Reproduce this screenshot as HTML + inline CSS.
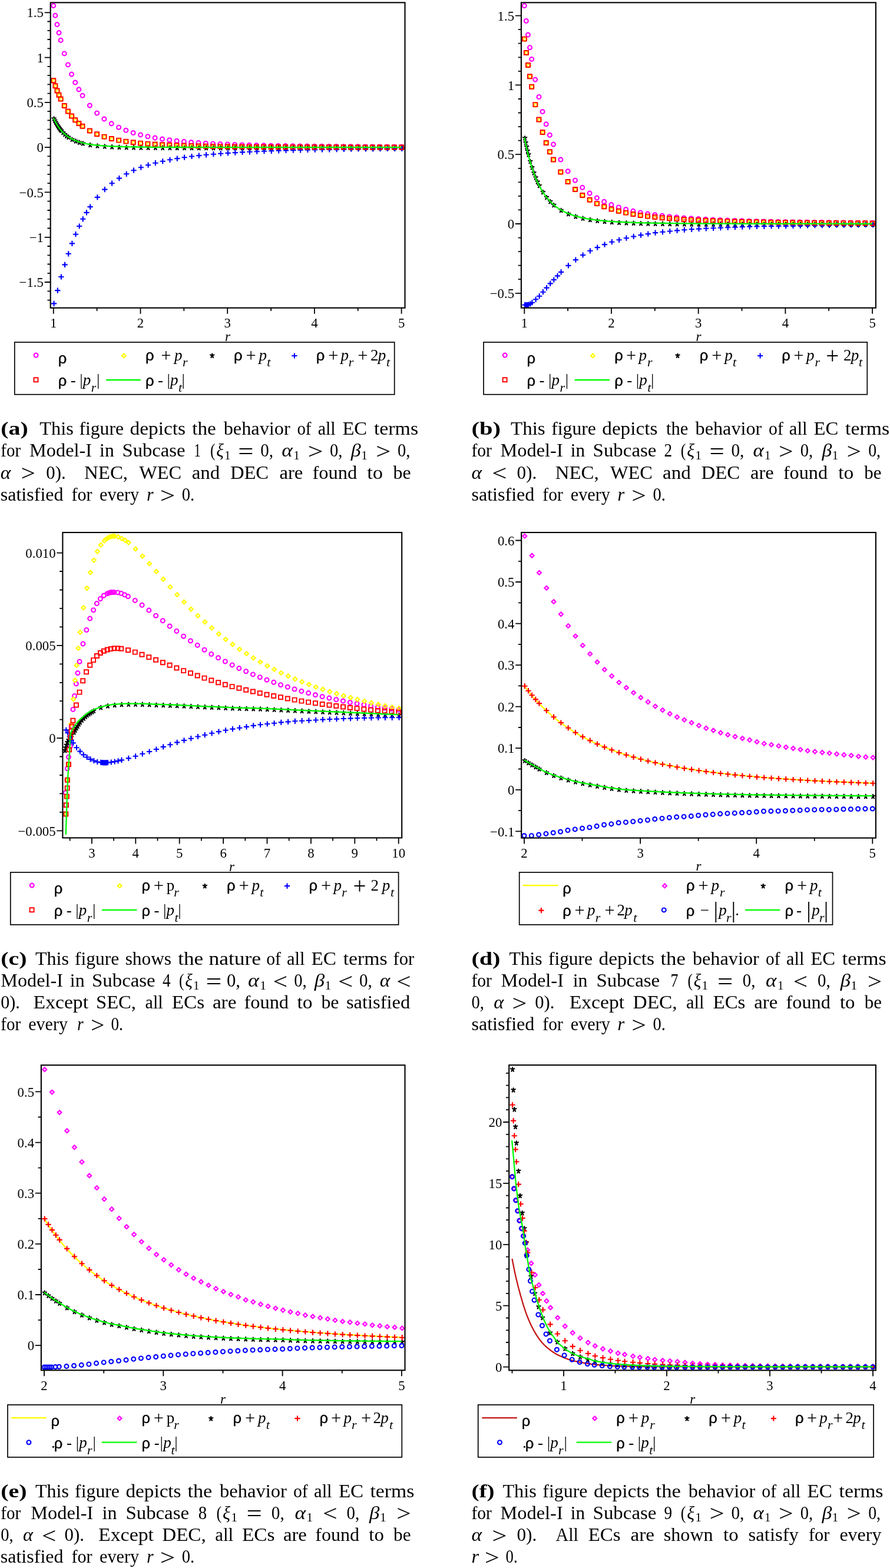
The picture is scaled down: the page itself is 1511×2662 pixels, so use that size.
<!DOCTYPE html>
<html lang="en"><head><meta charset="utf-8"><title>Energy conditions for Model-I</title>
<style>
html,body{margin:0;padding:0;background:#fff}
svg{display:block}
text{font-family:"Liberation Serif","DejaVu Serif",serif;fill:#000}
.tk text{font-size:22.8px}
.ax{font-size:23px;font-style:italic}
.lg{font-size:27px}
.lg .rho{font-family:"Liberation Sans","DejaVu Sans",sans-serif;font-size:25.6px;stroke:#000;stroke-width:.4px}
.it{font-style:italic}
.lg .sub{font-style:italic;font-size:22px}
.lg .pl{font-size:30.5px}
.lg .bp{font-size:39px}
.lg .bar{font-size:38px}
.cap text{font-size:31px}
.cap .b{font-weight:bold}
.cap .cs{font-size:22px}
.cap .rel{font-size:38px}
</style></head>
<body>
<svg xmlns="http://www.w3.org/2000/svg" width="1511" height="2662" viewBox="0 0 1511 2662">
<rect width="1511" height="2662" fill="#fff"/>
<g fill="none">
<path d="M87.3 9.6a3.45 3.45 0 1 0 6.9 0a3.45 3.45 0 1 0 -6.9 0M90.4 26.4a3.45 3.45 0 1 0 6.9 0a3.45 3.45 0 1 0 -6.9 0M93.5 41.6a3.45 3.45 0 1 0 6.9 0a3.45 3.45 0 1 0 -6.9 0M96.6 55.6a3.45 3.45 0 1 0 6.9 0a3.45 3.45 0 1 0 -6.9 0M99.7 68.4a3.45 3.45 0 1 0 6.9 0a3.45 3.45 0 1 0 -6.9 0M105.8 90.9a3.45 3.45 0 1 0 6.9 0a3.45 3.45 0 1 0 -6.9 0M112 109.9a3.45 3.45 0 1 0 6.9 0a3.45 3.45 0 1 0 -6.9 0M118.1 126.1a3.45 3.45 0 1 0 6.9 0a3.45 3.45 0 1 0 -6.9 0M124.3 140a3.45 3.45 0 1 0 6.9 0a3.45 3.45 0 1 0 -6.9 0M130.4 151.9a3.45 3.45 0 1 0 6.9 0a3.45 3.45 0 1 0 -6.9 0M136.6 162.3a3.45 3.45 0 1 0 6.9 0a3.45 3.45 0 1 0 -6.9 0M148.9 179.1a3.45 3.45 0 1 0 6.9 0a3.45 3.45 0 1 0 -6.9 0M161.2 192a3.45 3.45 0 1 0 6.9 0a3.45 3.45 0 1 0 -6.9 0M173.5 202a3.45 3.45 0 1 0 6.9 0a3.45 3.45 0 1 0 -6.9 0M185.8 209.9a3.45 3.45 0 1 0 6.9 0a3.45 3.45 0 1 0 -6.9 0M198.1 216.2a3.45 3.45 0 1 0 6.9 0a3.45 3.45 0 1 0 -6.9 0M210.4 221.3a3.45 3.45 0 1 0 6.9 0a3.45 3.45 0 1 0 -6.9 0M222.7 225.5a3.45 3.45 0 1 0 6.9 0a3.45 3.45 0 1 0 -6.9 0M235.1 228.9a3.45 3.45 0 1 0 6.9 0a3.45 3.45 0 1 0 -6.9 0M247.4 231.7a3.45 3.45 0 1 0 6.9 0a3.45 3.45 0 1 0 -6.9 0M259.7 234.1a3.45 3.45 0 1 0 6.9 0a3.45 3.45 0 1 0 -6.9 0M272 236.1a3.45 3.45 0 1 0 6.9 0a3.45 3.45 0 1 0 -6.9 0M284.3 237.8a3.45 3.45 0 1 0 6.9 0a3.45 3.45 0 1 0 -6.9 0M296.6 239.2a3.45 3.45 0 1 0 6.9 0a3.45 3.45 0 1 0 -6.9 0M308.9 240.4a3.45 3.45 0 1 0 6.9 0a3.45 3.45 0 1 0 -6.9 0M321.2 241.5a3.45 3.45 0 1 0 6.9 0a3.45 3.45 0 1 0 -6.9 0M333.5 242.4a3.45 3.45 0 1 0 6.9 0a3.45 3.45 0 1 0 -6.9 0M345.8 243.2a3.45 3.45 0 1 0 6.9 0a3.45 3.45 0 1 0 -6.9 0M358.1 243.9a3.45 3.45 0 1 0 6.9 0a3.45 3.45 0 1 0 -6.9 0M370.4 244.5a3.45 3.45 0 1 0 6.9 0a3.45 3.45 0 1 0 -6.9 0M382.8 245a3.45 3.45 0 1 0 6.9 0a3.45 3.45 0 1 0 -6.9 0M395.1 245.5a3.45 3.45 0 1 0 6.9 0a3.45 3.45 0 1 0 -6.9 0M407.4 245.9a3.45 3.45 0 1 0 6.9 0a3.45 3.45 0 1 0 -6.9 0M419.7 246.3a3.45 3.45 0 1 0 6.9 0a3.45 3.45 0 1 0 -6.9 0M432 246.6a3.45 3.45 0 1 0 6.9 0a3.45 3.45 0 1 0 -6.9 0M444.3 246.9a3.45 3.45 0 1 0 6.9 0a3.45 3.45 0 1 0 -6.9 0M456.6 247.2a3.45 3.45 0 1 0 6.9 0a3.45 3.45 0 1 0 -6.9 0M468.9 247.4a3.45 3.45 0 1 0 6.9 0a3.45 3.45 0 1 0 -6.9 0M481.2 247.6a3.45 3.45 0 1 0 6.9 0a3.45 3.45 0 1 0 -6.9 0M493.5 247.8a3.45 3.45 0 1 0 6.9 0a3.45 3.45 0 1 0 -6.9 0M505.8 248a3.45 3.45 0 1 0 6.9 0a3.45 3.45 0 1 0 -6.9 0M518.1 248.1a3.45 3.45 0 1 0 6.9 0a3.45 3.45 0 1 0 -6.9 0M530.4 248.3a3.45 3.45 0 1 0 6.9 0a3.45 3.45 0 1 0 -6.9 0M542.8 248.4a3.45 3.45 0 1 0 6.9 0a3.45 3.45 0 1 0 -6.9 0M555.1 248.5a3.45 3.45 0 1 0 6.9 0a3.45 3.45 0 1 0 -6.9 0M567.4 248.6a3.45 3.45 0 1 0 6.9 0a3.45 3.45 0 1 0 -6.9 0M579.7 248.7a3.45 3.45 0 1 0 6.9 0a3.45 3.45 0 1 0 -6.9 0M592 248.8a3.45 3.45 0 1 0 6.9 0a3.45 3.45 0 1 0 -6.9 0M604.3 248.9a3.45 3.45 0 1 0 6.9 0a3.45 3.45 0 1 0 -6.9 0M616.6 249a3.45 3.45 0 1 0 6.9 0a3.45 3.45 0 1 0 -6.9 0M628.9 249.1a3.45 3.45 0 1 0 6.9 0a3.45 3.45 0 1 0 -6.9 0M641.2 249.1a3.45 3.45 0 1 0 6.9 0a3.45 3.45 0 1 0 -6.9 0M653.5 249.2a3.45 3.45 0 1 0 6.9 0a3.45 3.45 0 1 0 -6.9 0M665.8 249.2a3.45 3.45 0 1 0 6.9 0a3.45 3.45 0 1 0 -6.9 0M678.1 249.3a3.45 3.45 0 1 0 6.9 0a3.45 3.45 0 1 0 -6.9 0" stroke="#ff00ff" stroke-width="2.15"/>
<path d="M91.6 134l3.4 3.4l-3.4 3.4l-3.4 -3.4zM94.7 143l3.4 3.4l-3.4 3.4l-3.4 -3.4zM97.8 151.1l3.4 3.4l-3.4 3.4l-3.4 -3.4zM100.8 158.4l3.4 3.4l-3.4 3.4l-3.4 -3.4zM103.9 165.1l3.4 3.4l-3.4 3.4l-3.4 -3.4zM110.1 176.6l3.4 3.4l-3.4 3.4l-3.4 -3.4zM116.2 186.2l3.4 3.4l-3.4 3.4l-3.4 -3.4zM122.4 194.2l3.4 3.4l-3.4 3.4l-3.4 -3.4zM128.5 200.9l3.4 3.4l-3.4 3.4l-3.4 -3.4zM134.7 206.6l3.4 3.4l-3.4 3.4l-3.4 -3.4zM140.8 211.5l3.4 3.4l-3.4 3.4l-3.4 -3.4zM153.1 219.2l3.4 3.4l-3.4 3.4l-3.4 -3.4zM165.4 225l3.4 3.4l-3.4 3.4l-3.4 -3.4zM177.8 229.3l3.4 3.4l-3.4 3.4l-3.4 -3.4zM190.1 232.7l3.4 3.4l-3.4 3.4l-3.4 -3.4zM202.4 235.3l3.4 3.4l-3.4 3.4l-3.4 -3.4zM214.7 237.3l3.4 3.4l-3.4 3.4l-3.4 -3.4zM227 239l3.4 3.4l-3.4 3.4l-3.4 -3.4zM239.3 240.3l3.4 3.4l-3.4 3.4l-3.4 -3.4zM251.6 241.3l3.4 3.4l-3.4 3.4l-3.4 -3.4zM263.9 242.2l3.4 3.4l-3.4 3.4l-3.4 -3.4zM276.2 242.9l3.4 3.4l-3.4 3.4l-3.4 -3.4zM288.5 243.5l3.4 3.4l-3.4 3.4l-3.4 -3.4zM300.8 244l3.4 3.4l-3.4 3.4l-3.4 -3.4zM313.1 244.4l3.4 3.4l-3.4 3.4l-3.4 -3.4zM325.5 244.8l3.4 3.4l-3.4 3.4l-3.4 -3.4zM337.8 245.1l3.4 3.4l-3.4 3.4l-3.4 -3.4zM350.1 245.4l3.4 3.4l-3.4 3.4l-3.4 -3.4zM362.4 245.6l3.4 3.4l-3.4 3.4l-3.4 -3.4zM374.7 245.8l3.4 3.4l-3.4 3.4l-3.4 -3.4zM387 246l3.4 3.4l-3.4 3.4l-3.4 -3.4zM399.3 246.1l3.4 3.4l-3.4 3.4l-3.4 -3.4zM411.6 246.2l3.4 3.4l-3.4 3.4l-3.4 -3.4zM423.9 246.3l3.4 3.4l-3.4 3.4l-3.4 -3.4zM436.2 246.4l3.4 3.4l-3.4 3.4l-3.4 -3.4zM448.5 246.5l3.4 3.4l-3.4 3.4l-3.4 -3.4zM460.8 246.6l3.4 3.4l-3.4 3.4l-3.4 -3.4zM473.2 246.7l3.4 3.4l-3.4 3.4l-3.4 -3.4zM485.5 246.7l3.4 3.4l-3.4 3.4l-3.4 -3.4zM497.8 246.8l3.4 3.4l-3.4 3.4l-3.4 -3.4zM510.1 246.8l3.4 3.4l-3.4 3.4l-3.4 -3.4zM522.4 246.9l3.4 3.4l-3.4 3.4l-3.4 -3.4zM534.7 246.9l3.4 3.4l-3.4 3.4l-3.4 -3.4zM547 246.9l3.4 3.4l-3.4 3.4l-3.4 -3.4zM559.3 247l3.4 3.4l-3.4 3.4l-3.4 -3.4zM571.6 247l3.4 3.4l-3.4 3.4l-3.4 -3.4zM583.9 247l3.4 3.4l-3.4 3.4l-3.4 -3.4zM596.2 247.1l3.4 3.4l-3.4 3.4l-3.4 -3.4zM608.5 247.1l3.4 3.4l-3.4 3.4l-3.4 -3.4zM620.9 247.1l3.4 3.4l-3.4 3.4l-3.4 -3.4zM633.2 247.1l3.4 3.4l-3.4 3.4l-3.4 -3.4zM645.5 247.1l3.4 3.4l-3.4 3.4l-3.4 -3.4zM657.8 247.1l3.4 3.4l-3.4 3.4l-3.4 -3.4zM670.1 247.2l3.4 3.4l-3.4 3.4l-3.4 -3.4zM682.4 247.2l3.4 3.4l-3.4 3.4l-3.4 -3.4z" stroke="#ffff00" stroke-width="2.2"/>
<path d="M91.6 201.6l0 -3.2M91.6 201.6l-3.1 -1.3M91.6 201.6l3.1 -1.3M91.6 201.6l-1.8 3.1M91.6 201.6l1.8 3.1M93.1 204.8l0 -3.2M93.1 204.8l-3.1 -1.3M93.1 204.8l3.1 -1.3M93.1 204.8l-1.8 3.1M93.1 204.8l1.8 3.1M94.7 207.8l0 -3.2M94.7 207.8l-3.1 -1.3M94.7 207.8l3.1 -1.3M94.7 207.8l-1.8 3.1M94.7 207.8l1.8 3.1M96.2 210.5l0 -3.2M96.2 210.5l-3.1 -1.3M96.2 210.5l3.1 -1.3M96.2 210.5l-1.8 3.1M96.2 210.5l1.8 3.1M97.8 213.1l0 -3.2M97.8 213.1l-3.1 -1.3M97.8 213.1l3.1 -1.3M97.8 213.1l-1.8 3.1M97.8 213.1l1.8 3.1M99.3 215.5l0 -3.2M99.3 215.5l-3.1 -1.3M99.3 215.5l3.1 -1.3M99.3 215.5l-1.8 3.1M99.3 215.5l1.8 3.1M100.8 217.7l0 -3.2M100.8 217.7l-3.1 -1.3M100.8 217.7l3.1 -1.3M100.8 217.7l-1.8 3.1M100.8 217.7l1.8 3.1M102.4 219.8l0 -3.2M102.4 219.8l-3.1 -1.3M102.4 219.8l3.1 -1.3M102.4 219.8l-1.8 3.1M102.4 219.8l1.8 3.1M103.9 221.7l0 -3.2M103.9 221.7l-3.1 -1.3M103.9 221.7l3.1 -1.3M103.9 221.7l-1.8 3.1M103.9 221.7l1.8 3.1M107 225.1l0 -3.2M107 225.1l-3.1 -1.3M107 225.1l3.1 -1.3M107 225.1l-1.8 3.1M107 225.1l1.8 3.1M110.1 228.1l0 -3.2M110.1 228.1l-3.1 -1.3M110.1 228.1l3.1 -1.3M110.1 228.1l-1.8 3.1M110.1 228.1l1.8 3.1M113.1 230.7l0 -3.2M113.1 230.7l-3.1 -1.3M113.1 230.7l3.1 -1.3M113.1 230.7l-1.8 3.1M113.1 230.7l1.8 3.1M116.2 232.9l0 -3.2M116.2 232.9l-3.1 -1.3M116.2 232.9l3.1 -1.3M116.2 232.9l-1.8 3.1M116.2 232.9l1.8 3.1M122.4 236.7l0 -3.2M122.4 236.7l-3.1 -1.3M122.4 236.7l3.1 -1.3M122.4 236.7l-1.8 3.1M122.4 236.7l1.8 3.1M128.5 239.5l0 -3.2M128.5 239.5l-3.1 -1.3M128.5 239.5l3.1 -1.3M128.5 239.5l-1.8 3.1M128.5 239.5l1.8 3.1M134.7 241.8l0 -3.2M134.7 241.8l-3.1 -1.3M134.7 241.8l3.1 -1.3M134.7 241.8l-1.8 3.1M134.7 241.8l1.8 3.1M140.8 243.5l0 -3.2M140.8 243.5l-3.1 -1.3M140.8 243.5l3.1 -1.3M140.8 243.5l-1.8 3.1M140.8 243.5l1.8 3.1M153.1 246l0 -3.2M153.1 246l-3.1 -1.3M153.1 246l3.1 -1.3M153.1 246l-1.8 3.1M153.1 246l1.8 3.1M165.4 247.6l0 -3.2M165.4 247.6l-3.1 -1.3M165.4 247.6l3.1 -1.3M165.4 247.6l-1.8 3.1M165.4 247.6l1.8 3.1M177.8 248.6l0 -3.2M177.8 248.6l-3.1 -1.3M177.8 248.6l3.1 -1.3M177.8 248.6l-1.8 3.1M177.8 248.6l1.8 3.1M190.1 249.4l0 -3.2M190.1 249.4l-3.1 -1.3M190.1 249.4l3.1 -1.3M190.1 249.4l-1.8 3.1M190.1 249.4l1.8 3.1M202.4 249.8l0 -3.2M202.4 249.8l-3.1 -1.3M202.4 249.8l3.1 -1.3M202.4 249.8l-1.8 3.1M202.4 249.8l1.8 3.1M214.7 250.2l0 -3.2M214.7 250.2l-3.1 -1.3M214.7 250.2l3.1 -1.3M214.7 250.2l-1.8 3.1M214.7 250.2l1.8 3.1M227 250.4l0 -3.2M227 250.4l-3.1 -1.3M227 250.4l3.1 -1.3M227 250.4l-1.8 3.1M227 250.4l1.8 3.1M239.3 250.6l0 -3.2M239.3 250.6l-3.1 -1.3M239.3 250.6l3.1 -1.3M239.3 250.6l-1.8 3.1M239.3 250.6l1.8 3.1M251.6 250.7l0 -3.2M251.6 250.7l-3.1 -1.3M251.6 250.7l3.1 -1.3M251.6 250.7l-1.8 3.1M251.6 250.7l1.8 3.1M263.9 250.8l0 -3.2M263.9 250.8l-3.1 -1.3M263.9 250.8l3.1 -1.3M263.9 250.8l-1.8 3.1M263.9 250.8l1.8 3.1M276.2 250.9l0 -3.2M276.2 250.9l-3.1 -1.3M276.2 250.9l3.1 -1.3M276.2 250.9l-1.8 3.1M276.2 250.9l1.8 3.1M288.5 250.9l0 -3.2M288.5 250.9l-3.1 -1.3M288.5 250.9l3.1 -1.3M288.5 250.9l-1.8 3.1M288.5 250.9l1.8 3.1M300.8 251l0 -3.2M300.8 251l-3.1 -1.3M300.8 251l3.1 -1.3M300.8 251l-1.8 3.1M300.8 251l1.8 3.1M313.1 251l0 -3.2M313.1 251l-3.1 -1.3M313.1 251l3.1 -1.3M313.1 251l-1.8 3.1M313.1 251l1.8 3.1M325.5 251l0 -3.2M325.5 251l-3.1 -1.3M325.5 251l3.1 -1.3M325.5 251l-1.8 3.1M325.5 251l1.8 3.1M337.8 251.1l0 -3.2M337.8 251.1l-3.1 -1.3M337.8 251.1l3.1 -1.3M337.8 251.1l-1.8 3.1M337.8 251.1l1.8 3.1M350.1 251.1l0 -3.2M350.1 251.1l-3.1 -1.3M350.1 251.1l3.1 -1.3M350.1 251.1l-1.8 3.1M350.1 251.1l1.8 3.1M362.4 251.1l0 -3.2M362.4 251.1l-3.1 -1.3M362.4 251.1l3.1 -1.3M362.4 251.1l-1.8 3.1M362.4 251.1l1.8 3.1M374.7 251.1l0 -3.2M374.7 251.1l-3.1 -1.3M374.7 251.1l3.1 -1.3M374.7 251.1l-1.8 3.1M374.7 251.1l1.8 3.1M387 251.1l0 -3.2M387 251.1l-3.1 -1.3M387 251.1l3.1 -1.3M387 251.1l-1.8 3.1M387 251.1l1.8 3.1M399.3 251.1l0 -3.2M399.3 251.1l-3.1 -1.3M399.3 251.1l3.1 -1.3M399.3 251.1l-1.8 3.1M399.3 251.1l1.8 3.1M411.6 251.1l0 -3.2M411.6 251.1l-3.1 -1.3M411.6 251.1l3.1 -1.3M411.6 251.1l-1.8 3.1M411.6 251.1l1.8 3.1M423.9 251.1l0 -3.2M423.9 251.1l-3.1 -1.3M423.9 251.1l3.1 -1.3M423.9 251.1l-1.8 3.1M423.9 251.1l1.8 3.1M436.2 251.1l0 -3.2M436.2 251.1l-3.1 -1.3M436.2 251.1l3.1 -1.3M436.2 251.1l-1.8 3.1M436.2 251.1l1.8 3.1M448.5 251.1l0 -3.2M448.5 251.1l-3.1 -1.3M448.5 251.1l3.1 -1.3M448.5 251.1l-1.8 3.1M448.5 251.1l1.8 3.1M460.8 251.1l0 -3.2M460.8 251.1l-3.1 -1.3M460.8 251.1l3.1 -1.3M460.8 251.1l-1.8 3.1M460.8 251.1l1.8 3.1M473.2 251.1l0 -3.2M473.2 251.1l-3.1 -1.3M473.2 251.1l3.1 -1.3M473.2 251.1l-1.8 3.1M473.2 251.1l1.8 3.1M485.5 251.1l0 -3.2M485.5 251.1l-3.1 -1.3M485.5 251.1l3.1 -1.3M485.5 251.1l-1.8 3.1M485.5 251.1l1.8 3.1M497.8 251.1l0 -3.2M497.8 251.1l-3.1 -1.3M497.8 251.1l3.1 -1.3M497.8 251.1l-1.8 3.1M497.8 251.1l1.8 3.1M510.1 251.1l0 -3.2M510.1 251.1l-3.1 -1.3M510.1 251.1l3.1 -1.3M510.1 251.1l-1.8 3.1M510.1 251.1l1.8 3.1M522.4 251.1l0 -3.2M522.4 251.1l-3.1 -1.3M522.4 251.1l3.1 -1.3M522.4 251.1l-1.8 3.1M522.4 251.1l1.8 3.1M534.7 251.1l0 -3.2M534.7 251.1l-3.1 -1.3M534.7 251.1l3.1 -1.3M534.7 251.1l-1.8 3.1M534.7 251.1l1.8 3.1M547 251.1l0 -3.2M547 251.1l-3.1 -1.3M547 251.1l3.1 -1.3M547 251.1l-1.8 3.1M547 251.1l1.8 3.1M559.3 251.1l0 -3.2M559.3 251.1l-3.1 -1.3M559.3 251.1l3.1 -1.3M559.3 251.1l-1.8 3.1M559.3 251.1l1.8 3.1M571.6 251.1l0 -3.2M571.6 251.1l-3.1 -1.3M571.6 251.1l3.1 -1.3M571.6 251.1l-1.8 3.1M571.6 251.1l1.8 3.1M583.9 251.1l0 -3.2M583.9 251.1l-3.1 -1.3M583.9 251.1l3.1 -1.3M583.9 251.1l-1.8 3.1M583.9 251.1l1.8 3.1M596.2 251.1l0 -3.2M596.2 251.1l-3.1 -1.3M596.2 251.1l3.1 -1.3M596.2 251.1l-1.8 3.1M596.2 251.1l1.8 3.1M608.5 251.1l0 -3.2M608.5 251.1l-3.1 -1.3M608.5 251.1l3.1 -1.3M608.5 251.1l-1.8 3.1M608.5 251.1l1.8 3.1M620.9 251.1l0 -3.2M620.9 251.1l-3.1 -1.3M620.9 251.1l3.1 -1.3M620.9 251.1l-1.8 3.1M620.9 251.1l1.8 3.1M633.2 251.1l0 -3.2M633.2 251.1l-3.1 -1.3M633.2 251.1l3.1 -1.3M633.2 251.1l-1.8 3.1M633.2 251.1l1.8 3.1M645.5 251.1l0 -3.2M645.5 251.1l-3.1 -1.3M645.5 251.1l3.1 -1.3M645.5 251.1l-1.8 3.1M645.5 251.1l1.8 3.1M657.8 251.1l0 -3.2M657.8 251.1l-3.1 -1.3M657.8 251.1l3.1 -1.3M657.8 251.1l-1.8 3.1M657.8 251.1l1.8 3.1M670.1 251.1l0 -3.2M670.1 251.1l-3.1 -1.3M670.1 251.1l3.1 -1.3M670.1 251.1l-1.8 3.1M670.1 251.1l1.8 3.1M682.4 251.1l0 -3.2M682.4 251.1l-3.1 -1.3M682.4 251.1l3.1 -1.3M682.4 251.1l-1.8 3.1M682.4 251.1l1.8 3.1" stroke="#000000" stroke-width="2.2" stroke-linecap="round"/>
<path d="M87 515.4h9.2M91.6 510.8v9.2M93.2 493.1h9.2M97.8 488.5v9.2M99.3 470h9.2M103.9 465.4v9.2M105.5 449.4h9.2M110.1 444.8v9.2M111.6 430.8h9.2M116.2 426.2v9.2M117.8 413.4h9.2M122.4 408.8v9.2M123.9 397.7h9.2M128.5 393.1v9.2M130.1 384h9.2M134.7 379.4v9.2M136.2 371.8h9.2M140.8 367.2v9.2M142.4 360.9h9.2M147 356.3v9.2M148.5 351.1h9.2M153.1 346.5v9.2M160.8 334.9h9.2M165.4 330.3v9.2M173.2 321.6h9.2M177.8 317v9.2M185.5 311.2h9.2M190.1 306.6v9.2M197.8 302.6h9.2M202.4 298v9.2M210.1 295.3h9.2M214.7 290.7v9.2M222.4 289.2h9.2M227 284.6v9.2M234.7 284.2h9.2M239.3 279.6v9.2M247 280.2h9.2M251.6 275.6v9.2M259.3 276.7h9.2M263.9 272.1v9.2M271.6 273.8h9.2M276.2 269.2v9.2M283.9 271.3h9.2M288.5 266.7v9.2M296.2 269.1h9.2M300.8 264.5v9.2M308.5 267.2h9.2M313.1 262.6v9.2M320.9 265.5h9.2M325.5 260.9v9.2M333.2 264.1h9.2M337.8 259.5v9.2M345.5 262.8h9.2M350.1 258.2v9.2M357.8 261.7h9.2M362.4 257.1v9.2M370.1 260.7h9.2M374.7 256.1v9.2M382.4 259.9h9.2M387 255.3v9.2M394.7 259.1h9.2M399.3 254.5v9.2M407 258.4h9.2M411.6 253.8v9.2M419.3 257.8h9.2M423.9 253.2v9.2M431.6 257.2h9.2M436.2 252.6v9.2M443.9 256.7h9.2M448.5 252.1v9.2M456.2 256.3h9.2M460.8 251.7v9.2M468.6 255.8h9.2M473.2 251.2v9.2M480.9 255.5h9.2M485.5 250.9v9.2M493.2 255.1h9.2M497.8 250.5v9.2M505.5 254.8h9.2M510.1 250.2v9.2M517.8 254.5h9.2M522.4 249.9v9.2M530.1 254.2h9.2M534.7 249.6v9.2M542.4 254h9.2M547 249.4v9.2M554.7 253.8h9.2M559.3 249.2v9.2M567 253.6h9.2M571.6 249v9.2M579.3 253.4h9.2M583.9 248.8v9.2M591.6 253.2h9.2M596.2 248.6v9.2M603.9 253h9.2M608.5 248.4v9.2M616.3 252.9h9.2M620.9 248.3v9.2M628.6 252.8h9.2M633.2 248.2v9.2M640.9 252.6h9.2M645.5 248v9.2M653.2 252.5h9.2M657.8 247.9v9.2M665.5 252.4h9.2M670.1 247.8v9.2M677.8 252.3h9.2M682.4 247.7v9.2" stroke="#0000ff" stroke-width="2.1"/>
<path d="M87.3 133.3h7v7h-7zM90.4 142.3h7v7h-7zM93.5 150.4h7v7h-7zM96.5 157.7h7v7h-7zM99.6 164.4h7v7h-7zM105.8 175.9h7v7h-7zM111.9 185.5h7v7h-7zM118.1 193.5h7v7h-7zM124.2 200.2h7v7h-7zM130.4 205.9h7v7h-7zM136.5 210.8h7v7h-7zM148.8 218.5h7v7h-7zM161.1 224.3h7v7h-7zM173.5 228.6h7v7h-7zM185.8 232h7v7h-7zM198.1 234.6h7v7h-7zM210.4 236.6h7v7h-7zM222.7 238.3h7v7h-7zM235 239.6h7v7h-7zM247.3 240.6h7v7h-7zM259.6 241.5h7v7h-7zM271.9 242.2h7v7h-7zM284.2 242.8h7v7h-7zM296.5 243.3h7v7h-7zM308.8 243.7h7v7h-7zM321.2 244.1h7v7h-7zM333.5 244.4h7v7h-7zM345.8 244.7h7v7h-7zM358.1 244.9h7v7h-7zM370.4 245.1h7v7h-7zM382.7 245.3h7v7h-7zM395 245.4h7v7h-7zM407.3 245.5h7v7h-7zM419.6 245.6h7v7h-7zM431.9 245.7h7v7h-7zM444.2 245.8h7v7h-7zM456.5 245.9h7v7h-7zM468.9 246h7v7h-7zM481.2 246h7v7h-7zM493.5 246.1h7v7h-7zM505.8 246.1h7v7h-7zM518.1 246.2h7v7h-7zM530.4 246.2h7v7h-7zM542.7 246.2h7v7h-7zM555 246.3h7v7h-7zM567.3 246.3h7v7h-7zM579.6 246.3h7v7h-7zM591.9 246.4h7v7h-7zM604.2 246.4h7v7h-7zM616.6 246.4h7v7h-7zM628.9 246.4h7v7h-7zM641.2 246.4h7v7h-7zM653.5 246.4h7v7h-7zM665.8 246.5h7v7h-7zM678.1 246.5h7v7h-7z" stroke="#ff0000" stroke-width="1.95"/>
<path d="M90.8 200.6L92.8 204.7L94.8 208.4L96.7 211.7L98.7 214.8L100.7 217.6L102.7 220.1L104.6 222.4L106.6 224.5L108.6 226.5L110.6 228.2L112.5 229.8L114.5 231.3L116.5 232.7L118.5 233.9L120.4 235L122.4 236.1L124.4 237.1L126.4 237.9L128.3 238.8L130.3 239.5L132.3 240.2L134.3 240.9L136.2 241.5L138.2 242L140.2 242.5L142.2 243L144.1 243.5L146.1 243.9L148.1 244.3L150.1 244.6L152.1 244.9L154 245.3L156 245.5L158 245.8L160 246.1L161.9 246.3L163.9 246.5L165.9 246.7L167.9 246.9L169.8 247.1L171.8 247.3L173.8 247.4L175.8 247.6L177.7 247.7L179.7 247.8L181.7 248L183.7 248.1L185.6 248.2L187.6 248.3L189.6 248.4L191.6 248.5L193.5 248.5L195.5 248.6L197.5 248.7L199.5 248.8L201.5 248.8L203.4 248.9L205.4 249L207.4 249L209.4 249.1L211.3 249.1L213.3 249.2L215.3 249.2L217.3 249.3L219.2 249.3L221.2 249.3L223.2 249.4L225.2 249.4L227.1 249.4L229.1 249.5L231.1 249.5L233.1 249.5L235 249.6L237 249.6L239 249.6L241 249.6L242.9 249.7L244.9 249.7L246.9 249.7L248.9 249.7L250.8 249.7L252.8 249.7L254.8 249.8L256.8 249.8L258.8 249.8L260.7 249.8L262.7 249.8L264.7 249.8L266.7 249.8L268.6 249.9L270.6 249.9L272.6 249.9L274.6 249.9L276.5 249.9L278.5 249.9L280.5 249.9L282.5 249.9L284.4 249.9L286.4 249.9L288.4 250L290.4 250L292.3 250L294.3 250L296.3 250L298.3 250L300.2 250L302.2 250L304.2 250L306.2 250L308.2 250L310.1 250L312.1 250L314.1 250L316.1 250L318 250L320 250L322 250L324 250L325.9 250L327.9 250.1L329.9 250.1L331.9 250.1L333.8 250.1L335.8 250.1L337.8 250.1L339.8 250.1L341.7 250.1L343.7 250.1L345.7 250.1L347.7 250.1L349.6 250.1L351.6 250.1L353.6 250.1L355.6 250.1L357.5 250.1L359.5 250.1L361.5 250.1L363.5 250.1L365.5 250.1L367.4 250.1L369.4 250.1L371.4 250.1L373.4 250.1L375.3 250.1L377.3 250.1L379.3 250.1L381.3 250.1L383.2 250.1L385.2 250.1L387.2 250.1L389.2 250.1L391.1 250.1L393.1 250.1L395.1 250.1L397.1 250.1L399 250.1L401 250.1L403 250.1L405 250.1L406.9 250.1L408.9 250.1L410.9 250.1L412.9 250.1L414.9 250.1L416.8 250.1L418.8 250.1L420.8 250.1L422.8 250.1L424.7 250.1L426.7 250.1L428.7 250.1L430.7 250.1L432.6 250.1L434.6 250.1L436.6 250.1L438.6 250.1L440.5 250.1L442.5 250.1L444.5 250.1L446.5 250.1L448.4 250.1L450.4 250.1L452.4 250.1L454.4 250.1L456.3 250.1L458.3 250.1L460.3 250.1L462.3 250.1L464.2 250.1L466.2 250.1L468.2 250.1L470.2 250.1L472.2 250.1L474.1 250.1L476.1 250.1L478.1 250.1L480.1 250.1L482 250.1L484 250.1L486 250.1L488 250.1L489.9 250.1L491.9 250.1L493.9 250.1L495.9 250.1L497.8 250.1L499.8 250.1L501.8 250.1L503.8 250.1L505.7 250.1L507.7 250.1L509.7 250.1L511.7 250.1L513.6 250.1L515.6 250.1L517.6 250.1L519.6 250.1L521.6 250.1L523.5 250.1L525.5 250.1L527.5 250.1L529.5 250.1L531.4 250.1L533.4 250.1L535.4 250.1L537.4 250.1L539.3 250.1L541.3 250.1L543.3 250.1L545.3 250.1L547.2 250.1L549.2 250.1L551.2 250.1L553.2 250.1L555.1 250.1L557.1 250.1L559.1 250.1L561.1 250.1L563 250.1L565 250.1L567 250.1L569 250.1L570.9 250.1L572.9 250.1L574.9 250.1L576.9 250.1L578.9 250.1L580.8 250.1L582.8 250.1L584.8 250.1L586.8 250.1L588.7 250.1L590.7 250.1L592.7 250.1L594.7 250.1L596.6 250.1L598.6 250.1L600.6 250.1L602.6 250.1L604.5 250.1L606.5 250.1L608.5 250.1L610.5 250.1L612.4 250.1L614.4 250.1L616.4 250.1L618.4 250.1L620.3 250.1L622.3 250.1L624.3 250.1L626.3 250.1L628.3 250.1L630.2 250.1L632.2 250.1L634.2 250.1L636.2 250.1L638.1 250.1L640.1 250.1L642.1 250.1L644.1 250.1L646 250.1L648 250.1L650 250.1L652 250.1L653.9 250.1L655.9 250.1L657.9 250.1L659.9 250.1L661.8 250.1L663.8 250.1L665.8 250.1L667.8 250.1L669.7 250.1L671.7 250.1L673.7 250.1L675.7 250.1L677.6 250.1L679.6 250.1L681.6 250.1" stroke="#00ff00" stroke-width="2.3" stroke-linejoin="round"/>
<rect x="85.7" y="4.4" width="601.8" height="518.3" stroke="#000" stroke-width="2.1"/>
<path d="M90.8 522.7v10M238.5 522.7v10M386.2 522.7v10M533.9 522.7v10M681.6 522.7v10M164.6 522.7v5.2M312.3 522.7v5.2M460.1 522.7v5.2M607.7 522.7v5.2M85.7 21.3h-10M85.7 97.6h-10M85.7 173.9h-10M85.7 250.2h-10M85.7 326.4h-10M85.7 402.8h-10M85.7 479h-10M85.7 509.6h-5.2M85.7 494.3h-5.2M85.7 463.8h-5.2M85.7 448.5h-5.2M85.7 433.3h-5.2M85.7 418h-5.2M85.7 387.5h-5.2M85.7 372.2h-5.2M85.7 357h-5.2M85.7 341.7h-5.2M85.7 311.2h-5.2M85.7 295.9h-5.2M85.7 280.7h-5.2M85.7 265.4h-5.2M85.7 234.9h-5.2M85.7 219.6h-5.2M85.7 204.4h-5.2M85.7 189.1h-5.2M85.7 158.6h-5.2M85.7 143.3h-5.2M85.7 128.1h-5.2M85.7 112.8h-5.2M85.7 82.3h-5.2M85.7 67h-5.2M85.7 51.8h-5.2M85.7 36.5h-5.2" stroke="#000" stroke-width="1.8"/>
</g>
<g class="tk" transform="scale(1,1.04)">
<text x="90.8" y="534.9" text-anchor="middle">1</text>
<text x="238.5" y="534.9" text-anchor="middle">2</text>
<text x="386.2" y="534.9" text-anchor="middle">3</text>
<text x="533.9" y="534.9" text-anchor="middle">4</text>
<text x="681.6" y="534.9" text-anchor="middle">5</text>
<text x="73.9" y="28.32" text-anchor="end">1.5</text>
<text x="73.9" y="101.68" text-anchor="end">1</text>
<text x="73.9" y="175.05" text-anchor="end">0.5</text>
<text x="73.9" y="248.41" text-anchor="end">0</text>
<text x="73.9" y="321.78" text-anchor="end">−0.5</text>
<text x="73.9" y="395.14" text-anchor="end">−1</text>
<text x="73.9" y="468.51" text-anchor="end">−1.5</text>
</g>
<text class="ax" x="386.5" y="579.4" text-anchor="middle">r</text>
<rect x="24.8" y="581" width="644.9" height="88.7" fill="#fff" stroke="#000" stroke-width="1.7"/>
<g fill="none">
<path d="M57.6 603.1a3.45 3.45 0 1 0 6.9 0a3.45 3.45 0 1 0 -6.9 0" stroke="#ff00ff" stroke-width="2.15"/>
<path d="M210.3 600.5l3.4 3.4l-3.4 3.4l-3.4 -3.4z" stroke="#ffff00" stroke-width="2.2"/>
<path d="M360.2 603.8l0 -3.2M360.2 603.8l-3.1 -1.3M360.2 603.8l3.1 -1.3M360.2 603.8l-1.8 3.1M360.2 603.8l1.8 3.1" stroke="#000000" stroke-width="2.2" stroke-linecap="round"/>
<path d="M495.3 604h9.2M499.9 599.4v9.2" stroke="#0000ff" stroke-width="2.1"/>
<path d="M57.5 641.3h7v7h-7z" stroke="#ff0000" stroke-width="1.95"/>
<path d="M180.2 645H238.9" stroke="#00ff00" stroke-width="2.3"/>
</g>
<text class="lg"><tspan class="rho" x="98.8" y="616.5">ρ</tspan><tspan class="rho" x="246.9" y="612.4">ρ</tspan><tspan class="pl" x="273.3" y="613.8">+</tspan><tspan class="it" x="296.1" y="611.8">p</tspan><tspan class="sub" x="310.1" y="622.4">r</tspan><tspan class="rho" x="397.1" y="612.4">ρ</tspan><tspan class="pl" x="417.5" y="613.8">+</tspan><tspan class="it" x="439.5" y="611.8">p</tspan><tspan class="sub" x="453.3" y="622.4">t</tspan><tspan class="rho" x="536.8" y="612.4">ρ</tspan><tspan class="pl" x="557.2" y="613.8">+</tspan><tspan class="it" x="578.6" y="611.8">p</tspan><tspan class="sub" x="591.7" y="622.4">r</tspan><tspan class="pl" x="607.3" y="613.8">+</tspan><tspan x="629" y="611.8">2</tspan><tspan class="it" x="641.7" y="611.8">p</tspan><tspan class="sub" x="656.1" y="622.4">t</tspan><tspan class="rho" x="98.8" y="654.7">ρ</tspan><tspan x="119.8" y="654.1">-</tspan><tspan x="135.3" y="654.1">|</tspan><tspan class="it" x="140.8" y="654.1">p</tspan><tspan class="sub" x="154.8" y="664.7">r</tspan><tspan x="164.1" y="654.1">|</tspan><tspan class="rho" x="246.9" y="654.7">ρ</tspan><tspan x="267.9" y="654.1">-</tspan><tspan x="283.4" y="654.1">|</tspan><tspan class="it" x="289" y="654.1">p</tspan><tspan class="sub" x="303" y="664.7">t</tspan><tspan x="308.6" y="654.1">|</tspan></text>
<g fill="none">
<path d="M886.8 9.7a3.45 3.45 0 1 0 6.9 0a3.45 3.45 0 1 0 -6.9 0M889.9 35.5a3.45 3.45 0 1 0 6.9 0a3.45 3.45 0 1 0 -6.9 0M893 59.1a3.45 3.45 0 1 0 6.9 0a3.45 3.45 0 1 0 -6.9 0M896.1 80.7a3.45 3.45 0 1 0 6.9 0a3.45 3.45 0 1 0 -6.9 0M899.2 100.4a3.45 3.45 0 1 0 6.9 0a3.45 3.45 0 1 0 -6.9 0M905.3 135.1a3.45 3.45 0 1 0 6.9 0a3.45 3.45 0 1 0 -6.9 0M911.5 164.5a3.45 3.45 0 1 0 6.9 0a3.45 3.45 0 1 0 -6.9 0M917.6 189.5a3.45 3.45 0 1 0 6.9 0a3.45 3.45 0 1 0 -6.9 0M923.8 210.9a3.45 3.45 0 1 0 6.9 0a3.45 3.45 0 1 0 -6.9 0M929.9 229.3a3.45 3.45 0 1 0 6.9 0a3.45 3.45 0 1 0 -6.9 0M936.1 245.1a3.45 3.45 0 1 0 6.9 0a3.45 3.45 0 1 0 -6.9 0M948.4 271a3.45 3.45 0 1 0 6.9 0a3.45 3.45 0 1 0 -6.9 0M960.7 290.8a3.45 3.45 0 1 0 6.9 0a3.45 3.45 0 1 0 -6.9 0M973 306.2a3.45 3.45 0 1 0 6.9 0a3.45 3.45 0 1 0 -6.9 0M985.3 318.4a3.45 3.45 0 1 0 6.9 0a3.45 3.45 0 1 0 -6.9 0M997.6 328.1a3.45 3.45 0 1 0 6.9 0a3.45 3.45 0 1 0 -6.9 0M1009.9 336a3.45 3.45 0 1 0 6.9 0a3.45 3.45 0 1 0 -6.9 0M1022.2 342.4a3.45 3.45 0 1 0 6.9 0a3.45 3.45 0 1 0 -6.9 0M1034.5 347.6a3.45 3.45 0 1 0 6.9 0a3.45 3.45 0 1 0 -6.9 0M1046.9 351.9a3.45 3.45 0 1 0 6.9 0a3.45 3.45 0 1 0 -6.9 0M1059.2 355.5a3.45 3.45 0 1 0 6.9 0a3.45 3.45 0 1 0 -6.9 0M1071.5 358.4a3.45 3.45 0 1 0 6.9 0a3.45 3.45 0 1 0 -6.9 0M1083.8 360.9a3.45 3.45 0 1 0 6.9 0a3.45 3.45 0 1 0 -6.9 0M1096.1 363a3.45 3.45 0 1 0 6.9 0a3.45 3.45 0 1 0 -6.9 0M1108.4 364.8a3.45 3.45 0 1 0 6.9 0a3.45 3.45 0 1 0 -6.9 0M1120.7 366.3a3.45 3.45 0 1 0 6.9 0a3.45 3.45 0 1 0 -6.9 0M1133 367.7a3.45 3.45 0 1 0 6.9 0a3.45 3.45 0 1 0 -6.9 0M1145.3 368.8a3.45 3.45 0 1 0 6.9 0a3.45 3.45 0 1 0 -6.9 0M1157.6 369.9a3.45 3.45 0 1 0 6.9 0a3.45 3.45 0 1 0 -6.9 0M1169.9 370.8a3.45 3.45 0 1 0 6.9 0a3.45 3.45 0 1 0 -6.9 0M1182.2 371.6a3.45 3.45 0 1 0 6.9 0a3.45 3.45 0 1 0 -6.9 0M1194.6 372.3a3.45 3.45 0 1 0 6.9 0a3.45 3.45 0 1 0 -6.9 0M1206.9 373a3.45 3.45 0 1 0 6.9 0a3.45 3.45 0 1 0 -6.9 0M1219.2 373.5a3.45 3.45 0 1 0 6.9 0a3.45 3.45 0 1 0 -6.9 0M1231.5 374.1a3.45 3.45 0 1 0 6.9 0a3.45 3.45 0 1 0 -6.9 0M1243.8 374.5a3.45 3.45 0 1 0 6.9 0a3.45 3.45 0 1 0 -6.9 0M1256.1 374.9a3.45 3.45 0 1 0 6.9 0a3.45 3.45 0 1 0 -6.9 0M1268.4 375.3a3.45 3.45 0 1 0 6.9 0a3.45 3.45 0 1 0 -6.9 0M1280.7 375.7a3.45 3.45 0 1 0 6.9 0a3.45 3.45 0 1 0 -6.9 0M1293 376a3.45 3.45 0 1 0 6.9 0a3.45 3.45 0 1 0 -6.9 0M1305.3 376.2a3.45 3.45 0 1 0 6.9 0a3.45 3.45 0 1 0 -6.9 0M1317.6 376.5a3.45 3.45 0 1 0 6.9 0a3.45 3.45 0 1 0 -6.9 0M1329.9 376.7a3.45 3.45 0 1 0 6.9 0a3.45 3.45 0 1 0 -6.9 0M1342.3 377a3.45 3.45 0 1 0 6.9 0a3.45 3.45 0 1 0 -6.9 0M1354.6 377.1a3.45 3.45 0 1 0 6.9 0a3.45 3.45 0 1 0 -6.9 0M1366.9 377.3a3.45 3.45 0 1 0 6.9 0a3.45 3.45 0 1 0 -6.9 0M1379.2 377.5a3.45 3.45 0 1 0 6.9 0a3.45 3.45 0 1 0 -6.9 0M1391.5 377.6a3.45 3.45 0 1 0 6.9 0a3.45 3.45 0 1 0 -6.9 0M1403.8 377.8a3.45 3.45 0 1 0 6.9 0a3.45 3.45 0 1 0 -6.9 0M1416.1 377.9a3.45 3.45 0 1 0 6.9 0a3.45 3.45 0 1 0 -6.9 0M1428.4 378a3.45 3.45 0 1 0 6.9 0a3.45 3.45 0 1 0 -6.9 0M1440.7 378.1a3.45 3.45 0 1 0 6.9 0a3.45 3.45 0 1 0 -6.9 0M1453 378.3a3.45 3.45 0 1 0 6.9 0a3.45 3.45 0 1 0 -6.9 0M1465.3 378.4a3.45 3.45 0 1 0 6.9 0a3.45 3.45 0 1 0 -6.9 0M1477.6 378.4a3.45 3.45 0 1 0 6.9 0a3.45 3.45 0 1 0 -6.9 0" stroke="#ff00ff" stroke-width="2.15"/>
<path d="M891.1 63.3l3.4 3.4l-3.4 3.4l-3.4 -3.4zM894.2 86.6l3.4 3.4l-3.4 3.4l-3.4 -3.4zM897.3 107.7l3.4 3.4l-3.4 3.4l-3.4 -3.4zM900.3 126.9l3.4 3.4l-3.4 3.4l-3.4 -3.4zM903.4 144.4l3.4 3.4l-3.4 3.4l-3.4 -3.4zM909.6 174.8l3.4 3.4l-3.4 3.4l-3.4 -3.4zM915.7 200.2l3.4 3.4l-3.4 3.4l-3.4 -3.4zM921.9 221.6l3.4 3.4l-3.4 3.4l-3.4 -3.4zM928 239.7l3.4 3.4l-3.4 3.4l-3.4 -3.4zM934.2 255l3.4 3.4l-3.4 3.4l-3.4 -3.4zM940.3 268.1l3.4 3.4l-3.4 3.4l-3.4 -3.4zM952.6 289.1l3.4 3.4l-3.4 3.4l-3.4 -3.4zM964.9 305.7l3.4 3.4l-3.4 3.4l-3.4 -3.4zM977.3 318.6l3.4 3.4l-3.4 3.4l-3.4 -3.4zM989.6 328.6l3.4 3.4l-3.4 3.4l-3.4 -3.4zM1001.9 336.5l3.4 3.4l-3.4 3.4l-3.4 -3.4zM1014.2 342.8l3.4 3.4l-3.4 3.4l-3.4 -3.4zM1026.5 347.9l3.4 3.4l-3.4 3.4l-3.4 -3.4zM1038.8 352.1l3.4 3.4l-3.4 3.4l-3.4 -3.4zM1051.1 355.5l3.4 3.4l-3.4 3.4l-3.4 -3.4zM1063.4 358.3l3.4 3.4l-3.4 3.4l-3.4 -3.4zM1075.7 360.7l3.4 3.4l-3.4 3.4l-3.4 -3.4zM1088 362.6l3.4 3.4l-3.4 3.4l-3.4 -3.4zM1100.3 364.3l3.4 3.4l-3.4 3.4l-3.4 -3.4zM1112.6 365.7l3.4 3.4l-3.4 3.4l-3.4 -3.4zM1125 366.9l3.4 3.4l-3.4 3.4l-3.4 -3.4zM1137.3 367.9l3.4 3.4l-3.4 3.4l-3.4 -3.4zM1149.6 368.8l3.4 3.4l-3.4 3.4l-3.4 -3.4zM1161.9 369.6l3.4 3.4l-3.4 3.4l-3.4 -3.4zM1174.2 370.3l3.4 3.4l-3.4 3.4l-3.4 -3.4zM1186.5 370.9l3.4 3.4l-3.4 3.4l-3.4 -3.4zM1198.8 371.5l3.4 3.4l-3.4 3.4l-3.4 -3.4zM1211.1 372l3.4 3.4l-3.4 3.4l-3.4 -3.4zM1223.4 372.4l3.4 3.4l-3.4 3.4l-3.4 -3.4zM1235.7 372.8l3.4 3.4l-3.4 3.4l-3.4 -3.4zM1248 373.2l3.4 3.4l-3.4 3.4l-3.4 -3.4zM1260.3 373.5l3.4 3.4l-3.4 3.4l-3.4 -3.4zM1272.7 373.7l3.4 3.4l-3.4 3.4l-3.4 -3.4zM1285 374l3.4 3.4l-3.4 3.4l-3.4 -3.4zM1297.3 374.2l3.4 3.4l-3.4 3.4l-3.4 -3.4zM1309.6 374.4l3.4 3.4l-3.4 3.4l-3.4 -3.4zM1321.9 374.6l3.4 3.4l-3.4 3.4l-3.4 -3.4zM1334.2 374.8l3.4 3.4l-3.4 3.4l-3.4 -3.4zM1346.5 375l3.4 3.4l-3.4 3.4l-3.4 -3.4zM1358.8 375.1l3.4 3.4l-3.4 3.4l-3.4 -3.4zM1371.1 375.2l3.4 3.4l-3.4 3.4l-3.4 -3.4zM1383.4 375.4l3.4 3.4l-3.4 3.4l-3.4 -3.4zM1395.7 375.5l3.4 3.4l-3.4 3.4l-3.4 -3.4zM1408 375.6l3.4 3.4l-3.4 3.4l-3.4 -3.4zM1420.4 375.7l3.4 3.4l-3.4 3.4l-3.4 -3.4zM1432.7 375.8l3.4 3.4l-3.4 3.4l-3.4 -3.4zM1445 375.9l3.4 3.4l-3.4 3.4l-3.4 -3.4zM1457.3 375.9l3.4 3.4l-3.4 3.4l-3.4 -3.4zM1469.6 376l3.4 3.4l-3.4 3.4l-3.4 -3.4zM1481.9 376.1l3.4 3.4l-3.4 3.4l-3.4 -3.4z" stroke="#ffff00" stroke-width="2.2"/>
<path d="M891.1 234.5l0 -3.2M891.1 234.5l-3.1 -1.3M891.1 234.5l3.1 -1.3M891.1 234.5l-1.8 3.1M891.1 234.5l1.8 3.1M892.6 242.2l0 -3.2M892.6 242.2l-3.1 -1.3M892.6 242.2l3.1 -1.3M892.6 242.2l-1.8 3.1M892.6 242.2l1.8 3.1M894.2 249.4l0 -3.2M894.2 249.4l-3.1 -1.3M894.2 249.4l3.1 -1.3M894.2 249.4l-1.8 3.1M894.2 249.4l1.8 3.1M895.7 256.2l0 -3.2M895.7 256.2l-3.1 -1.3M895.7 256.2l3.1 -1.3M895.7 256.2l-1.8 3.1M895.7 256.2l1.8 3.1M897.3 262.5l0 -3.2M897.3 262.5l-3.1 -1.3M897.3 262.5l3.1 -1.3M897.3 262.5l-1.8 3.1M897.3 262.5l1.8 3.1M900.3 274.1l0 -3.2M900.3 274.1l-3.1 -1.3M900.3 274.1l3.1 -1.3M900.3 274.1l-1.8 3.1M900.3 274.1l1.8 3.1M903.4 284.4l0 -3.2M903.4 284.4l-3.1 -1.3M903.4 284.4l3.1 -1.3M903.4 284.4l-1.8 3.1M903.4 284.4l1.8 3.1M906.5 293.5l0 -3.2M906.5 293.5l-3.1 -1.3M906.5 293.5l3.1 -1.3M906.5 293.5l-1.8 3.1M906.5 293.5l1.8 3.1M909.6 301.6l0 -3.2M909.6 301.6l-3.1 -1.3M909.6 301.6l3.1 -1.3M909.6 301.6l-1.8 3.1M909.6 301.6l1.8 3.1M912.6 308.8l0 -3.2M912.6 308.8l-3.1 -1.3M912.6 308.8l3.1 -1.3M912.6 308.8l-1.8 3.1M912.6 308.8l1.8 3.1M915.7 315.3l0 -3.2M915.7 315.3l-3.1 -1.3M915.7 315.3l3.1 -1.3M915.7 315.3l-1.8 3.1M915.7 315.3l1.8 3.1M921.9 326.2l0 -3.2M921.9 326.2l-3.1 -1.3M921.9 326.2l3.1 -1.3M921.9 326.2l-1.8 3.1M921.9 326.2l1.8 3.1M928 335.1l0 -3.2M928 335.1l-3.1 -1.3M928 335.1l3.1 -1.3M928 335.1l-1.8 3.1M928 335.1l1.8 3.1M934.2 342.3l0 -3.2M934.2 342.3l-3.1 -1.3M934.2 342.3l3.1 -1.3M934.2 342.3l-1.8 3.1M934.2 342.3l1.8 3.1M940.3 348.2l0 -3.2M940.3 348.2l-3.1 -1.3M940.3 348.2l3.1 -1.3M940.3 348.2l-1.8 3.1M940.3 348.2l1.8 3.1M952.6 357.1l0 -3.2M952.6 357.1l-3.1 -1.3M952.6 357.1l3.1 -1.3M952.6 357.1l-1.8 3.1M952.6 357.1l1.8 3.1M964.9 363.2l0 -3.2M964.9 363.2l-3.1 -1.3M964.9 363.2l3.1 -1.3M964.9 363.2l-1.8 3.1M964.9 363.2l1.8 3.1M977.3 367.6l0 -3.2M977.3 367.6l-3.1 -1.3M977.3 367.6l3.1 -1.3M977.3 367.6l-1.8 3.1M977.3 367.6l1.8 3.1M989.6 370.7l0 -3.2M989.6 370.7l-3.1 -1.3M989.6 370.7l3.1 -1.3M989.6 370.7l-1.8 3.1M989.6 370.7l1.8 3.1M1001.9 373l0 -3.2M1001.9 373l-3.1 -1.3M1001.9 373l3.1 -1.3M1001.9 373l-1.8 3.1M1001.9 373l1.8 3.1M1014.2 374.7l0 -3.2M1014.2 374.7l-3.1 -1.3M1014.2 374.7l3.1 -1.3M1014.2 374.7l-1.8 3.1M1014.2 374.7l1.8 3.1M1026.5 376l0 -3.2M1026.5 376l-3.1 -1.3M1026.5 376l3.1 -1.3M1026.5 376l-1.8 3.1M1026.5 376l1.8 3.1M1038.8 377l0 -3.2M1038.8 377l-3.1 -1.3M1038.8 377l3.1 -1.3M1038.8 377l-1.8 3.1M1038.8 377l1.8 3.1M1051.1 377.8l0 -3.2M1051.1 377.8l-3.1 -1.3M1051.1 377.8l3.1 -1.3M1051.1 377.8l-1.8 3.1M1051.1 377.8l1.8 3.1M1063.4 378.4l0 -3.2M1063.4 378.4l-3.1 -1.3M1063.4 378.4l3.1 -1.3M1063.4 378.4l-1.8 3.1M1063.4 378.4l1.8 3.1M1075.7 378.8l0 -3.2M1075.7 378.8l-3.1 -1.3M1075.7 378.8l3.1 -1.3M1075.7 378.8l-1.8 3.1M1075.7 378.8l1.8 3.1M1088 379.2l0 -3.2M1088 379.2l-3.1 -1.3M1088 379.2l3.1 -1.3M1088 379.2l-1.8 3.1M1088 379.2l1.8 3.1M1100.3 379.5l0 -3.2M1100.3 379.5l-3.1 -1.3M1100.3 379.5l3.1 -1.3M1100.3 379.5l-1.8 3.1M1100.3 379.5l1.8 3.1M1112.6 379.8l0 -3.2M1112.6 379.8l-3.1 -1.3M1112.6 379.8l3.1 -1.3M1112.6 379.8l-1.8 3.1M1112.6 379.8l1.8 3.1M1125 379.9l0 -3.2M1125 379.9l-3.1 -1.3M1125 379.9l3.1 -1.3M1125 379.9l-1.8 3.1M1125 379.9l1.8 3.1M1137.3 380.1l0 -3.2M1137.3 380.1l-3.1 -1.3M1137.3 380.1l3.1 -1.3M1137.3 380.1l-1.8 3.1M1137.3 380.1l1.8 3.1M1149.6 380.2l0 -3.2M1149.6 380.2l-3.1 -1.3M1149.6 380.2l3.1 -1.3M1149.6 380.2l-1.8 3.1M1149.6 380.2l1.8 3.1M1161.9 380.3l0 -3.2M1161.9 380.3l-3.1 -1.3M1161.9 380.3l3.1 -1.3M1161.9 380.3l-1.8 3.1M1161.9 380.3l1.8 3.1M1174.2 380.4l0 -3.2M1174.2 380.4l-3.1 -1.3M1174.2 380.4l3.1 -1.3M1174.2 380.4l-1.8 3.1M1174.2 380.4l1.8 3.1M1186.5 380.5l0 -3.2M1186.5 380.5l-3.1 -1.3M1186.5 380.5l3.1 -1.3M1186.5 380.5l-1.8 3.1M1186.5 380.5l1.8 3.1M1198.8 380.6l0 -3.2M1198.8 380.6l-3.1 -1.3M1198.8 380.6l3.1 -1.3M1198.8 380.6l-1.8 3.1M1198.8 380.6l1.8 3.1M1211.1 380.6l0 -3.2M1211.1 380.6l-3.1 -1.3M1211.1 380.6l3.1 -1.3M1211.1 380.6l-1.8 3.1M1211.1 380.6l1.8 3.1M1223.4 380.7l0 -3.2M1223.4 380.7l-3.1 -1.3M1223.4 380.7l3.1 -1.3M1223.4 380.7l-1.8 3.1M1223.4 380.7l1.8 3.1M1235.7 380.7l0 -3.2M1235.7 380.7l-3.1 -1.3M1235.7 380.7l3.1 -1.3M1235.7 380.7l-1.8 3.1M1235.7 380.7l1.8 3.1M1248 380.8l0 -3.2M1248 380.8l-3.1 -1.3M1248 380.8l3.1 -1.3M1248 380.8l-1.8 3.1M1248 380.8l1.8 3.1M1260.3 380.8l0 -3.2M1260.3 380.8l-3.1 -1.3M1260.3 380.8l3.1 -1.3M1260.3 380.8l-1.8 3.1M1260.3 380.8l1.8 3.1M1272.7 380.8l0 -3.2M1272.7 380.8l-3.1 -1.3M1272.7 380.8l3.1 -1.3M1272.7 380.8l-1.8 3.1M1272.7 380.8l1.8 3.1M1285 380.8l0 -3.2M1285 380.8l-3.1 -1.3M1285 380.8l3.1 -1.3M1285 380.8l-1.8 3.1M1285 380.8l1.8 3.1M1297.3 380.8l0 -3.2M1297.3 380.8l-3.1 -1.3M1297.3 380.8l3.1 -1.3M1297.3 380.8l-1.8 3.1M1297.3 380.8l1.8 3.1M1309.6 380.9l0 -3.2M1309.6 380.9l-3.1 -1.3M1309.6 380.9l3.1 -1.3M1309.6 380.9l-1.8 3.1M1309.6 380.9l1.8 3.1M1321.9 380.9l0 -3.2M1321.9 380.9l-3.1 -1.3M1321.9 380.9l3.1 -1.3M1321.9 380.9l-1.8 3.1M1321.9 380.9l1.8 3.1M1334.2 380.9l0 -3.2M1334.2 380.9l-3.1 -1.3M1334.2 380.9l3.1 -1.3M1334.2 380.9l-1.8 3.1M1334.2 380.9l1.8 3.1M1346.5 380.9l0 -3.2M1346.5 380.9l-3.1 -1.3M1346.5 380.9l3.1 -1.3M1346.5 380.9l-1.8 3.1M1346.5 380.9l1.8 3.1M1358.8 380.9l0 -3.2M1358.8 380.9l-3.1 -1.3M1358.8 380.9l3.1 -1.3M1358.8 380.9l-1.8 3.1M1358.8 380.9l1.8 3.1M1371.1 380.9l0 -3.2M1371.1 380.9l-3.1 -1.3M1371.1 380.9l3.1 -1.3M1371.1 380.9l-1.8 3.1M1371.1 380.9l1.8 3.1M1383.4 380.9l0 -3.2M1383.4 380.9l-3.1 -1.3M1383.4 380.9l3.1 -1.3M1383.4 380.9l-1.8 3.1M1383.4 380.9l1.8 3.1M1395.7 380.9l0 -3.2M1395.7 380.9l-3.1 -1.3M1395.7 380.9l3.1 -1.3M1395.7 380.9l-1.8 3.1M1395.7 380.9l1.8 3.1M1408 380.9l0 -3.2M1408 380.9l-3.1 -1.3M1408 380.9l3.1 -1.3M1408 380.9l-1.8 3.1M1408 380.9l1.8 3.1M1420.4 380.9l0 -3.2M1420.4 380.9l-3.1 -1.3M1420.4 380.9l3.1 -1.3M1420.4 380.9l-1.8 3.1M1420.4 380.9l1.8 3.1M1432.7 381l0 -3.2M1432.7 381l-3.1 -1.3M1432.7 381l3.1 -1.3M1432.7 381l-1.8 3.1M1432.7 381l1.8 3.1M1445 381l0 -3.2M1445 381l-3.1 -1.3M1445 381l3.1 -1.3M1445 381l-1.8 3.1M1445 381l1.8 3.1M1457.3 381l0 -3.2M1457.3 381l-3.1 -1.3M1457.3 381l3.1 -1.3M1457.3 381l-1.8 3.1M1457.3 381l1.8 3.1M1469.6 381l0 -3.2M1469.6 381l-3.1 -1.3M1469.6 381l3.1 -1.3M1469.6 381l-1.8 3.1M1469.6 381l1.8 3.1M1481.9 381l0 -3.2M1481.9 381l-3.1 -1.3M1481.9 381l3.1 -1.3M1481.9 381l-1.8 3.1M1481.9 381l1.8 3.1" stroke="#000000" stroke-width="2.2" stroke-linecap="round"/>
<path d="M886.5 517.6h9.2M891.1 513v9.2M888 517.8h9.2M892.6 513.2v9.2M889.6 517.8h9.2M894.2 513.2v9.2M891.1 517.5h9.2M895.7 512.9v9.2M892.7 517.2h9.2M897.3 512.6v9.2M895.7 515.8h9.2M900.3 511.2v9.2M898.8 513.7h9.2M903.4 509.1v9.2M905 508.3h9.2M909.6 503.7v9.2M911.1 502.7h9.2M915.7 498.1v9.2M917.3 495.7h9.2M921.9 491.1v9.2M923.4 488.6h9.2M928 484v9.2M929.6 481.4h9.2M934.2 476.8v9.2M935.7 475h9.2M940.3 470.4v9.2M941.9 468.4h9.2M946.5 463.8v9.2M948 461.9h9.2M952.6 457.3v9.2M960.3 450.9h9.2M964.9 446.3v9.2M972.7 441.1h9.2M977.3 436.5v9.2M985 433h9.2M989.6 428.4v9.2M997.3 425.8h9.2M1001.9 421.2v9.2M1009.6 420.1h9.2M1014.2 415.5v9.2M1021.9 415.1h9.2M1026.5 410.5v9.2M1034.2 410.7h9.2M1038.8 406.1v9.2M1046.5 407.3h9.2M1051.1 402.7v9.2M1058.8 404.2h9.2M1063.4 399.6v9.2M1071.1 401.5h9.2M1075.7 396.9v9.2M1083.4 399.1h9.2M1088 394.5v9.2M1095.7 397.1h9.2M1100.3 392.5v9.2M1108 395.1h9.2M1112.6 390.5v9.2M1120.4 393.8h9.2M1125 389.2v9.2M1132.7 392.5h9.2M1137.3 387.9v9.2M1145 391.4h9.2M1149.6 386.8v9.2M1157.3 390.2h9.2M1161.9 385.6v9.2M1169.6 389.3h9.2M1174.2 384.7v9.2M1181.9 388.6h9.2M1186.5 384v9.2M1194.2 387.8h9.2M1198.8 383.2v9.2M1206.5 387.3h9.2M1211.1 382.7v9.2M1218.8 386.7h9.2M1223.4 382.1v9.2M1231.1 386.2h9.2M1235.7 381.6v9.2M1243.4 385.7h9.2M1248 381.1v9.2M1255.8 385.2h9.2M1260.3 380.6v9.2M1268.1 384.8h9.2M1272.7 380.2v9.2M1280.4 384.5h9.2M1285 379.9v9.2M1292.7 384.3h9.2M1297.3 379.7v9.2M1305 384h9.2M1309.6 379.4v9.2M1317.3 383.8h9.2M1321.9 379.2v9.2M1329.6 383.6h9.2M1334.2 379v9.2M1341.9 383.4h9.2M1346.5 378.8v9.2M1354.2 383.1h9.2M1358.8 378.5v9.2M1366.5 382.9h9.2M1371.1 378.3v9.2M1378.8 382.7h9.2M1383.4 378.1v9.2M1391.1 382.6h9.2M1395.7 378v9.2M1403.5 382.4h9.2M1408 377.8v9.2M1415.8 382.2h9.2M1420.4 377.6v9.2M1428.1 382.1h9.2M1432.7 377.5v9.2M1440.4 381.9h9.2M1445 377.3v9.2M1452.7 381.8h9.2M1457.3 377.2v9.2M1465 381.7h9.2M1469.6 377.1v9.2M1477.3 381.6h9.2M1481.9 377v9.2" stroke="#0000ff" stroke-width="2.1"/>
<path d="M886.8 62.6h7v7h-7zM889.9 85.9h7v7h-7zM893 107h7v7h-7zM896 126.2h7v7h-7zM899.1 143.7h7v7h-7zM905.3 174.1h7v7h-7zM911.4 199.5h7v7h-7zM917.6 220.9h7v7h-7zM923.7 239h7v7h-7zM929.9 254.3h7v7h-7zM936 267.4h7v7h-7zM948.3 288.4h7v7h-7zM960.6 305h7v7h-7zM973 317.9h7v7h-7zM985.3 327.9h7v7h-7zM997.6 335.8h7v7h-7zM1009.9 342.1h7v7h-7zM1022.2 347.2h7v7h-7zM1034.5 351.4h7v7h-7zM1046.8 354.8h7v7h-7zM1059.1 357.6h7v7h-7zM1071.4 360h7v7h-7zM1083.7 361.9h7v7h-7zM1096 363.6h7v7h-7zM1108.3 365h7v7h-7zM1120.7 366.2h7v7h-7zM1133 367.2h7v7h-7zM1145.3 368.1h7v7h-7zM1157.6 368.9h7v7h-7zM1169.9 369.6h7v7h-7zM1182.2 370.2h7v7h-7zM1194.5 370.8h7v7h-7zM1206.8 371.3h7v7h-7zM1219.1 371.7h7v7h-7zM1231.4 372.1h7v7h-7zM1243.7 372.5h7v7h-7zM1256 372.8h7v7h-7zM1268.4 373h7v7h-7zM1280.7 373.3h7v7h-7zM1293 373.5h7v7h-7zM1305.3 373.7h7v7h-7zM1317.6 373.9h7v7h-7zM1329.9 374.1h7v7h-7zM1342.2 374.3h7v7h-7zM1354.5 374.4h7v7h-7zM1366.8 374.5h7v7h-7zM1379.1 374.7h7v7h-7zM1391.4 374.8h7v7h-7zM1403.8 374.9h7v7h-7zM1416.1 375h7v7h-7zM1428.4 375.1h7v7h-7zM1440.7 375.2h7v7h-7zM1453 375.2h7v7h-7zM1465.3 375.3h7v7h-7zM1477.6 375.4h7v7h-7z" stroke="#ff0000" stroke-width="1.95"/>
<path d="M890.3 233.5L892.3 243.3L894.3 252.3L896.2 260.6L898.2 268.3L900.2 275.4L902.2 282L904.1 288L906.1 293.7L908.1 298.9L910.1 303.8L912 308.3L914 312.5L916 316.4L918 320L919.9 323.4L921.9 326.6L923.9 329.5L925.9 332.3L927.8 334.9L929.8 337.3L931.8 339.6L933.8 341.7L935.7 343.7L937.7 345.6L939.7 347.3L941.7 349L943.6 350.5L945.6 352L947.6 353.4L949.6 354.7L951.6 355.9L953.5 357L955.5 358.1L957.5 359.2L959.5 360.1L961.4 361L963.4 361.9L965.4 362.7L967.4 363.5L969.3 364.2L971.3 364.9L973.3 365.6L975.3 366.2L977.2 366.8L979.2 367.4L981.2 367.9L983.2 368.4L985.1 368.9L987.1 369.4L989.1 369.8L991.1 370.2L993 370.6L995 371L997 371.3L999 371.7L1001 372L1002.9 372.3L1004.9 372.6L1006.9 372.9L1008.9 373.2L1010.8 373.4L1012.8 373.7L1014.8 373.9L1016.8 374.1L1018.7 374.3L1020.7 374.5L1022.7 374.7L1024.7 374.9L1026.6 375.1L1028.6 375.3L1030.6 375.5L1032.6 375.6L1034.5 375.8L1036.5 375.9L1038.5 376L1040.5 376.2L1042.4 376.3L1044.4 376.4L1046.4 376.6L1048.4 376.7L1050.3 376.8L1052.3 376.9L1054.3 377L1056.3 377.1L1058.3 377.2L1060.2 377.3L1062.2 377.4L1064.2 377.4L1066.2 377.5L1068.1 377.6L1070.1 377.7L1072.1 377.7L1074.1 377.8L1076 377.9L1078 377.9L1080 378L1082 378.1L1083.9 378.1L1085.9 378.2L1087.9 378.2L1089.9 378.3L1091.8 378.3L1093.8 378.4L1095.8 378.4L1097.8 378.5L1099.7 378.5L1101.7 378.6L1103.7 378.6L1105.7 378.6L1107.7 378.7L1109.6 378.7L1111.6 378.7L1113.6 378.8L1115.6 378.8L1117.5 378.8L1119.5 378.9L1121.5 378.9L1123.5 378.9L1125.4 379L1127.4 379L1129.4 379L1131.4 379L1133.3 379.1L1135.3 379.1L1137.3 379.1L1139.3 379.1L1141.2 379.2L1143.2 379.2L1145.2 379.2L1147.2 379.2L1149.1 379.2L1151.1 379.3L1153.1 379.3L1155.1 379.3L1157 379.3L1159 379.3L1161 379.3L1163 379.4L1165 379.4L1166.9 379.4L1168.9 379.4L1170.9 379.4L1172.9 379.4L1174.8 379.4L1176.8 379.5L1178.8 379.5L1180.8 379.5L1182.7 379.5L1184.7 379.5L1186.7 379.5L1188.7 379.5L1190.6 379.5L1192.6 379.6L1194.6 379.6L1196.6 379.6L1198.5 379.6L1200.5 379.6L1202.5 379.6L1204.5 379.6L1206.4 379.6L1208.4 379.6L1210.4 379.6L1212.4 379.6L1214.4 379.7L1216.3 379.7L1218.3 379.7L1220.3 379.7L1222.3 379.7L1224.2 379.7L1226.2 379.7L1228.2 379.7L1230.2 379.7L1232.1 379.7L1234.1 379.7L1236.1 379.7L1238.1 379.7L1240 379.7L1242 379.7L1244 379.7L1246 379.8L1247.9 379.8L1249.9 379.8L1251.9 379.8L1253.9 379.8L1255.8 379.8L1257.8 379.8L1259.8 379.8L1261.8 379.8L1263.7 379.8L1265.7 379.8L1267.7 379.8L1269.7 379.8L1271.7 379.8L1273.6 379.8L1275.6 379.8L1277.6 379.8L1279.6 379.8L1281.5 379.8L1283.5 379.8L1285.5 379.8L1287.5 379.8L1289.4 379.8L1291.4 379.8L1293.4 379.8L1295.4 379.8L1297.3 379.8L1299.3 379.9L1301.3 379.9L1303.3 379.9L1305.2 379.9L1307.2 379.9L1309.2 379.9L1311.2 379.9L1313.1 379.9L1315.1 379.9L1317.1 379.9L1319.1 379.9L1321.1 379.9L1323 379.9L1325 379.9L1327 379.9L1329 379.9L1330.9 379.9L1332.9 379.9L1334.9 379.9L1336.9 379.9L1338.8 379.9L1340.8 379.9L1342.8 379.9L1344.8 379.9L1346.7 379.9L1348.7 379.9L1350.7 379.9L1352.7 379.9L1354.6 379.9L1356.6 379.9L1358.6 379.9L1360.6 379.9L1362.5 379.9L1364.5 379.9L1366.5 379.9L1368.5 379.9L1370.4 379.9L1372.4 379.9L1374.4 379.9L1376.4 379.9L1378.4 379.9L1380.3 379.9L1382.3 379.9L1384.3 379.9L1386.3 379.9L1388.2 379.9L1390.2 379.9L1392.2 379.9L1394.2 379.9L1396.1 379.9L1398.1 379.9L1400.1 379.9L1402.1 379.9L1404 379.9L1406 379.9L1408 379.9L1410 379.9L1411.9 379.9L1413.9 379.9L1415.9 379.9L1417.9 379.9L1419.8 379.9L1421.8 379.9L1423.8 379.9L1425.8 379.9L1427.8 379.9L1429.7 380L1431.7 380L1433.7 380L1435.7 380L1437.6 380L1439.6 380L1441.6 380L1443.6 380L1445.5 380L1447.5 380L1449.5 380L1451.5 380L1453.4 380L1455.4 380L1457.4 380L1459.4 380L1461.3 380L1463.3 380L1465.3 380L1467.3 380L1469.2 380L1471.2 380L1473.2 380L1475.2 380L1477.1 380L1479.1 380L1481.1 380" stroke="#00ff00" stroke-width="2.3" stroke-linejoin="round"/>
<rect x="884.9" y="4.4" width="602" height="518.3" stroke="#000" stroke-width="2.1"/>
<path d="M890.3 522.7v10M1038 522.7v10M1185.7 522.7v10M1333.4 522.7v10M1481.1 522.7v10M964.1 522.7v5.2M1111.8 522.7v5.2M1259.5 522.7v5.2M1407.2 522.7v5.2M884.9 26.6h-10M884.9 144.4h-10M884.9 262.2h-10M884.9 380h-10M884.9 497.8h-10M884.9 474.2h-5.2M884.9 450.7h-5.2M884.9 427.1h-5.2M884.9 403.6h-5.2M884.9 356.4h-5.2M884.9 332.9h-5.2M884.9 309.3h-5.2M884.9 285.8h-5.2M884.9 238.6h-5.2M884.9 215.1h-5.2M884.9 191.5h-5.2M884.9 168h-5.2M884.9 120.8h-5.2M884.9 97.3h-5.2M884.9 73.7h-5.2M884.9 50.2h-5.2" stroke="#000" stroke-width="1.8"/>
</g>
<g class="tk" transform="scale(1,1.04)">
<text x="890.3" y="534.9" text-anchor="middle">1</text>
<text x="1038" y="534.9" text-anchor="middle">2</text>
<text x="1185.7" y="534.9" text-anchor="middle">3</text>
<text x="1333.4" y="534.9" text-anchor="middle">4</text>
<text x="1481.1" y="534.9" text-anchor="middle">5</text>
<text x="873.1" y="33.46" text-anchor="end">1.5</text>
<text x="873.1" y="146.73" text-anchor="end">1</text>
<text x="873.1" y="260" text-anchor="end">0.5</text>
<text x="873.1" y="373.27" text-anchor="end">0</text>
<text x="873.1" y="486.54" text-anchor="end">−0.5</text>
</g>
<text class="ax" x="1186" y="579.4" text-anchor="middle">r</text>
<rect x="821" y="581" width="651.3" height="88.7" fill="#fff" stroke="#000" stroke-width="1.7"/>
<g fill="none">
<path d="M853.8 603.1a3.45 3.45 0 1 0 6.9 0a3.45 3.45 0 1 0 -6.9 0" stroke="#ff00ff" stroke-width="2.15"/>
<path d="M1006.4 600.5l3.4 3.4l-3.4 3.4l-3.4 -3.4z" stroke="#ffff00" stroke-width="2.2"/>
<path d="M1150.5 603.8l0 -3.2M1150.5 603.8l-3.1 -1.3M1150.5 603.8l3.1 -1.3M1150.5 603.8l-1.8 3.1M1150.5 603.8l1.8 3.1" stroke="#000000" stroke-width="2.2" stroke-linecap="round"/>
<path d="M1286 604h9.2M1290.6 599.4v9.2" stroke="#0000ff" stroke-width="2.1"/>
<path d="M853.6 641.3h7v7h-7z" stroke="#ff0000" stroke-width="1.95"/>
<path d="M975.7 645H1035" stroke="#00ff00" stroke-width="2.3"/>
</g>
<text class="lg"><tspan class="rho" x="894.5" y="616.5">ρ</tspan><tspan class="rho" x="1043.2" y="612.4">ρ</tspan><tspan class="pl" x="1063.1" y="613.8">+</tspan><tspan class="it" x="1084.6" y="611.8">p</tspan><tspan class="sub" x="1099" y="622.4">r</tspan><tspan class="rho" x="1187.8" y="612.4">ρ</tspan><tspan class="pl" x="1208.3" y="613.8">+</tspan><tspan class="it" x="1230.3" y="611.8">p</tspan><tspan class="sub" x="1244.1" y="622.4">t</tspan><tspan class="rho" x="1327.2" y="612.4">ρ</tspan><tspan class="pl" x="1347.3" y="613.8">+</tspan><tspan class="it" x="1368.9" y="611.8">p</tspan><tspan class="sub" x="1383.4" y="622.4">r</tspan><tspan class="bp" x="1402.2" y="616.6">+</tspan><tspan x="1432" y="611.8">2</tspan><tspan class="it" x="1444.7" y="611.8">p</tspan><tspan class="sub" x="1458" y="622.4">t</tspan><tspan class="rho" x="894.5" y="654.7">ρ</tspan><tspan x="915.4" y="654.1">-</tspan><tspan x="930.9" y="654.1">|</tspan><tspan class="it" x="936.4" y="654.1">p</tspan><tspan class="sub" x="950.4" y="664.7">r</tspan><tspan x="959.7" y="654.1">|</tspan><tspan class="rho" x="1043.2" y="654.7">ρ</tspan><tspan x="1064.2" y="654.1">-</tspan><tspan x="1079.7" y="654.1">|</tspan><tspan class="it" x="1085.3" y="654.1">p</tspan><tspan class="sub" x="1099.3" y="664.7">t</tspan><tspan x="1104.9" y="654.1">|</tspan></text>
<g fill="none">
<path d="M107.9 1345.9a3.45 3.45 0 1 0 6.9 0a3.45 3.45 0 1 0 -6.9 0M110.5 1324.3a3.45 3.45 0 1 0 6.9 0a3.45 3.45 0 1 0 -6.9 0M111 1304.7a3.45 3.45 0 1 0 6.9 0a3.45 3.45 0 1 0 -6.9 0M113 1285.2a3.45 3.45 0 1 0 6.9 0a3.45 3.45 0 1 0 -6.9 0M116.1 1267a3.45 3.45 0 1 0 6.9 0a3.45 3.45 0 1 0 -6.9 0M117.7 1233.5a3.45 3.45 0 1 0 6.9 0a3.45 3.45 0 1 0 -6.9 0M120.5 1204.4a3.45 3.45 0 1 0 6.9 0a3.45 3.45 0 1 0 -6.9 0M123.1 1181.5a3.45 3.45 0 1 0 6.9 0a3.45 3.45 0 1 0 -6.9 0M125.9 1160.9a3.45 3.45 0 1 0 6.9 0a3.45 3.45 0 1 0 -6.9 0M128.5 1142.6a3.45 3.45 0 1 0 6.9 0a3.45 3.45 0 1 0 -6.9 0M131.6 1123.2a3.45 3.45 0 1 0 6.9 0a3.45 3.45 0 1 0 -6.9 0M137.5 1093a3.45 3.45 0 1 0 6.9 0a3.45 3.45 0 1 0 -6.9 0M143.4 1069.5a3.45 3.45 0 1 0 6.9 0a3.45 3.45 0 1 0 -6.9 0M149.3 1050.1a3.45 3.45 0 1 0 6.9 0a3.45 3.45 0 1 0 -6.9 0M155.2 1035.7a3.45 3.45 0 1 0 6.9 0a3.45 3.45 0 1 0 -6.9 0M161 1024.5a3.45 3.45 0 1 0 6.9 0a3.45 3.45 0 1 0 -6.9 0M166.9 1016.6a3.45 3.45 0 1 0 6.9 0a3.45 3.45 0 1 0 -6.9 0M172.8 1011.1a3.45 3.45 0 1 0 6.9 0a3.45 3.45 0 1 0 -6.9 0M178.7 1007.7a3.45 3.45 0 1 0 6.9 0a3.45 3.45 0 1 0 -6.9 0M181.1 1006.7a3.45 3.45 0 1 0 6.9 0a3.45 3.45 0 1 0 -6.9 0M183.4 1006a3.45 3.45 0 1 0 6.9 0a3.45 3.45 0 1 0 -6.9 0M185.8 1005.6a3.45 3.45 0 1 0 6.9 0a3.45 3.45 0 1 0 -6.9 0M188.1 1005.5a3.45 3.45 0 1 0 6.9 0a3.45 3.45 0 1 0 -6.9 0M190.5 1005.5a3.45 3.45 0 1 0 6.9 0a3.45 3.45 0 1 0 -6.9 0M196.4 1005.9a3.45 3.45 0 1 0 6.9 0a3.45 3.45 0 1 0 -6.9 0M202.2 1007.3a3.45 3.45 0 1 0 6.9 0a3.45 3.45 0 1 0 -6.9 0M208.1 1009.8a3.45 3.45 0 1 0 6.9 0a3.45 3.45 0 1 0 -6.9 0M214 1012.6a3.45 3.45 0 1 0 6.9 0a3.45 3.45 0 1 0 -6.9 0M225.8 1019.4a3.45 3.45 0 1 0 6.9 0a3.45 3.45 0 1 0 -6.9 0M237.6 1027.3a3.45 3.45 0 1 0 6.9 0a3.45 3.45 0 1 0 -6.9 0M249.4 1036.1a3.45 3.45 0 1 0 6.9 0a3.45 3.45 0 1 0 -6.9 0M261.1 1045.2a3.45 3.45 0 1 0 6.9 0a3.45 3.45 0 1 0 -6.9 0M272.9 1053.7a3.45 3.45 0 1 0 6.9 0a3.45 3.45 0 1 0 -6.9 0M284.7 1063.1a3.45 3.45 0 1 0 6.9 0a3.45 3.45 0 1 0 -6.9 0M296.4 1071.4a3.45 3.45 0 1 0 6.9 0a3.45 3.45 0 1 0 -6.9 0M308.2 1080.2a3.45 3.45 0 1 0 6.9 0a3.45 3.45 0 1 0 -6.9 0M320 1088a3.45 3.45 0 1 0 6.9 0a3.45 3.45 0 1 0 -6.9 0M331.8 1095.4a3.45 3.45 0 1 0 6.9 0a3.45 3.45 0 1 0 -6.9 0M343.6 1103.2a3.45 3.45 0 1 0 6.9 0a3.45 3.45 0 1 0 -6.9 0M355.3 1110.5a3.45 3.45 0 1 0 6.9 0a3.45 3.45 0 1 0 -6.9 0M367.1 1116.8a3.45 3.45 0 1 0 6.9 0a3.45 3.45 0 1 0 -6.9 0M378.9 1123a3.45 3.45 0 1 0 6.9 0a3.45 3.45 0 1 0 -6.9 0M390.7 1128.9a3.45 3.45 0 1 0 6.9 0a3.45 3.45 0 1 0 -6.9 0M402.4 1134.6a3.45 3.45 0 1 0 6.9 0a3.45 3.45 0 1 0 -6.9 0M414.2 1139.7a3.45 3.45 0 1 0 6.9 0a3.45 3.45 0 1 0 -6.9 0M426 1144.9a3.45 3.45 0 1 0 6.9 0a3.45 3.45 0 1 0 -6.9 0M437.8 1149.7a3.45 3.45 0 1 0 6.9 0a3.45 3.45 0 1 0 -6.9 0M449.5 1154.2a3.45 3.45 0 1 0 6.9 0a3.45 3.45 0 1 0 -6.9 0M461.3 1158.4a3.45 3.45 0 1 0 6.9 0a3.45 3.45 0 1 0 -6.9 0M473.1 1162.7a3.45 3.45 0 1 0 6.9 0a3.45 3.45 0 1 0 -6.9 0M484.9 1166.3a3.45 3.45 0 1 0 6.9 0a3.45 3.45 0 1 0 -6.9 0M496.6 1170a3.45 3.45 0 1 0 6.9 0a3.45 3.45 0 1 0 -6.9 0M508.4 1173.4a3.45 3.45 0 1 0 6.9 0a3.45 3.45 0 1 0 -6.9 0M520.2 1176.6a3.45 3.45 0 1 0 6.9 0a3.45 3.45 0 1 0 -6.9 0M532 1179.8a3.45 3.45 0 1 0 6.9 0a3.45 3.45 0 1 0 -6.9 0M543.7 1182.6a3.45 3.45 0 1 0 6.9 0a3.45 3.45 0 1 0 -6.9 0M555.5 1185.1a3.45 3.45 0 1 0 6.9 0a3.45 3.45 0 1 0 -6.9 0M567.3 1187.7a3.45 3.45 0 1 0 6.9 0a3.45 3.45 0 1 0 -6.9 0M579 1190a3.45 3.45 0 1 0 6.9 0a3.45 3.45 0 1 0 -6.9 0M590.8 1192.5a3.45 3.45 0 1 0 6.9 0a3.45 3.45 0 1 0 -6.9 0M602.6 1194.5a3.45 3.45 0 1 0 6.9 0a3.45 3.45 0 1 0 -6.9 0M614.4 1196.5a3.45 3.45 0 1 0 6.9 0a3.45 3.45 0 1 0 -6.9 0M626.1 1198.4a3.45 3.45 0 1 0 6.9 0a3.45 3.45 0 1 0 -6.9 0M637.9 1200.4a3.45 3.45 0 1 0 6.9 0a3.45 3.45 0 1 0 -6.9 0M649.7 1202a3.45 3.45 0 1 0 6.9 0a3.45 3.45 0 1 0 -6.9 0M661.5 1203.5a3.45 3.45 0 1 0 6.9 0a3.45 3.45 0 1 0 -6.9 0M673.2 1205a3.45 3.45 0 1 0 6.9 0a3.45 3.45 0 1 0 -6.9 0" stroke="#ff00ff" stroke-width="2.15"/>
<path d="M111.8 1378.6l3.4 3.4l-3.4 3.4l-3.4 -3.4zM113.4 1348.7l3.4 3.4l-3.4 3.4l-3.4 -3.4zM114.4 1320.9l3.4 3.4l-3.4 3.4l-3.4 -3.4zM116.5 1294.3l3.4 3.4l-3.4 3.4l-3.4 -3.4zM120.6 1225.5l3.4 3.4l-3.4 3.4l-3.4 -3.4zM124.7 1183.5l3.4 3.4l-3.4 3.4l-3.4 -3.4zM127.3 1151.6l3.4 3.4l-3.4 3.4l-3.4 -3.4zM130 1126l3.4 3.4l-3.4 3.4l-3.4 -3.4zM132.9 1097l3.4 3.4l-3.4 3.4l-3.4 -3.4zM135.9 1070l3.4 3.4l-3.4 3.4l-3.4 -3.4zM141.7 1028.4l3.4 3.4l-3.4 3.4l-3.4 -3.4zM147.6 995.2l3.4 3.4l-3.4 3.4l-3.4 -3.4zM153.5 968.5l3.4 3.4l-3.4 3.4l-3.4 -3.4zM159.4 947.7l3.4 3.4l-3.4 3.4l-3.4 -3.4zM165.3 932.8l3.4 3.4l-3.4 3.4l-3.4 -3.4zM171.2 921.9l3.4 3.4l-3.4 3.4l-3.4 -3.4zM177.1 914.7l3.4 3.4l-3.4 3.4l-3.4 -3.4zM180 912l3.4 3.4l-3.4 3.4l-3.4 -3.4zM183 910l3.4 3.4l-3.4 3.4l-3.4 -3.4zM185.9 908.4l3.4 3.4l-3.4 3.4l-3.4 -3.4zM188.8 907.5l3.4 3.4l-3.4 3.4l-3.4 -3.4zM191.8 906.9l3.4 3.4l-3.4 3.4l-3.4 -3.4zM194.7 906.9l3.4 3.4l-3.4 3.4l-3.4 -3.4zM200.6 908.1l3.4 3.4l-3.4 3.4l-3.4 -3.4zM206.5 910.7l3.4 3.4l-3.4 3.4l-3.4 -3.4zM212.4 913.9l3.4 3.4l-3.4 3.4l-3.4 -3.4zM218.3 917.9l3.4 3.4l-3.4 3.4l-3.4 -3.4zM230.1 928.6l3.4 3.4l-3.4 3.4l-3.4 -3.4zM241.8 940.8l3.4 3.4l-3.4 3.4l-3.4 -3.4zM253.6 953.5l3.4 3.4l-3.4 3.4l-3.4 -3.4zM265.4 966.9l3.4 3.4l-3.4 3.4l-3.4 -3.4zM277.2 979.9l3.4 3.4l-3.4 3.4l-3.4 -3.4zM288.9 993l3.4 3.4l-3.4 3.4l-3.4 -3.4zM300.7 1006.2l3.4 3.4l-3.4 3.4l-3.4 -3.4zM312.5 1018.6l3.4 3.4l-3.4 3.4l-3.4 -3.4zM324.3 1030.6l3.4 3.4l-3.4 3.4l-3.4 -3.4zM336 1042l3.4 3.4l-3.4 3.4l-3.4 -3.4zM347.8 1052.6l3.4 3.4l-3.4 3.4l-3.4 -3.4zM359.6 1062.6l3.4 3.4l-3.4 3.4l-3.4 -3.4zM371.4 1072.8l3.4 3.4l-3.4 3.4l-3.4 -3.4zM383.1 1082l3.4 3.4l-3.4 3.4l-3.4 -3.4zM394.9 1090.6l3.4 3.4l-3.4 3.4l-3.4 -3.4zM406.7 1098.8l3.4 3.4l-3.4 3.4l-3.4 -3.4zM418.5 1106.3l3.4 3.4l-3.4 3.4l-3.4 -3.4zM430.2 1113.6l3.4 3.4l-3.4 3.4l-3.4 -3.4zM442 1120.5l3.4 3.4l-3.4 3.4l-3.4 -3.4zM453.8 1127.1l3.4 3.4l-3.4 3.4l-3.4 -3.4zM465.6 1133l3.4 3.4l-3.4 3.4l-3.4 -3.4zM477.3 1139l3.4 3.4l-3.4 3.4l-3.4 -3.4zM489.1 1144.3l3.4 3.4l-3.4 3.4l-3.4 -3.4zM500.9 1149.4l3.4 3.4l-3.4 3.4l-3.4 -3.4zM512.6 1154.1l3.4 3.4l-3.4 3.4l-3.4 -3.4zM524.4 1158.6l3.4 3.4l-3.4 3.4l-3.4 -3.4zM536.2 1163l3.4 3.4l-3.4 3.4l-3.4 -3.4zM548 1166.9l3.4 3.4l-3.4 3.4l-3.4 -3.4zM559.8 1170.9l3.4 3.4l-3.4 3.4l-3.4 -3.4zM571.5 1174.3l3.4 3.4l-3.4 3.4l-3.4 -3.4zM583.3 1177.9l3.4 3.4l-3.4 3.4l-3.4 -3.4zM595.1 1180.8l3.4 3.4l-3.4 3.4l-3.4 -3.4zM606.8 1184l3.4 3.4l-3.4 3.4l-3.4 -3.4zM618.6 1187l3.4 3.4l-3.4 3.4l-3.4 -3.4zM630.4 1189.8l3.4 3.4l-3.4 3.4l-3.4 -3.4zM642.2 1192.5l3.4 3.4l-3.4 3.4l-3.4 -3.4zM653.9 1194.9l3.4 3.4l-3.4 3.4l-3.4 -3.4zM665.7 1197.2l3.4 3.4l-3.4 3.4l-3.4 -3.4zM677.5 1199.1l3.4 3.4l-3.4 3.4l-3.4 -3.4z" stroke="#ffff00" stroke-width="2.2"/>
<path d="M110.3 1274.2l0 -3.2M110.3 1274.2l-3.1 -1.3M110.3 1274.2l3.1 -1.3M110.3 1274.2l-1.8 3.1M110.3 1274.2l1.8 3.1M111.5 1269.6l0 -3.2M111.5 1269.6l-3.1 -1.3M111.5 1269.6l3.1 -1.3M111.5 1269.6l-1.8 3.1M111.5 1269.6l1.8 3.1M112.9 1265l0 -3.2M112.9 1265l-3.1 -1.3M112.9 1265l3.1 -1.3M112.9 1265l-1.8 3.1M112.9 1265l1.8 3.1M114.4 1260.3l0 -3.2M114.4 1260.3l-3.1 -1.3M114.4 1260.3l3.1 -1.3M114.4 1260.3l-1.8 3.1M114.4 1260.3l1.8 3.1M116.5 1256.2l0 -3.2M116.5 1256.2l-3.1 -1.3M116.5 1256.2l3.1 -1.3M116.5 1256.2l-1.8 3.1M116.5 1256.2l1.8 3.1M119.1 1252.1l0 -3.2M119.1 1252.1l-3.1 -1.3M119.1 1252.1l3.1 -1.3M119.1 1252.1l-1.8 3.1M119.1 1252.1l1.8 3.1M122.1 1247.4l0 -3.2M122.1 1247.4l-3.1 -1.3M122.1 1247.4l3.1 -1.3M122.1 1247.4l-1.8 3.1M122.1 1247.4l1.8 3.1M125.8 1243.3l0 -3.2M125.8 1243.3l-3.1 -1.3M125.8 1243.3l3.1 -1.3M125.8 1243.3l-1.8 3.1M125.8 1243.3l1.8 3.1M127.8 1239.7l0 -3.2M127.8 1239.7l-3.1 -1.3M127.8 1239.7l3.1 -1.3M127.8 1239.7l-1.8 3.1M127.8 1239.7l1.8 3.1M129.9 1236.1l0 -3.2M129.9 1236.1l-3.1 -1.3M129.9 1236.1l3.1 -1.3M129.9 1236.1l-1.8 3.1M129.9 1236.1l1.8 3.1M131.9 1233l0 -3.2M131.9 1233l-3.1 -1.3M131.9 1233l3.1 -1.3M131.9 1233l-1.8 3.1M131.9 1233l1.8 3.1M134 1229.4l0 -3.2M134 1229.4l-3.1 -1.3M134 1229.4l3.1 -1.3M134 1229.4l-1.8 3.1M134 1229.4l1.8 3.1M136.1 1226.3l0 -3.2M136.1 1226.3l-3.1 -1.3M136.1 1226.3l3.1 -1.3M136.1 1226.3l-1.8 3.1M136.1 1226.3l1.8 3.1M139.1 1222.7l0 -3.2M139.1 1222.7l-3.1 -1.3M139.1 1222.7l3.1 -1.3M139.1 1222.7l-1.8 3.1M139.1 1222.7l1.8 3.1M142.2 1219.6l0 -3.2M142.2 1219.6l-3.1 -1.3M142.2 1219.6l3.1 -1.3M142.2 1219.6l-1.8 3.1M142.2 1219.6l1.8 3.1M145.1 1216.7l0 -3.2M145.1 1216.7l-3.1 -1.3M145.1 1216.7l3.1 -1.3M145.1 1216.7l-1.8 3.1M145.1 1216.7l1.8 3.1M147.9 1214.3l0 -3.2M147.9 1214.3l-3.1 -1.3M147.9 1214.3l3.1 -1.3M147.9 1214.3l-1.8 3.1M147.9 1214.3l1.8 3.1M150.8 1212.2l0 -3.2M150.8 1212.2l-3.1 -1.3M150.8 1212.2l3.1 -1.3M150.8 1212.2l-1.8 3.1M150.8 1212.2l1.8 3.1M153.6 1210.4l0 -3.2M153.6 1210.4l-3.1 -1.3M153.6 1210.4l3.1 -1.3M153.6 1210.4l-1.8 3.1M153.6 1210.4l1.8 3.1M156.5 1208.5l0 -3.2M156.5 1208.5l-3.1 -1.3M156.5 1208.5l3.1 -1.3M156.5 1208.5l-1.8 3.1M156.5 1208.5l1.8 3.1M159.2 1206.8l0 -3.2M159.2 1206.8l-3.1 -1.3M159.2 1206.8l3.1 -1.3M159.2 1206.8l-1.8 3.1M159.2 1206.8l1.8 3.1M171.2 1201.2l0 -3.2M171.2 1201.2l-3.1 -1.3M171.2 1201.2l3.1 -1.3M171.2 1201.2l-1.8 3.1M171.2 1201.2l1.8 3.1M183 1198.5l0 -3.2M183 1198.5l-3.1 -1.3M183 1198.5l3.1 -1.3M183 1198.5l-1.8 3.1M183 1198.5l1.8 3.1M194.7 1197l0 -3.2M194.7 1197l-3.1 -1.3M194.7 1197l3.1 -1.3M194.7 1197l-1.8 3.1M194.7 1197l1.8 3.1M206.5 1196.1l0 -3.2M206.5 1196.1l-3.1 -1.3M206.5 1196.1l3.1 -1.3M206.5 1196.1l-1.8 3.1M206.5 1196.1l1.8 3.1M218.3 1195.7l0 -3.2M218.3 1195.7l-3.1 -1.3M218.3 1195.7l3.1 -1.3M218.3 1195.7l-1.8 3.1M218.3 1195.7l1.8 3.1M230.1 1195.7l0 -3.2M230.1 1195.7l-3.1 -1.3M230.1 1195.7l3.1 -1.3M230.1 1195.7l-1.8 3.1M230.1 1195.7l1.8 3.1M241.8 1195.9l0 -3.2M241.8 1195.9l-3.1 -1.3M241.8 1195.9l3.1 -1.3M241.8 1195.9l-1.8 3.1M241.8 1195.9l1.8 3.1M253.6 1196.2l0 -3.2M253.6 1196.2l-3.1 -1.3M253.6 1196.2l3.1 -1.3M253.6 1196.2l-1.8 3.1M253.6 1196.2l1.8 3.1M265.4 1196.8l0 -3.2M265.4 1196.8l-3.1 -1.3M265.4 1196.8l3.1 -1.3M265.4 1196.8l-1.8 3.1M265.4 1196.8l1.8 3.1M277.2 1197.1l0 -3.2M277.2 1197.1l-3.1 -1.3M277.2 1197.1l3.1 -1.3M277.2 1197.1l-1.8 3.1M277.2 1197.1l1.8 3.1M288.9 1197.5l0 -3.2M288.9 1197.5l-3.1 -1.3M288.9 1197.5l3.1 -1.3M288.9 1197.5l-1.8 3.1M288.9 1197.5l1.8 3.1M300.7 1198l0 -3.2M300.7 1198l-3.1 -1.3M300.7 1198l3.1 -1.3M300.7 1198l-1.8 3.1M300.7 1198l1.8 3.1M312.5 1198.5l0 -3.2M312.5 1198.5l-3.1 -1.3M312.5 1198.5l3.1 -1.3M312.5 1198.5l-1.8 3.1M312.5 1198.5l1.8 3.1M324.3 1199.1l0 -3.2M324.3 1199.1l-3.1 -1.3M324.3 1199.1l3.1 -1.3M324.3 1199.1l-1.8 3.1M324.3 1199.1l1.8 3.1M336 1199.7l0 -3.2M336 1199.7l-3.1 -1.3M336 1199.7l3.1 -1.3M336 1199.7l-1.8 3.1M336 1199.7l1.8 3.1M347.8 1200.3l0 -3.2M347.8 1200.3l-3.1 -1.3M347.8 1200.3l3.1 -1.3M347.8 1200.3l-1.8 3.1M347.8 1200.3l1.8 3.1M359.6 1200.8l0 -3.2M359.6 1200.8l-3.1 -1.3M359.6 1200.8l3.1 -1.3M359.6 1200.8l-1.8 3.1M359.6 1200.8l1.8 3.1M371.4 1201.2l0 -3.2M371.4 1201.2l-3.1 -1.3M371.4 1201.2l3.1 -1.3M371.4 1201.2l-1.8 3.1M371.4 1201.2l1.8 3.1M383.1 1201.8l0 -3.2M383.1 1201.8l-3.1 -1.3M383.1 1201.8l3.1 -1.3M383.1 1201.8l-1.8 3.1M383.1 1201.8l1.8 3.1M394.9 1202.3l0 -3.2M394.9 1202.3l-3.1 -1.3M394.9 1202.3l3.1 -1.3M394.9 1202.3l-1.8 3.1M394.9 1202.3l1.8 3.1M406.7 1202.7l0 -3.2M406.7 1202.7l-3.1 -1.3M406.7 1202.7l3.1 -1.3M406.7 1202.7l-1.8 3.1M406.7 1202.7l1.8 3.1M418.5 1203l0 -3.2M418.5 1203l-3.1 -1.3M418.5 1203l3.1 -1.3M418.5 1203l-1.8 3.1M418.5 1203l1.8 3.1M430.2 1203.3l0 -3.2M430.2 1203.3l-3.1 -1.3M430.2 1203.3l3.1 -1.3M430.2 1203.3l-1.8 3.1M430.2 1203.3l1.8 3.1M442 1203.6l0 -3.2M442 1203.6l-3.1 -1.3M442 1203.6l3.1 -1.3M442 1203.6l-1.8 3.1M442 1203.6l1.8 3.1M453.8 1204.1l0 -3.2M453.8 1204.1l-3.1 -1.3M453.8 1204.1l3.1 -1.3M453.8 1204.1l-1.8 3.1M453.8 1204.1l1.8 3.1M465.6 1204.7l0 -3.2M465.6 1204.7l-3.1 -1.3M465.6 1204.7l3.1 -1.3M465.6 1204.7l-1.8 3.1M465.6 1204.7l1.8 3.1M477.3 1205.2l0 -3.2M477.3 1205.2l-3.1 -1.3M477.3 1205.2l3.1 -1.3M477.3 1205.2l-1.8 3.1M477.3 1205.2l1.8 3.1M489.1 1205.8l0 -3.2M489.1 1205.8l-3.1 -1.3M489.1 1205.8l3.1 -1.3M489.1 1205.8l-1.8 3.1M489.1 1205.8l1.8 3.1M500.9 1206.4l0 -3.2M500.9 1206.4l-3.1 -1.3M500.9 1206.4l3.1 -1.3M500.9 1206.4l-1.8 3.1M500.9 1206.4l1.8 3.1M512.6 1206.9l0 -3.2M512.6 1206.9l-3.1 -1.3M512.6 1206.9l3.1 -1.3M512.6 1206.9l-1.8 3.1M512.6 1206.9l1.8 3.1M524.4 1207.5l0 -3.2M524.4 1207.5l-3.1 -1.3M524.4 1207.5l3.1 -1.3M524.4 1207.5l-1.8 3.1M524.4 1207.5l1.8 3.1M536.2 1208l0 -3.2M536.2 1208l-3.1 -1.3M536.2 1208l3.1 -1.3M536.2 1208l-1.8 3.1M536.2 1208l1.8 3.1M548 1208.5l0 -3.2M548 1208.5l-3.1 -1.3M548 1208.5l3.1 -1.3M548 1208.5l-1.8 3.1M548 1208.5l1.8 3.1M559.8 1209.1l0 -3.2M559.8 1209.1l-3.1 -1.3M559.8 1209.1l3.1 -1.3M559.8 1209.1l-1.8 3.1M559.8 1209.1l1.8 3.1M571.5 1209.6l0 -3.2M571.5 1209.6l-3.1 -1.3M571.5 1209.6l3.1 -1.3M571.5 1209.6l-1.8 3.1M571.5 1209.6l1.8 3.1M583.3 1210.1l0 -3.2M583.3 1210.1l-3.1 -1.3M583.3 1210.1l3.1 -1.3M583.3 1210.1l-1.8 3.1M583.3 1210.1l1.8 3.1M595.1 1210.7l0 -3.2M595.1 1210.7l-3.1 -1.3M595.1 1210.7l3.1 -1.3M595.1 1210.7l-1.8 3.1M595.1 1210.7l1.8 3.1M606.8 1211.2l0 -3.2M606.8 1211.2l-3.1 -1.3M606.8 1211.2l3.1 -1.3M606.8 1211.2l-1.8 3.1M606.8 1211.2l1.8 3.1M618.6 1211.7l0 -3.2M618.6 1211.7l-3.1 -1.3M618.6 1211.7l3.1 -1.3M618.6 1211.7l-1.8 3.1M618.6 1211.7l1.8 3.1M630.4 1212.2l0 -3.2M630.4 1212.2l-3.1 -1.3M630.4 1212.2l3.1 -1.3M630.4 1212.2l-1.8 3.1M630.4 1212.2l1.8 3.1M642.2 1212.8l0 -3.2M642.2 1212.8l-3.1 -1.3M642.2 1212.8l3.1 -1.3M642.2 1212.8l-1.8 3.1M642.2 1212.8l1.8 3.1M653.9 1213.3l0 -3.2M653.9 1213.3l-3.1 -1.3M653.9 1213.3l3.1 -1.3M653.9 1213.3l-1.8 3.1M653.9 1213.3l1.8 3.1M665.7 1213.8l0 -3.2M665.7 1213.8l-3.1 -1.3M665.7 1213.8l3.1 -1.3M665.7 1213.8l-1.8 3.1M665.7 1213.8l1.8 3.1M677.5 1214.4l0 -3.2M677.5 1214.4l-3.1 -1.3M677.5 1214.4l3.1 -1.3M677.5 1214.4l-1.8 3.1M677.5 1214.4l1.8 3.1" stroke="#000000" stroke-width="2.2" stroke-linecap="round"/>
<path d="M107.7 1239.4h9.2M112.3 1234.8v9.2M110.6 1244.3h9.2M115.2 1239.7v9.2M113.6 1250.8h9.2M118.2 1246.2v9.2M116.5 1256.5h9.2M121.1 1251.9v9.2M119.5 1261.4h9.2M124.1 1256.8v9.2M125.4 1269.2h9.2M130 1264.6v9.2M131.3 1275.6h9.2M135.9 1271v9.2M137.1 1281.4h9.2M141.7 1276.8v9.2M143 1285.5h9.2M147.6 1280.9v9.2M148.9 1288.9h9.2M153.5 1284.3v9.2M154.8 1291.5h9.2M159.4 1286.9v9.2M160.7 1293.5h9.2M165.3 1288.9v9.2M166.6 1294.3h9.2M171.2 1289.7v9.2M168 1294.5h9.2M172.6 1289.9v9.2M169.5 1294.6h9.2M174.1 1290v9.2M171 1294.8h9.2M175.6 1290.2v9.2M172.5 1294.8h9.2M177.1 1290.2v9.2M173.9 1294.8h9.2M178.5 1290.2v9.2M175.4 1294.8h9.2M180 1290.2v9.2M176.9 1294.7h9.2M181.5 1290.1v9.2M178.4 1294.6h9.2M183 1290v9.2M184.2 1294h9.2M188.8 1289.4v9.2M190.1 1293h9.2M194.7 1288.4v9.2M196 1291.8h9.2M200.6 1287.2v9.2M201.9 1290.4h9.2M206.5 1285.8v9.2M213.7 1287.4h9.2M218.3 1282.8v9.2M225.5 1283.8h9.2M230.1 1279.2v9.2M237.2 1279.8h9.2M241.8 1275.2v9.2M249 1276h9.2M253.6 1271.4v9.2M260.8 1272h9.2M265.4 1267.4v9.2M272.6 1267.9h9.2M277.2 1263.3v9.2M284.3 1264.3h9.2M288.9 1259.7v9.2M296.1 1260.4h9.2M300.7 1255.8v9.2M307.9 1256.9h9.2M312.5 1252.3v9.2M319.7 1253.7h9.2M324.3 1249.1v9.2M331.4 1250.5h9.2M336 1245.9v9.2M343.2 1247.7h9.2M347.8 1243.1v9.2M355 1244.8h9.2M359.6 1240.2v9.2M366.8 1242.1h9.2M371.4 1237.5v9.2M378.5 1239.8h9.2M383.1 1235.2v9.2M390.3 1237.6h9.2M394.9 1233v9.2M402.1 1235.7h9.2M406.7 1231.1v9.2M413.9 1233.9h9.2M418.5 1229.3v9.2M425.6 1231.9h9.2M430.2 1227.3v9.2M437.4 1230.3h9.2M442 1225.7v9.2M449.2 1229h9.2M453.8 1224.4v9.2M460.9 1227.8h9.2M465.6 1223.2v9.2M472.7 1226.4h9.2M477.3 1221.8v9.2M484.5 1225.4h9.2M489.1 1220.8v9.2M496.3 1224.3h9.2M500.9 1219.7v9.2M508 1223.7h9.2M512.6 1219.1v9.2M519.8 1223.1h9.2M524.4 1218.5v9.2M531.6 1222.5h9.2M536.2 1217.9v9.2M543.4 1221.6h9.2M548 1217v9.2M555.1 1221h9.2M559.8 1216.4v9.2M566.9 1220.6h9.2M571.5 1216v9.2M578.7 1220h9.2M583.3 1215.4v9.2M590.5 1219.6h9.2M595.1 1215v9.2M602.2 1219.2h9.2M606.8 1214.6v9.2M614 1218.9h9.2M618.6 1214.3v9.2M625.8 1218.7h9.2M630.4 1214.1v9.2M637.6 1218.5h9.2M642.2 1213.9v9.2M649.3 1218.3h9.2M653.9 1213.7v9.2M661.1 1218.3h9.2M665.7 1213.7v9.2M672.9 1218.1h9.2M677.5 1213.5v9.2" stroke="#0000ff" stroke-width="2.1"/>
<path d="M108.3 1378.5h7v7h-7zM108.9 1363.3h7v7h-7zM109.9 1348.6h7v7h-7zM110.7 1334.5h7v7h-7zM110.9 1320.8h7v7h-7zM113 1294.2h7v7h-7zM114 1269.2h7v7h-7zM116.1 1248.1h7v7h-7zM117.6 1237.8h7v7h-7zM118.6 1229.5h7v7h-7zM120.4 1219.7h7v7h-7zM125.9 1193.5h7v7h-7zM131.5 1171.6h7v7h-7zM137.2 1152.3h7v7h-7zM143.1 1137.3h7v7h-7zM149.2 1125.8h7v7h-7zM155.1 1117.1h7v7h-7zM161 1110h7v7h-7zM166.9 1104.9h7v7h-7zM172.8 1101.7h7v7h-7zM178.7 1099.5h7v7h-7zM184.5 1098.1h7v7h-7zM190.4 1097.2h7v7h-7zM196.3 1097.2h7v7h-7zM202.2 1097.7h7v7h-7zM214 1100.2h7v7h-7zM225.8 1103.6h7v7h-7zM237.5 1107.7h7v7h-7zM249.3 1112.2h7v7h-7zM261.1 1116.7h7v7h-7zM272.9 1121.2h7v7h-7zM284.6 1125.8h7v7h-7zM296.4 1130.5h7v7h-7zM308.2 1135.1h7v7h-7zM320 1139.3h7v7h-7zM331.7 1143.5h7v7h-7zM343.5 1147.6h7v7h-7zM355.3 1151.5h7v7h-7zM367.1 1155.3h7v7h-7zM378.8 1158.8h7v7h-7zM390.6 1162.1h7v7h-7zM402.4 1164.8h7v7h-7zM414.2 1167.7h7v7h-7zM425.9 1170.4h7v7h-7zM437.7 1173.2h7v7h-7zM449.5 1175.7h7v7h-7zM461.2 1178h7v7h-7zM473 1180.3h7v7h-7zM484.8 1182.4h7v7h-7zM496.6 1184.6h7v7h-7zM508.4 1186.6h7v7h-7zM520.1 1188.6h7v7h-7zM531.9 1190.3h7v7h-7zM543.7 1191.9h7v7h-7zM555.5 1193.4h7v7h-7zM567.2 1195h7v7h-7zM579 1196.4h7v7h-7zM590.8 1197.9h7v7h-7zM602.5 1199.1h7v7h-7zM614.3 1200.4h7v7h-7zM626.1 1201.6h7v7h-7zM637.9 1202.9h7v7h-7zM649.6 1203.7h7v7h-7zM661.4 1204.7h7v7h-7zM673.2 1205.6h7v7h-7z" stroke="#ff0000" stroke-width="1.95"/>
<path d="M111.8 1417L112.9 1383L113.9 1352.1L114.9 1326.4L116.5 1297.7L118 1280L119.1 1251.6L120.2 1244.8L121.3 1241.5L122.4 1239.2L123.5 1237.4L124.6 1235.6L125.8 1233.8L126.9 1232.1L128 1230.6L129.1 1229.1L130.2 1227.7L131.4 1226.3L132.5 1225L133.6 1223.8L134.7 1222.6L135.8 1221.5L136.9 1220.4L138.1 1219.3L139.2 1218.3L140.3 1217.3L141.4 1216.4L142.5 1215.4L143.6 1214.5L144.8 1213.6L145.9 1212.7L147 1211.9L148.1 1211L149.2 1210.3L150.3 1209.5L151.5 1208.8L152.6 1208.2L153.7 1207.5L154.8 1206.9L155.9 1206.4L157.1 1205.8L158.2 1205.3L159.3 1204.7L160.4 1204.3L161.5 1203.8L162.6 1203.3L163.8 1202.9L164.9 1202.5L166 1202L167.1 1201.7L168.2 1201.3L169.3 1200.9L170.5 1200.6L171.6 1200.2L172.7 1199.9L173.8 1199.6L174.9 1199.3L176.1 1198.9L177.2 1198.7L178.3 1198.4L179.4 1198.1L180.5 1197.9L181.6 1197.6L182.8 1197.4L183.9 1197.2L185 1197L186.1 1196.8L187.2 1196.7L188.3 1196.5L189.5 1196.3L190.6 1196.2L191.7 1196L192.8 1195.9L193.9 1195.8L195.1 1195.7L196.2 1195.6L197.3 1195.5L198.4 1195.4L199.5 1195.3L200.6 1195.3L201.8 1195.2L202.9 1195.1L204 1195.1L205.1 1195L206.2 1194.9L207.3 1194.9L208.5 1194.8L209.6 1194.8L210.7 1194.8L211.8 1194.7L212.9 1194.7L214 1194.7L215.2 1194.7L216.3 1194.7L217.4 1194.7L218.5 1194.6L219.6 1194.6L220.8 1194.6L221.9 1194.6L223 1194.6L224.1 1194.6L225.2 1194.6L226.3 1194.6L227.5 1194.6L228.6 1194.6L229.7 1194.6L230.8 1194.6L231.9 1194.6L233 1194.6L234.2 1194.6L235.3 1194.6L236.4 1194.6L237.5 1194.7L238.6 1194.7L239.8 1194.7L240.9 1194.7L242 1194.7L243.1 1194.8L244.2 1194.8L245.3 1194.8L246.5 1194.8L247.6 1194.8L248.7 1194.9L249.8 1194.9L250.9 1194.9L252 1195L253.2 1195L254.3 1195.1L255.4 1195.2L256.5 1195.2L257.6 1195.3L258.7 1195.4L259.9 1195.5L261 1195.5L262.1 1195.6L263.2 1195.7L264.3 1195.7L265.5 1195.8L266.6 1195.8L267.7 1195.8L268.8 1195.9L269.9 1195.9L271 1195.9L272.2 1196L273.3 1196L274.4 1196L275.5 1196.1L276.6 1196.1L277.7 1196.1L278.9 1196.1L280 1196.2L281.1 1196.2L282.2 1196.2L283.3 1196.3L284.5 1196.3L285.6 1196.4L286.7 1196.4L287.8 1196.4L288.9 1196.5L290 1196.5L291.2 1196.6L292.3 1196.6L293.4 1196.6L294.5 1196.7L295.6 1196.7L296.7 1196.8L297.9 1196.8L299 1196.9L300.1 1196.9L301.2 1197L302.3 1197L303.4 1197.1L304.6 1197.1L305.7 1197.2L306.8 1197.2L307.9 1197.3L309 1197.3L310.2 1197.4L311.3 1197.4L312.4 1197.5L313.5 1197.5L314.6 1197.6L315.7 1197.6L316.9 1197.7L318 1197.8L319.1 1197.8L320.2 1197.9L321.3 1197.9L322.4 1198L323.6 1198L324.7 1198.1L325.8 1198.2L326.9 1198.2L328 1198.3L329.2 1198.3L330.3 1198.4L331.4 1198.4L332.5 1198.5L333.6 1198.6L334.7 1198.6L335.9 1198.7L337 1198.7L338.1 1198.8L339.2 1198.8L340.3 1198.9L341.4 1199L342.6 1199L343.7 1199.1L344.8 1199.1L345.9 1199.2L347 1199.2L348.2 1199.3L349.3 1199.3L350.4 1199.4L351.5 1199.4L352.6 1199.5L353.7 1199.5L354.9 1199.5L356 1199.6L357.1 1199.6L358.2 1199.7L359.3 1199.7L360.4 1199.8L361.6 1199.8L362.7 1199.8L363.8 1199.9L364.9 1199.9L366 1200L367.1 1200L368.3 1200.1L369.4 1200.1L370.5 1200.2L371.6 1200.2L372.7 1200.3L373.9 1200.3L375 1200.4L376.1 1200.4L377.2 1200.5L378.3 1200.5L379.4 1200.6L380.6 1200.7L381.7 1200.7L382.8 1200.8L383.9 1200.8L385 1200.9L386.1 1200.9L387.3 1201L388.4 1201L389.5 1201.1L390.6 1201.1L391.7 1201.2L392.9 1201.2L394 1201.3L395.1 1201.3L396.2 1201.4L397.3 1201.4L398.4 1201.4L399.6 1201.5L400.7 1201.5L401.8 1201.6L402.9 1201.6L404 1201.6L405.1 1201.6L406.3 1201.7L407.4 1201.7L408.5 1201.7L409.6 1201.8L410.7 1201.8L411.8 1201.8L413 1201.8L414.1 1201.8L415.2 1201.9L416.3 1201.9L417.4 1201.9L418.6 1201.9L419.7 1202L420.8 1202L421.9 1202L423 1202L424.1 1202.1L425.3 1202.1L426.4 1202.1L427.5 1202.1L428.6 1202.2L429.7 1202.2L430.8 1202.2L432 1202.3L433.1 1202.3L434.2 1202.3L435.3 1202.4L436.4 1202.4L437.6 1202.5L438.7 1202.5L439.8 1202.5L440.9 1202.6L442 1202.6L443.1 1202.7L444.3 1202.7L445.4 1202.7L446.5 1202.8L447.6 1202.8L448.7 1202.9L449.8 1202.9L451 1203L452.1 1203L453.2 1203.1L454.3 1203.1L455.4 1203.2L456.5 1203.2L457.7 1203.3L458.8 1203.3L459.9 1203.4L461 1203.4L462.1 1203.5L463.3 1203.5L464.4 1203.6L465.5 1203.6L466.6 1203.7L467.7 1203.7L468.8 1203.8L470 1203.8L471.1 1203.9L472.2 1203.9L473.3 1204L474.4 1204.1L475.5 1204.1L476.7 1204.2L477.8 1204.2L478.9 1204.3L480 1204.3L481.1 1204.4L482.3 1204.4L483.4 1204.5L484.5 1204.6L485.6 1204.6L486.7 1204.7L487.8 1204.7L489 1204.8L490.1 1204.8L491.2 1204.9L492.3 1204.9L493.4 1205L494.5 1205.1L495.7 1205.1L496.8 1205.2L497.9 1205.2L499 1205.3L500.1 1205.3L501.2 1205.4L502.4 1205.4L503.5 1205.5L504.6 1205.5L505.7 1205.6L506.8 1205.6L508 1205.7L509.1 1205.8L510.2 1205.8L511.3 1205.9L512.4 1205.9L513.5 1206L514.7 1206L515.8 1206.1L516.9 1206.1L518 1206.2L519.1 1206.2L520.2 1206.3L521.4 1206.3L522.5 1206.4L523.6 1206.4L524.7 1206.5L525.8 1206.5L527 1206.6L528.1 1206.6L529.2 1206.7L530.3 1206.7L531.4 1206.8L532.5 1206.8L533.7 1206.9L534.8 1206.9L535.9 1207L537 1207L538.1 1207.1L539.2 1207.1L540.4 1207.2L541.5 1207.2L542.6 1207.3L543.7 1207.3L544.8 1207.4L546 1207.4L547.1 1207.5L548.2 1207.5L549.3 1207.6L550.4 1207.6L551.5 1207.7L552.7 1207.7L553.8 1207.8L554.9 1207.8L556 1207.9L557.1 1207.9L558.2 1208L559.4 1208L560.5 1208.1L561.6 1208.1L562.7 1208.2L563.8 1208.2L564.9 1208.3L566.1 1208.3L567.2 1208.4L568.3 1208.4L569.4 1208.5L570.5 1208.5L571.7 1208.6L572.8 1208.6L573.9 1208.7L575 1208.7L576.1 1208.8L577.2 1208.8L578.4 1208.9L579.5 1208.9L580.6 1209L581.7 1209L582.8 1209.1L583.9 1209.1L585.1 1209.2L586.2 1209.2L587.3 1209.3L588.4 1209.3L589.5 1209.4L590.7 1209.4L591.8 1209.5L592.9 1209.5L594 1209.6L595.1 1209.6L596.2 1209.7L597.4 1209.7L598.5 1209.8L599.6 1209.8L600.7 1209.9L601.8 1209.9L602.9 1210L604.1 1210L605.2 1210.1L606.3 1210.1L607.4 1210.2L608.5 1210.2L609.6 1210.3L610.8 1210.3L611.9 1210.4L613 1210.4L614.1 1210.5L615.2 1210.5L616.4 1210.6L617.5 1210.6L618.6 1210.7L619.7 1210.7L620.8 1210.8L621.9 1210.8L623.1 1210.9L624.2 1210.9L625.3 1211L626.4 1211L627.5 1211.1L628.6 1211.1L629.8 1211.2L630.9 1211.2L632 1211.3L633.1 1211.3L634.2 1211.4L635.4 1211.4L636.5 1211.5L637.6 1211.5L638.7 1211.6L639.8 1211.6L640.9 1211.7L642.1 1211.7L643.2 1211.8L644.3 1211.8L645.4 1211.9L646.5 1211.9L647.6 1212L648.8 1212L649.9 1212.1L651 1212.1L652.1 1212.2L653.2 1212.2L654.3 1212.3L655.5 1212.3L656.6 1212.4L657.7 1212.4L658.8 1212.5L659.9 1212.5L661.1 1212.6L662.2 1212.6L663.3 1212.7L664.4 1212.7L665.5 1212.8L666.6 1212.8L667.8 1212.9L668.9 1212.9L670 1213L671.1 1213L672.2 1213.1L673.3 1213.1L674.5 1213.2L675.6 1213.2L676.7 1213.3" stroke="#00ff00" stroke-width="2.3" stroke-linejoin="round"/>
<rect x="106.4" y="904" width="575.8" height="518.4" stroke="#000" stroke-width="2.1"/>
<path d="M155.9 1422.4v10M230.3 1422.4v10M304.7 1422.4v10M379.1 1422.4v10M453.5 1422.4v10M527.9 1422.4v10M602.3 1422.4v10M676.7 1422.4v10M118.7 1422.4v5.2M193.1 1422.4v5.2M267.5 1422.4v5.2M341.9 1422.4v5.2M416.3 1422.4v5.2M490.7 1422.4v5.2M565.1 1422.4v5.2M639.5 1422.4v5.2M106.4 938.6h-10M106.4 1095.8h-10M106.4 1253.1h-10M106.4 1410.3h-10M106.4 1378.9h-5.2M106.4 1347.4h-5.2M106.4 1316h-5.2M106.4 1284.5h-5.2M106.4 1221.6h-5.2M106.4 1190.2h-5.2M106.4 1158.8h-5.2M106.4 1127.3h-5.2M106.4 1064.4h-5.2M106.4 1032.9h-5.2M106.4 1001.5h-5.2M106.4 970h-5.2" stroke="#000" stroke-width="1.8"/>
</g>
<g class="tk" transform="scale(1,1.04)">
<text x="155.9" y="1400" text-anchor="middle">3</text>
<text x="230.3" y="1400" text-anchor="middle">4</text>
<text x="304.7" y="1400" text-anchor="middle">5</text>
<text x="379.1" y="1400" text-anchor="middle">6</text>
<text x="453.5" y="1400" text-anchor="middle">7</text>
<text x="527.9" y="1400" text-anchor="middle">8</text>
<text x="602.3" y="1400" text-anchor="middle">9</text>
<text x="676.7" y="1400" text-anchor="middle">10</text>
<text x="94.6" y="910.38" text-anchor="end">0.010</text>
<text x="94.6" y="1061.59" text-anchor="end">0.005</text>
<text x="94.6" y="1212.79" text-anchor="end">0</text>
<text x="94.6" y="1363.99" text-anchor="end">−0.005</text>
</g>
<text class="ax" x="393.5" y="1478.5" text-anchor="middle">r</text>
<rect x="17.8" y="1481" width="658.8" height="88.9" fill="#fff" stroke="#000" stroke-width="1.7"/>
<g fill="none">
<path d="M50.8 1503.1a3.45 3.45 0 1 0 6.9 0a3.45 3.45 0 1 0 -6.9 0" stroke="#ff00ff" stroke-width="2.15"/>
<path d="M203.1 1500.5l3.4 3.4l-3.4 3.4l-3.4 -3.4z" stroke="#ffff00" stroke-width="2.2"/>
<path d="M347.8 1504.2l0 -3.2M347.8 1504.2l-3.1 -1.3M347.8 1504.2l3.1 -1.3M347.8 1504.2l-1.8 3.1M347.8 1504.2l1.8 3.1" stroke="#000000" stroke-width="2.2" stroke-linecap="round"/>
<path d="M482.9 1504.1h9.2M487.5 1499.5v9.2" stroke="#0000ff" stroke-width="2.1"/>
<path d="M50.6 1541.3h7v7h-7z" stroke="#ff0000" stroke-width="1.95"/>
<path d="M173 1544.8H232.3" stroke="#00ff00" stroke-width="2.3"/>
</g>
<text class="lg"><tspan class="rho" x="91.8" y="1516.5">ρ</tspan><tspan class="rho" x="240.5" y="1512.4">ρ</tspan><tspan class="pl" x="260.8" y="1513.8">+</tspan><tspan x="282.8" y="1511.8">p</tspan><tspan class="sub" x="295.3" y="1522.4">r</tspan><tspan class="rho" x="385" y="1512.4">ρ</tspan><tspan class="pl" x="405.4" y="1513.8">+</tspan><tspan class="it" x="427.4" y="1511.8">p</tspan><tspan class="sub" x="441.2" y="1522.4">t</tspan><tspan class="rho" x="524.6" y="1512.4">ρ</tspan><tspan class="pl" x="545.1" y="1513.8">+</tspan><tspan class="it" x="566.5" y="1511.8">p</tspan><tspan class="sub" x="580.2" y="1522.4">r</tspan><tspan class="bp" x="599.5" y="1516.6">+</tspan><tspan x="629.5" y="1511.8">2</tspan><tspan class="it" x="648.7" y="1511.8">p</tspan><tspan class="sub" x="663.1" y="1522.4">t</tspan><tspan class="rho" x="91.8" y="1554.7">ρ</tspan><tspan x="112.7" y="1554.1">-</tspan><tspan x="128.2" y="1554.1">|</tspan><tspan class="it" x="133.7" y="1554.1">p</tspan><tspan class="sub" x="147.7" y="1564.7">r</tspan><tspan x="157" y="1554.1">|</tspan><tspan class="rho" x="240.5" y="1554.7">ρ</tspan><tspan x="261.5" y="1554.1">-</tspan><tspan x="277" y="1554.1">|</tspan><tspan class="it" x="282.6" y="1554.1">p</tspan><tspan class="sub" x="296.6" y="1564.7">t</tspan><tspan x="302.2" y="1554.1">|</tspan></text>
<g fill="none">
<path d="M890 1164.4L892 1167.1L894 1169.6L895.9 1172.2L897.9 1174.6L899.9 1177.1L901.9 1179.4L903.8 1181.8L905.8 1184.1L907.8 1186.3L909.8 1188.5L911.8 1190.7L913.7 1192.8L915.7 1194.9L917.7 1196.9L919.7 1198.9L921.6 1200.9L923.6 1202.8L925.6 1204.7L927.6 1206.6L929.6 1208.4L931.5 1210.2L933.5 1212L935.5 1213.7L937.5 1215.4L939.4 1217.1L941.4 1218.7L943.4 1220.3L945.4 1221.9L947.4 1223.5L949.3 1225L951.3 1226.5L953.3 1228L955.3 1229.4L957.2 1230.8L959.2 1232.2L961.2 1233.6L963.2 1235L965.1 1236.3L967.1 1237.6L969.1 1238.9L971.1 1240.2L973.1 1241.4L975 1242.6L977 1243.8L979 1245L981 1246.2L982.9 1247.3L984.9 1248.5L986.9 1249.6L988.9 1250.7L990.9 1251.8L992.8 1252.8L994.8 1253.9L996.8 1254.9L998.8 1255.9L1000.7 1256.9L1002.7 1257.9L1004.7 1258.8L1006.7 1259.8L1008.7 1260.7L1010.6 1261.6L1012.6 1262.5L1014.6 1263.4L1016.6 1264.3L1018.5 1265.2L1020.5 1266L1022.5 1266.9L1024.5 1267.7L1026.5 1268.5L1028.4 1269.3L1030.4 1270.1L1032.4 1270.9L1034.4 1271.6L1036.3 1272.4L1038.3 1273.1L1040.3 1273.9L1042.3 1274.6L1044.3 1275.3L1046.2 1276L1048.2 1276.7L1050.2 1277.4L1052.2 1278.1L1054.1 1278.7L1056.1 1279.4L1058.1 1280L1060.1 1280.7L1062.1 1281.3L1064 1281.9L1066 1282.5L1068 1283.1L1070 1283.7L1071.9 1284.3L1073.9 1284.9L1075.9 1285.5L1077.9 1286L1079.8 1286.6L1081.8 1287.1L1083.8 1287.7L1085.8 1288.2L1087.8 1288.7L1089.7 1289.2L1091.7 1289.7L1093.7 1290.3L1095.7 1290.7L1097.6 1291.2L1099.6 1291.7L1101.6 1292.2L1103.6 1292.7L1105.6 1293.1L1107.5 1293.6L1109.5 1294.1L1111.5 1294.5L1113.5 1295L1115.4 1295.4L1117.4 1295.8L1119.4 1296.2L1121.4 1296.7L1123.4 1297.1L1125.3 1297.5L1127.3 1297.9L1129.3 1298.3L1131.3 1298.7L1133.2 1299.1L1135.2 1299.5L1137.2 1299.9L1139.2 1300.2L1141.2 1300.6L1143.1 1301L1145.1 1301.3L1147.1 1301.7L1149.1 1302L1151 1302.4L1153 1302.7L1155 1303.1L1157 1303.4L1159 1303.8L1160.9 1304.1L1162.9 1304.4L1164.9 1304.7L1166.9 1305L1168.8 1305.4L1170.8 1305.7L1172.8 1306L1174.8 1306.3L1176.8 1306.6L1178.7 1306.9L1180.7 1307.2L1182.7 1307.5L1184.7 1307.7L1186.6 1308L1188.6 1308.3L1190.6 1308.6L1192.6 1308.9L1194.5 1309.1L1196.5 1309.4L1198.5 1309.7L1200.5 1309.9L1202.5 1310.2L1204.4 1310.4L1206.4 1310.7L1208.4 1310.9L1210.4 1311.2L1212.3 1311.4L1214.3 1311.7L1216.3 1311.9L1218.3 1312.2L1220.3 1312.4L1222.2 1312.6L1224.2 1312.8L1226.2 1313.1L1228.2 1313.3L1230.1 1313.5L1232.1 1313.7L1234.1 1314L1236.1 1314.2L1238.1 1314.4L1240 1314.6L1242 1314.8L1244 1315L1246 1315.2L1247.9 1315.4L1249.9 1315.6L1251.9 1315.8L1253.9 1316L1255.9 1316.2L1257.8 1316.4L1259.8 1316.6L1261.8 1316.8L1263.8 1316.9L1265.7 1317.1L1267.7 1317.3L1269.7 1317.5L1271.7 1317.7L1273.7 1317.8L1275.6 1318L1277.6 1318.2L1279.6 1318.4L1281.6 1318.5L1283.5 1318.7L1285.5 1318.9L1287.5 1319L1289.5 1319.2L1291.5 1319.4L1293.4 1319.5L1295.4 1319.7L1297.4 1319.8L1299.4 1320L1301.3 1320.1L1303.3 1320.3L1305.3 1320.4L1307.3 1320.6L1309.2 1320.7L1311.2 1320.9L1313.2 1321L1315.2 1321.2L1317.2 1321.3L1319.1 1321.4L1321.1 1321.6L1323.1 1321.7L1325.1 1321.9L1327 1322L1329 1322.1L1331 1322.3L1333 1322.4L1335 1322.5L1336.9 1322.6L1338.9 1322.8L1340.9 1322.9L1342.9 1323L1344.8 1323.1L1346.8 1323.3L1348.8 1323.4L1350.8 1323.5L1352.8 1323.6L1354.7 1323.8L1356.7 1323.9L1358.7 1324L1360.7 1324.1L1362.6 1324.2L1364.6 1324.3L1366.6 1324.4L1368.6 1324.5L1370.6 1324.7L1372.5 1324.8L1374.5 1324.9L1376.5 1325L1378.5 1325.1L1380.4 1325.2L1382.4 1325.3L1384.4 1325.4L1386.4 1325.5L1388.4 1325.6L1390.3 1325.7L1392.3 1325.8L1394.3 1325.9L1396.3 1326L1398.2 1326.1L1400.2 1326.2L1402.2 1326.3L1404.2 1326.4L1406.2 1326.5L1408.1 1326.6L1410.1 1326.7L1412.1 1326.8L1414.1 1326.8L1416 1326.9L1418 1327L1420 1327.1L1422 1327.2L1423.9 1327.3L1425.9 1327.4L1427.9 1327.5L1429.9 1327.5L1431.9 1327.6L1433.8 1327.7L1435.8 1327.8L1437.8 1327.9L1439.8 1328L1441.7 1328L1443.7 1328.1L1445.7 1328.2L1447.7 1328.3L1449.7 1328.4L1451.6 1328.4L1453.6 1328.5L1455.6 1328.6L1457.6 1328.7L1459.5 1328.7L1461.5 1328.8L1463.5 1328.9L1465.5 1329L1467.5 1329L1469.4 1329.1L1471.4 1329.2L1473.4 1329.2L1475.4 1329.3L1477.3 1329.4L1479.3 1329.4L1481.3 1329.5" stroke="#ffff00" stroke-width="2.3" stroke-linejoin="round"/>
<path d="M890.8 906.7l3.4 3.4l-3.4 3.4l-3.4 -3.4zM903.1 939.8l3.4 3.4l-3.4 3.4l-3.4 -3.4zM915.4 968.8l3.4 3.4l-3.4 3.4l-3.4 -3.4zM927.8 994.8l3.4 3.4l-3.4 3.4l-3.4 -3.4zM940.1 1018.1l3.4 3.4l-3.4 3.4l-3.4 -3.4zM952.4 1039.4l3.4 3.4l-3.4 3.4l-3.4 -3.4zM964.7 1059.2l3.4 3.4l-3.4 3.4l-3.4 -3.4zM977 1076.5l3.4 3.4l-3.4 3.4l-3.4 -3.4zM989.3 1092.3l3.4 3.4l-3.4 3.4l-3.4 -3.4zM1001.7 1106.7l3.4 3.4l-3.4 3.4l-3.4 -3.4zM1014 1120.5l3.4 3.4l-3.4 3.4l-3.4 -3.4zM1026.3 1133.4l3.4 3.4l-3.4 3.4l-3.4 -3.4zM1038.6 1144.3l3.4 3.4l-3.4 3.4l-3.4 -3.4zM1050.9 1155.2l3.4 3.4l-3.4 3.4l-3.4 -3.4zM1063.3 1164.1l3.4 3.4l-3.4 3.4l-3.4 -3.4zM1075.6 1172.7l3.4 3.4l-3.4 3.4l-3.4 -3.4zM1087.9 1180.8l3.4 3.4l-3.4 3.4l-3.4 -3.4zM1100.2 1188.3l3.4 3.4l-3.4 3.4l-3.4 -3.4zM1112.5 1195.7l3.4 3.4l-3.4 3.4l-3.4 -3.4zM1124.9 1202.1l3.4 3.4l-3.4 3.4l-3.4 -3.4zM1137.2 1208.3l3.4 3.4l-3.4 3.4l-3.4 -3.4zM1149.5 1213.9l3.4 3.4l-3.4 3.4l-3.4 -3.4zM1161.8 1218.7l3.4 3.4l-3.4 3.4l-3.4 -3.4zM1174.1 1223.5l3.4 3.4l-3.4 3.4l-3.4 -3.4zM1186.5 1228.4l3.4 3.4l-3.4 3.4l-3.4 -3.4zM1198.8 1232.9l3.4 3.4l-3.4 3.4l-3.4 -3.4zM1211.1 1236.6l3.4 3.4l-3.4 3.4l-3.4 -3.4zM1223.4 1240.6l3.4 3.4l-3.4 3.4l-3.4 -3.4zM1235.7 1244l3.4 3.4l-3.4 3.4l-3.4 -3.4zM1248 1247.1l3.4 3.4l-3.4 3.4l-3.4 -3.4zM1260.4 1250.1l3.4 3.4l-3.4 3.4l-3.4 -3.4zM1272.7 1252.9l3.4 3.4l-3.4 3.4l-3.4 -3.4zM1285 1256l3.4 3.4l-3.4 3.4l-3.4 -3.4zM1297.3 1259l3.4 3.4l-3.4 3.4l-3.4 -3.4zM1309.6 1261l3.4 3.4l-3.4 3.4l-3.4 -3.4zM1322 1263l3.4 3.4l-3.4 3.4l-3.4 -3.4zM1334.3 1265.1l3.4 3.4l-3.4 3.4l-3.4 -3.4zM1346.6 1267.1l3.4 3.4l-3.4 3.4l-3.4 -3.4zM1358.9 1269.2l3.4 3.4l-3.4 3.4l-3.4 -3.4zM1371.2 1271.2l3.4 3.4l-3.4 3.4l-3.4 -3.4zM1383.5 1272.6l3.4 3.4l-3.4 3.4l-3.4 -3.4zM1395.9 1274.1l3.4 3.4l-3.4 3.4l-3.4 -3.4zM1408.2 1275.2l3.4 3.4l-3.4 3.4l-3.4 -3.4zM1420.5 1276.7l3.4 3.4l-3.4 3.4l-3.4 -3.4zM1432.8 1278.1l3.4 3.4l-3.4 3.4l-3.4 -3.4zM1445.1 1279.2l3.4 3.4l-3.4 3.4l-3.4 -3.4zM1457.5 1280.7l3.4 3.4l-3.4 3.4l-3.4 -3.4zM1469.8 1281.8l3.4 3.4l-3.4 3.4l-3.4 -3.4zM1482.1 1282.7l3.4 3.4l-3.4 3.4l-3.4 -3.4z" stroke="#ff00ff" stroke-width="2.2"/>
<path d="M890.8 1291.4l0 -3.2M890.8 1291.4l-3.1 -1.3M890.8 1291.4l3.1 -1.3M890.8 1291.4l-1.8 3.1M890.8 1291.4l1.8 3.1M897 1295.1l0 -3.2M897 1295.1l-3.1 -1.3M897 1295.1l3.1 -1.3M897 1295.1l-1.8 3.1M897 1295.1l1.8 3.1M903.1 1298.6l0 -3.2M903.1 1298.6l-3.1 -1.3M903.1 1298.6l3.1 -1.3M903.1 1298.6l-1.8 3.1M903.1 1298.6l1.8 3.1M909.3 1302.1l0 -3.2M909.3 1302.1l-3.1 -1.3M909.3 1302.1l3.1 -1.3M909.3 1302.1l-1.8 3.1M909.3 1302.1l1.8 3.1M915.4 1305.5l0 -3.2M915.4 1305.5l-3.1 -1.3M915.4 1305.5l3.1 -1.3M915.4 1305.5l-1.8 3.1M915.4 1305.5l1.8 3.1M927.8 1311.7l0 -3.2M927.8 1311.7l-3.1 -1.3M927.8 1311.7l3.1 -1.3M927.8 1311.7l-1.8 3.1M927.8 1311.7l1.8 3.1M940.1 1316.7l0 -3.2M940.1 1316.7l-3.1 -1.3M940.1 1316.7l3.1 -1.3M940.1 1316.7l-1.8 3.1M940.1 1316.7l1.8 3.1M952.4 1320.7l0 -3.2M952.4 1320.7l-3.1 -1.3M952.4 1320.7l3.1 -1.3M952.4 1320.7l-1.8 3.1M952.4 1320.7l1.8 3.1M964.7 1324.2l0 -3.2M964.7 1324.2l-3.1 -1.3M964.7 1324.2l3.1 -1.3M964.7 1324.2l-1.8 3.1M964.7 1324.2l1.8 3.1M977 1327.4l0 -3.2M977 1327.4l-3.1 -1.3M977 1327.4l3.1 -1.3M977 1327.4l-1.8 3.1M977 1327.4l1.8 3.1M989.3 1330.1l0 -3.2M989.3 1330.1l-3.1 -1.3M989.3 1330.1l3.1 -1.3M989.3 1330.1l-1.8 3.1M989.3 1330.1l1.8 3.1M1001.7 1332.4l0 -3.2M1001.7 1332.4l-3.1 -1.3M1001.7 1332.4l3.1 -1.3M1001.7 1332.4l-1.8 3.1M1001.7 1332.4l1.8 3.1M1014 1334.6l0 -3.2M1014 1334.6l-3.1 -1.3M1014 1334.6l3.1 -1.3M1014 1334.6l-1.8 3.1M1014 1334.6l1.8 3.1M1026.3 1336.7l0 -3.2M1026.3 1336.7l-3.1 -1.3M1026.3 1336.7l3.1 -1.3M1026.3 1336.7l-1.8 3.1M1026.3 1336.7l1.8 3.1M1038.6 1338.7l0 -3.2M1038.6 1338.7l-3.1 -1.3M1038.6 1338.7l3.1 -1.3M1038.6 1338.7l-1.8 3.1M1038.6 1338.7l1.8 3.1M1050.9 1340.4l0 -3.2M1050.9 1340.4l-3.1 -1.3M1050.9 1340.4l3.1 -1.3M1050.9 1340.4l-1.8 3.1M1050.9 1340.4l1.8 3.1M1063.3 1341.7l0 -3.2M1063.3 1341.7l-3.1 -1.3M1063.3 1341.7l3.1 -1.3M1063.3 1341.7l-1.8 3.1M1063.3 1341.7l1.8 3.1M1075.6 1342.6l0 -3.2M1075.6 1342.6l-3.1 -1.3M1075.6 1342.6l3.1 -1.3M1075.6 1342.6l-1.8 3.1M1075.6 1342.6l1.8 3.1M1087.9 1343.4l0 -3.2M1087.9 1343.4l-3.1 -1.3M1087.9 1343.4l3.1 -1.3M1087.9 1343.4l-1.8 3.1M1087.9 1343.4l1.8 3.1M1100.2 1344.1l0 -3.2M1100.2 1344.1l-3.1 -1.3M1100.2 1344.1l3.1 -1.3M1100.2 1344.1l-1.8 3.1M1100.2 1344.1l1.8 3.1M1112.5 1344.8l0 -3.2M1112.5 1344.8l-3.1 -1.3M1112.5 1344.8l3.1 -1.3M1112.5 1344.8l-1.8 3.1M1112.5 1344.8l1.8 3.1M1124.9 1345.5l0 -3.2M1124.9 1345.5l-3.1 -1.3M1124.9 1345.5l3.1 -1.3M1124.9 1345.5l-1.8 3.1M1124.9 1345.5l1.8 3.1M1137.2 1346.1l0 -3.2M1137.2 1346.1l-3.1 -1.3M1137.2 1346.1l3.1 -1.3M1137.2 1346.1l-1.8 3.1M1137.2 1346.1l1.8 3.1M1149.5 1346.6l0 -3.2M1149.5 1346.6l-3.1 -1.3M1149.5 1346.6l3.1 -1.3M1149.5 1346.6l-1.8 3.1M1149.5 1346.6l1.8 3.1M1161.8 1347.1l0 -3.2M1161.8 1347.1l-3.1 -1.3M1161.8 1347.1l3.1 -1.3M1161.8 1347.1l-1.8 3.1M1161.8 1347.1l1.8 3.1M1174.1 1347.6l0 -3.2M1174.1 1347.6l-3.1 -1.3M1174.1 1347.6l3.1 -1.3M1174.1 1347.6l-1.8 3.1M1174.1 1347.6l1.8 3.1M1186.5 1348l0 -3.2M1186.5 1348l-3.1 -1.3M1186.5 1348l3.1 -1.3M1186.5 1348l-1.8 3.1M1186.5 1348l1.8 3.1M1198.8 1348.4l0 -3.2M1198.8 1348.4l-3.1 -1.3M1198.8 1348.4l3.1 -1.3M1198.8 1348.4l-1.8 3.1M1198.8 1348.4l1.8 3.1M1211.1 1348.8l0 -3.2M1211.1 1348.8l-3.1 -1.3M1211.1 1348.8l3.1 -1.3M1211.1 1348.8l-1.8 3.1M1211.1 1348.8l1.8 3.1M1223.4 1349.1l0 -3.2M1223.4 1349.1l-3.1 -1.3M1223.4 1349.1l3.1 -1.3M1223.4 1349.1l-1.8 3.1M1223.4 1349.1l1.8 3.1M1235.7 1349.5l0 -3.2M1235.7 1349.5l-3.1 -1.3M1235.7 1349.5l3.1 -1.3M1235.7 1349.5l-1.8 3.1M1235.7 1349.5l1.8 3.1M1248 1349.7l0 -3.2M1248 1349.7l-3.1 -1.3M1248 1349.7l3.1 -1.3M1248 1349.7l-1.8 3.1M1248 1349.7l1.8 3.1M1260.4 1350l0 -3.2M1260.4 1350l-3.1 -1.3M1260.4 1350l3.1 -1.3M1260.4 1350l-1.8 3.1M1260.4 1350l1.8 3.1M1272.7 1350.2l0 -3.2M1272.7 1350.2l-3.1 -1.3M1272.7 1350.2l3.1 -1.3M1272.7 1350.2l-1.8 3.1M1272.7 1350.2l1.8 3.1M1285 1350.4l0 -3.2M1285 1350.4l-3.1 -1.3M1285 1350.4l3.1 -1.3M1285 1350.4l-1.8 3.1M1285 1350.4l1.8 3.1M1297.3 1350.6l0 -3.2M1297.3 1350.6l-3.1 -1.3M1297.3 1350.6l3.1 -1.3M1297.3 1350.6l-1.8 3.1M1297.3 1350.6l1.8 3.1M1309.6 1350.8l0 -3.2M1309.6 1350.8l-3.1 -1.3M1309.6 1350.8l3.1 -1.3M1309.6 1350.8l-1.8 3.1M1309.6 1350.8l1.8 3.1M1322 1350.9l0 -3.2M1322 1350.9l-3.1 -1.3M1322 1350.9l3.1 -1.3M1322 1350.9l-1.8 3.1M1322 1350.9l1.8 3.1M1334.3 1351.1l0 -3.2M1334.3 1351.1l-3.1 -1.3M1334.3 1351.1l3.1 -1.3M1334.3 1351.1l-1.8 3.1M1334.3 1351.1l1.8 3.1M1346.6 1351.2l0 -3.2M1346.6 1351.2l-3.1 -1.3M1346.6 1351.2l3.1 -1.3M1346.6 1351.2l-1.8 3.1M1346.6 1351.2l1.8 3.1M1358.9 1351.3l0 -3.2M1358.9 1351.3l-3.1 -1.3M1358.9 1351.3l3.1 -1.3M1358.9 1351.3l-1.8 3.1M1358.9 1351.3l1.8 3.1M1371.2 1351.4l0 -3.2M1371.2 1351.4l-3.1 -1.3M1371.2 1351.4l3.1 -1.3M1371.2 1351.4l-1.8 3.1M1371.2 1351.4l1.8 3.1M1383.5 1351.5l0 -3.2M1383.5 1351.5l-3.1 -1.3M1383.5 1351.5l3.1 -1.3M1383.5 1351.5l-1.8 3.1M1383.5 1351.5l1.8 3.1M1395.9 1351.6l0 -3.2M1395.9 1351.6l-3.1 -1.3M1395.9 1351.6l3.1 -1.3M1395.9 1351.6l-1.8 3.1M1395.9 1351.6l1.8 3.1M1408.2 1351.7l0 -3.2M1408.2 1351.7l-3.1 -1.3M1408.2 1351.7l3.1 -1.3M1408.2 1351.7l-1.8 3.1M1408.2 1351.7l1.8 3.1M1420.5 1351.8l0 -3.2M1420.5 1351.8l-3.1 -1.3M1420.5 1351.8l3.1 -1.3M1420.5 1351.8l-1.8 3.1M1420.5 1351.8l1.8 3.1M1432.8 1351.9l0 -3.2M1432.8 1351.9l-3.1 -1.3M1432.8 1351.9l3.1 -1.3M1432.8 1351.9l-1.8 3.1M1432.8 1351.9l1.8 3.1M1445.1 1352l0 -3.2M1445.1 1352l-3.1 -1.3M1445.1 1352l3.1 -1.3M1445.1 1352l-1.8 3.1M1445.1 1352l1.8 3.1M1457.5 1352l0 -3.2M1457.5 1352l-3.1 -1.3M1457.5 1352l3.1 -1.3M1457.5 1352l-1.8 3.1M1457.5 1352l1.8 3.1M1469.8 1352.1l0 -3.2M1469.8 1352.1l-3.1 -1.3M1469.8 1352.1l3.1 -1.3M1469.8 1352.1l-1.8 3.1M1469.8 1352.1l1.8 3.1M1482.1 1352.1l0 -3.2M1482.1 1352.1l-3.1 -1.3M1482.1 1352.1l3.1 -1.3M1482.1 1352.1l-1.8 3.1M1482.1 1352.1l1.8 3.1" stroke="#000000" stroke-width="2.2" stroke-linecap="round"/>
<path d="M886.2 1164.7h9.2M890.8 1160.1v9.2M892.4 1172.7h9.2M897 1168.1v9.2M898.5 1180.3h9.2M903.1 1175.7v9.2M904.7 1187.4h9.2M909.3 1182.8v9.2M910.8 1194.1h9.2M915.4 1189.5v9.2M923.2 1206.3h9.2M927.8 1201.7v9.2M935.5 1217.2h9.2M940.1 1212.6v9.2M947.8 1227h9.2M952.4 1222.4v9.2M960.1 1235.8h9.2M964.7 1231.2v9.2M972.4 1243.7h9.2M977 1239.1v9.2M984.7 1250.8h9.2M989.3 1246.2v9.2M997.1 1257.2h9.2M1001.7 1252.6v9.2M1009.4 1263.1h9.2M1014 1258.5v9.2M1021.7 1268.4h9.2M1026.3 1263.8v9.2M1034 1273.3h9.2M1038.6 1268.7v9.2M1046.3 1277.7h9.2M1050.9 1273.1v9.2M1058.7 1281.7h9.2M1063.3 1277.1v9.2M1071 1285.4h9.2M1075.6 1280.8v9.2M1083.3 1288.8h9.2M1087.9 1284.2v9.2M1095.6 1292h9.2M1100.2 1287.4v9.2M1107.9 1294.9h9.2M1112.5 1290.3v9.2M1120.3 1297.5h9.2M1124.9 1292.9v9.2M1132.6 1300h9.2M1137.2 1295.4v9.2M1144.9 1302.3h9.2M1149.5 1297.7v9.2M1157.2 1304.4h9.2M1161.8 1299.8v9.2M1169.5 1306.4h9.2M1174.1 1301.8v9.2M1181.9 1308.2h9.2M1186.5 1303.6v9.2M1194.2 1309.9h9.2M1198.8 1305.3v9.2M1206.5 1311.5h9.2M1211.1 1306.9v9.2M1218.8 1313h9.2M1223.4 1308.4v9.2M1231.1 1314.3h9.2M1235.7 1309.7v9.2M1243.4 1315.6h9.2M1248 1311v9.2M1255.8 1316.8h9.2M1260.4 1312.2v9.2M1268.1 1318h9.2M1272.7 1313.4v9.2M1280.4 1319.1h9.2M1285 1314.5v9.2M1292.7 1320.1h9.2M1297.3 1315.5v9.2M1305 1321h9.2M1309.6 1316.4v9.2M1317.4 1321.9h9.2M1322 1317.3v9.2M1329.7 1322.7h9.2M1334.3 1318.1v9.2M1342 1323.5h9.2M1346.6 1318.9v9.2M1354.3 1324.3h9.2M1358.9 1319.7v9.2M1366.6 1325h9.2M1371.2 1320.4v9.2M1379 1325.6h9.2M1383.5 1321v9.2M1391.3 1326.2h9.2M1395.9 1321.6v9.2M1403.6 1326.8h9.2M1408.2 1322.2v9.2M1415.9 1327.4h9.2M1420.5 1322.8v9.2M1428.2 1327.9h9.2M1432.8 1323.3v9.2M1440.5 1328.4h9.2M1445.1 1323.8v9.2M1452.9 1328.9h9.2M1457.5 1324.3v9.2M1465.2 1329.4h9.2M1469.8 1324.8v9.2M1477.5 1329.8h9.2M1482.1 1325.2v9.2" stroke="#ff0000" stroke-width="2.1"/>
<path d="M886.5 1418.8a3.45 3.45 0 1 0 6.9 0a3.45 3.45 0 1 0 -6.9 0M898.9 1418.7a3.45 3.45 0 1 0 6.9 0a3.45 3.45 0 1 0 -6.9 0M911.2 1417.1a3.45 3.45 0 1 0 6.9 0a3.45 3.45 0 1 0 -6.9 0M923.5 1415.4a3.45 3.45 0 1 0 6.9 0a3.45 3.45 0 1 0 -6.9 0M935.8 1413.8a3.45 3.45 0 1 0 6.9 0a3.45 3.45 0 1 0 -6.9 0M948.1 1412a3.45 3.45 0 1 0 6.9 0a3.45 3.45 0 1 0 -6.9 0M960.5 1409.5a3.45 3.45 0 1 0 6.9 0a3.45 3.45 0 1 0 -6.9 0M972.8 1407.9a3.45 3.45 0 1 0 6.9 0a3.45 3.45 0 1 0 -6.9 0M985.1 1406.3a3.45 3.45 0 1 0 6.9 0a3.45 3.45 0 1 0 -6.9 0M997.4 1404.7a3.45 3.45 0 1 0 6.9 0a3.45 3.45 0 1 0 -6.9 0M1009.7 1402.6a3.45 3.45 0 1 0 6.9 0a3.45 3.45 0 1 0 -6.9 0M1022.1 1400.2a3.45 3.45 0 1 0 6.9 0a3.45 3.45 0 1 0 -6.9 0M1034.4 1398.9a3.45 3.45 0 1 0 6.9 0a3.45 3.45 0 1 0 -6.9 0M1046.7 1396.8a3.45 3.45 0 1 0 6.9 0a3.45 3.45 0 1 0 -6.9 0M1059 1395.9a3.45 3.45 0 1 0 6.9 0a3.45 3.45 0 1 0 -6.9 0M1071.3 1394.7a3.45 3.45 0 1 0 6.9 0a3.45 3.45 0 1 0 -6.9 0M1083.6 1393.4a3.45 3.45 0 1 0 6.9 0a3.45 3.45 0 1 0 -6.9 0M1096 1392.2a3.45 3.45 0 1 0 6.9 0a3.45 3.45 0 1 0 -6.9 0M1108.3 1390.5a3.45 3.45 0 1 0 6.9 0a3.45 3.45 0 1 0 -6.9 0M1120.6 1389.4a3.45 3.45 0 1 0 6.9 0a3.45 3.45 0 1 0 -6.9 0M1132.9 1388.1a3.45 3.45 0 1 0 6.9 0a3.45 3.45 0 1 0 -6.9 0M1145.2 1387a3.45 3.45 0 1 0 6.9 0a3.45 3.45 0 1 0 -6.9 0M1157.6 1386.4a3.45 3.45 0 1 0 6.9 0a3.45 3.45 0 1 0 -6.9 0M1169.9 1385.6a3.45 3.45 0 1 0 6.9 0a3.45 3.45 0 1 0 -6.9 0M1182.2 1384.3a3.45 3.45 0 1 0 6.9 0a3.45 3.45 0 1 0 -6.9 0M1194.5 1383.2a3.45 3.45 0 1 0 6.9 0a3.45 3.45 0 1 0 -6.9 0M1206.8 1382.6a3.45 3.45 0 1 0 6.9 0a3.45 3.45 0 1 0 -6.9 0M1219.2 1381.6a3.45 3.45 0 1 0 6.9 0a3.45 3.45 0 1 0 -6.9 0M1231.5 1380.9a3.45 3.45 0 1 0 6.9 0a3.45 3.45 0 1 0 -6.9 0M1243.8 1380.4a3.45 3.45 0 1 0 6.9 0a3.45 3.45 0 1 0 -6.9 0M1256.1 1379.8a3.45 3.45 0 1 0 6.9 0a3.45 3.45 0 1 0 -6.9 0M1268.4 1379.3a3.45 3.45 0 1 0 6.9 0a3.45 3.45 0 1 0 -6.9 0M1280.8 1378.3a3.45 3.45 0 1 0 6.9 0a3.45 3.45 0 1 0 -6.9 0M1293.1 1377.3a3.45 3.45 0 1 0 6.9 0a3.45 3.45 0 1 0 -6.9 0M1305.4 1377.1a3.45 3.45 0 1 0 6.9 0a3.45 3.45 0 1 0 -6.9 0M1317.7 1376.9a3.45 3.45 0 1 0 6.9 0a3.45 3.45 0 1 0 -6.9 0M1330 1376.5a3.45 3.45 0 1 0 6.9 0a3.45 3.45 0 1 0 -6.9 0M1342.3 1376a3.45 3.45 0 1 0 6.9 0a3.45 3.45 0 1 0 -6.9 0M1354.7 1375.5a3.45 3.45 0 1 0 6.9 0a3.45 3.45 0 1 0 -6.9 0M1367 1374.9a3.45 3.45 0 1 0 6.9 0a3.45 3.45 0 1 0 -6.9 0M1379.3 1374.7a3.45 3.45 0 1 0 6.9 0a3.45 3.45 0 1 0 -6.9 0M1391.6 1374.4a3.45 3.45 0 1 0 6.9 0a3.45 3.45 0 1 0 -6.9 0M1403.9 1374.6a3.45 3.45 0 1 0 6.9 0a3.45 3.45 0 1 0 -6.9 0M1416.3 1374.2a3.45 3.45 0 1 0 6.9 0a3.45 3.45 0 1 0 -6.9 0M1428.6 1373.8a3.45 3.45 0 1 0 6.9 0a3.45 3.45 0 1 0 -6.9 0M1440.9 1373.8a3.45 3.45 0 1 0 6.9 0a3.45 3.45 0 1 0 -6.9 0M1453.2 1373.2a3.45 3.45 0 1 0 6.9 0a3.45 3.45 0 1 0 -6.9 0M1465.5 1373.1a3.45 3.45 0 1 0 6.9 0a3.45 3.45 0 1 0 -6.9 0M1477.8 1373a3.45 3.45 0 1 0 6.9 0a3.45 3.45 0 1 0 -6.9 0" stroke="#0000ff" stroke-width="2.15"/>
<path d="M890 1290.4L892 1291.6L894 1292.8L895.9 1293.9L897.9 1295.1L899.9 1296.2L901.9 1297.4L903.8 1298.5L905.8 1299.6L907.8 1300.7L909.8 1301.8L911.8 1302.9L913.7 1304L915.7 1305L917.7 1306.1L919.7 1307.1L921.6 1308.1L923.6 1309.1L925.6 1310L927.6 1310.9L929.6 1311.8L931.5 1312.7L933.5 1313.5L935.5 1314.2L937.5 1315L939.4 1315.7L941.4 1316.4L943.4 1317.1L945.4 1317.8L947.4 1318.4L949.3 1319L951.3 1319.6L953.3 1320.2L955.3 1320.8L957.2 1321.3L959.2 1321.9L961.2 1322.4L963.2 1323L965.1 1323.5L967.1 1324L969.1 1324.6L971.1 1325.1L973.1 1325.6L975 1326.1L977 1326.6L979 1327L981 1327.5L982.9 1327.9L984.9 1328.4L986.9 1328.8L988.9 1329.2L990.9 1329.5L992.8 1329.9L994.8 1330.3L996.8 1330.6L998.8 1331L1000.7 1331.3L1002.7 1331.7L1004.7 1332.1L1006.7 1332.5L1008.7 1332.8L1010.6 1333.2L1012.6 1333.5L1014.6 1333.8L1016.6 1334.2L1018.5 1334.5L1020.5 1334.8L1022.5 1335.2L1024.5 1335.5L1026.5 1335.9L1028.4 1336.2L1030.4 1336.5L1032.4 1336.8L1034.4 1337.1L1036.3 1337.5L1038.3 1337.8L1040.3 1338.1L1042.3 1338.3L1044.3 1338.6L1046.2 1338.9L1048.2 1339.2L1050.2 1339.4L1052.2 1339.7L1054.1 1339.9L1056.1 1340.1L1058.1 1340.3L1060.1 1340.5L1062.1 1340.7L1064 1340.8L1066 1341L1068 1341.2L1070 1341.3L1071.9 1341.4L1073.9 1341.6L1075.9 1341.7L1077.9 1341.8L1079.8 1341.9L1081.8 1342L1083.8 1342.2L1085.8 1342.3L1087.8 1342.4L1089.7 1342.5L1091.7 1342.6L1093.7 1342.8L1095.7 1342.9L1097.6 1343L1099.6 1343.1L1101.6 1343.2L1103.6 1343.4L1105.6 1343.5L1107.5 1343.6L1109.5 1343.7L1111.5 1343.8L1113.5 1343.9L1115.4 1344L1117.4 1344.1L1119.4 1344.3L1121.4 1344.4L1123.4 1344.5L1125.3 1344.6L1127.3 1344.7L1129.3 1344.8L1131.3 1344.9L1133.2 1345L1135.2 1345L1137.2 1345.1L1139.2 1345.2L1141.2 1345.3L1143.1 1345.4L1145.1 1345.5L1147.1 1345.6L1149.1 1345.6L1151 1345.7L1153 1345.8L1155 1345.9L1157 1346L1159 1346L1160.9 1346.1L1162.9 1346.2L1164.9 1346.3L1166.9 1346.3L1168.8 1346.4L1170.8 1346.5L1172.8 1346.6L1174.8 1346.6L1176.8 1346.7L1178.7 1346.8L1180.7 1346.8L1182.7 1346.9L1184.7 1347L1186.6 1347L1188.6 1347.1L1190.6 1347.2L1192.6 1347.2L1194.5 1347.3L1196.5 1347.4L1198.5 1347.4L1200.5 1347.5L1202.5 1347.6L1204.4 1347.6L1206.4 1347.7L1208.4 1347.7L1210.4 1347.8L1212.3 1347.9L1214.3 1347.9L1216.3 1348L1218.3 1348L1220.3 1348.1L1222.2 1348.1L1224.2 1348.2L1226.2 1348.2L1228.2 1348.3L1230.1 1348.3L1232.1 1348.4L1234.1 1348.4L1236.1 1348.5L1238.1 1348.5L1240 1348.6L1242 1348.6L1244 1348.7L1246 1348.7L1247.9 1348.7L1249.9 1348.8L1251.9 1348.8L1253.9 1348.9L1255.9 1348.9L1257.8 1349L1259.8 1349L1261.8 1349L1263.8 1349.1L1265.7 1349.1L1267.7 1349.1L1269.7 1349.2L1271.7 1349.2L1273.7 1349.2L1275.6 1349.3L1277.6 1349.3L1279.6 1349.3L1281.6 1349.4L1283.5 1349.4L1285.5 1349.4L1287.5 1349.5L1289.5 1349.5L1291.5 1349.5L1293.4 1349.6L1295.4 1349.6L1297.4 1349.6L1299.4 1349.6L1301.3 1349.7L1303.3 1349.7L1305.3 1349.7L1307.3 1349.7L1309.2 1349.8L1311.2 1349.8L1313.2 1349.8L1315.2 1349.8L1317.2 1349.9L1319.1 1349.9L1321.1 1349.9L1323.1 1349.9L1325.1 1350L1327 1350L1329 1350L1331 1350L1333 1350L1335 1350.1L1336.9 1350.1L1338.9 1350.1L1340.9 1350.1L1342.9 1350.2L1344.8 1350.2L1346.8 1350.2L1348.8 1350.2L1350.8 1350.2L1352.8 1350.3L1354.7 1350.3L1356.7 1350.3L1358.7 1350.3L1360.7 1350.3L1362.6 1350.4L1364.6 1350.4L1366.6 1350.4L1368.6 1350.4L1370.6 1350.4L1372.5 1350.5L1374.5 1350.5L1376.5 1350.5L1378.5 1350.5L1380.4 1350.5L1382.4 1350.5L1384.4 1350.6L1386.4 1350.6L1388.4 1350.6L1390.3 1350.6L1392.3 1350.6L1394.3 1350.6L1396.3 1350.6L1398.2 1350.7L1400.2 1350.7L1402.2 1350.7L1404.2 1350.7L1406.2 1350.7L1408.1 1350.7L1410.1 1350.7L1412.1 1350.8L1414.1 1350.8L1416 1350.8L1418 1350.8L1420 1350.8L1422 1350.8L1423.9 1350.8L1425.9 1350.9L1427.9 1350.9L1429.9 1350.9L1431.9 1350.9L1433.8 1350.9L1435.8 1350.9L1437.8 1350.9L1439.8 1350.9L1441.7 1350.9L1443.7 1351L1445.7 1351L1447.7 1351L1449.7 1351L1451.6 1351L1453.6 1351L1455.6 1351L1457.6 1351L1459.5 1351L1461.5 1351L1463.5 1351.1L1465.5 1351.1L1467.5 1351.1L1469.4 1351.1L1471.4 1351.1L1473.4 1351.1L1475.4 1351.1L1477.3 1351.1L1479.3 1351.1L1481.3 1351.1" stroke="#00ff00" stroke-width="2.3" stroke-linejoin="round"/>
<rect x="885.2" y="904" width="601.7" height="518.6" stroke="#000" stroke-width="2.1"/>
<path d="M890 1422.6v10M1087.1 1422.6v10M1284.2 1422.6v10M1481.3 1422.6v10M988.5 1422.6v5.2M1185.7 1422.6v5.2M1382.8 1422.6v5.2M885.2 917.5h-10M885.2 988h-10M885.2 1058.6h-10M885.2 1129.1h-10M885.2 1199.7h-10M885.2 1270.2h-10M885.2 1340.8h-10M885.2 1411.3h-10M885.2 952.8h-5.2M885.2 1023.3h-5.2M885.2 1093.9h-5.2M885.2 1164.4h-5.2M885.2 1235h-5.2M885.2 1305.5h-5.2M885.2 1376.1h-5.2" stroke="#000" stroke-width="1.8"/>
</g>
<g class="tk" transform="scale(1,1.04)">
<text x="890" y="1400.19" text-anchor="middle">2</text>
<text x="1087.1" y="1400.19" text-anchor="middle">3</text>
<text x="1284.2" y="1400.19" text-anchor="middle">4</text>
<text x="1481.3" y="1400.19" text-anchor="middle">5</text>
<text x="873.4" y="890.1" text-anchor="end">0.6</text>
<text x="873.4" y="957.93" text-anchor="end">0.5</text>
<text x="873.4" y="1025.77" text-anchor="end">0.4</text>
<text x="873.4" y="1093.61" text-anchor="end">0.3</text>
<text x="873.4" y="1161.44" text-anchor="end">0.2</text>
<text x="873.4" y="1229.28" text-anchor="end">0.1</text>
<text x="873.4" y="1297.12" text-anchor="end">0</text>
<text x="873.4" y="1364.95" text-anchor="end">−0.1</text>
</g>
<text class="ax" x="1186" y="1478.3" text-anchor="middle">r</text>
<rect x="881.7" y="1481" width="531.8" height="88.9" fill="#fff" stroke="#000" stroke-width="1.7"/>
<g fill="none">
<path d="M887.7 1503.2H947.8" stroke="#ffff00" stroke-width="2.3"/>
<path d="M1128.5 1500.5l3.4 3.4l-3.4 3.4l-3.4 -3.4z" stroke="#ff00ff" stroke-width="2.2"/>
<path d="M1295.7 1504.2l0 -3.2M1295.7 1504.2l-3.1 -1.3M1295.7 1504.2l3.1 -1.3M1295.7 1504.2l-1.8 3.1M1295.7 1504.2l1.8 3.1" stroke="#000000" stroke-width="2.2" stroke-linecap="round"/>
<path d="M914.3 1545.6h9.2M918.9 1541v9.2" stroke="#ff0000" stroke-width="2.1"/>
<path d="M1123.8 1544.9a3.45 3.45 0 1 0 6.9 0a3.45 3.45 0 1 0 -6.9 0" stroke="#0000ff" stroke-width="2.15"/>
<path d="M1264.9 1544.8H1324.4" stroke="#00ff00" stroke-width="2.3"/>
</g>
<text class="lg"><tspan class="rho" x="955.2" y="1516.5">ρ</tspan><tspan class="rho" x="1164.9" y="1512.4">ρ</tspan><tspan class="pl" x="1185.4" y="1513.8">+</tspan><tspan class="it" x="1207.4" y="1511.8">p</tspan><tspan class="sub" x="1221.9" y="1522.4">r</tspan><tspan class="rho" x="1332.4" y="1512.4">ρ</tspan><tspan class="pl" x="1352.9" y="1513.8">+</tspan><tspan class="it" x="1374.9" y="1511.8">p</tspan><tspan class="sub" x="1388.7" y="1522.4">t</tspan><tspan class="rho" x="955.2" y="1554.7">ρ</tspan><tspan class="pl" x="975.5" y="1556.1">+</tspan><tspan class="it" x="996.9" y="1554.1">p</tspan><tspan class="sub" x="1010.8" y="1564.7">r</tspan><tspan class="pl" x="1026.4" y="1556.1">+</tspan><tspan x="1047.6" y="1554.1">2</tspan><tspan class="it" x="1060.3" y="1554.1">p</tspan><tspan class="sub" x="1075.2" y="1564.7">t</tspan><tspan class="rho" x="1164.8" y="1554.7">ρ</tspan><tspan x="1188.7" y="1554.1">−</tspan><tspan class="bar" x="1211.4" y="1558.3">|</tspan><tspan class="it" x="1220.3" y="1554.1">p</tspan><tspan class="sub" x="1233" y="1564.7">r</tspan><tspan class="bar" x="1241.4" y="1558.3">|</tspan><tspan x="1248.2" y="1554.1">.</tspan><tspan class="rho" x="1332.4" y="1554.7">ρ</tspan><tspan x="1352.1" y="1554.1">-</tspan><tspan class="bar" x="1369.3" y="1558.3">|</tspan><tspan class="it" x="1378.2" y="1554.1">p</tspan><tspan class="sub" x="1390.9" y="1564.7">r</tspan><tspan class="bar" x="1398.8" y="1558.3">|</tspan></text>
<g fill="none">
<path d="M75 2068.8L77 2072L79.1 2075.2L81.1 2078.3L83.1 2081.3L85.1 2084.3L87.2 2087.2L89.2 2090L91.2 2092.8L93.3 2095.5L95.3 2098.2L97.3 2100.9L99.4 2103.5L101.4 2106L103.4 2108.5L105.4 2111L107.5 2113.4L109.5 2115.7L111.5 2118L113.6 2120.3L115.6 2122.5L117.6 2124.7L119.7 2126.9L121.7 2129L123.7 2131.1L125.7 2133.1L127.8 2135.1L129.8 2137.1L131.8 2139L133.9 2140.9L135.9 2142.8L137.9 2144.6L140 2146.4L142 2148.2L144 2149.9L146 2151.6L148.1 2153.3L150.1 2155L152.1 2156.6L154.2 2158.2L156.2 2159.8L158.2 2161.3L160.3 2162.8L162.3 2164.3L164.3 2165.8L166.3 2167.3L168.4 2168.7L170.4 2170.1L172.4 2171.5L174.5 2172.8L176.5 2174.1L178.5 2175.5L180.5 2176.8L182.6 2178L184.6 2179.3L186.6 2180.5L188.7 2181.7L190.7 2182.9L192.7 2184.1L194.8 2185.3L196.8 2186.4L198.8 2187.5L200.8 2188.6L202.9 2189.7L204.9 2190.8L206.9 2191.8L209 2192.9L211 2193.9L213 2194.9L215.1 2195.9L217.1 2196.9L219.1 2197.9L221.1 2198.8L223.2 2199.7L225.2 2200.7L227.2 2201.6L229.3 2202.5L231.3 2203.4L233.3 2204.2L235.4 2205.1L237.4 2205.9L239.4 2206.8L241.4 2207.6L243.5 2208.4L245.5 2209.2L247.5 2210L249.6 2210.8L251.6 2211.5L253.6 2212.3L255.6 2213L257.7 2213.8L259.7 2214.5L261.7 2215.2L263.8 2215.9L265.8 2216.6L267.8 2217.3L269.9 2218L271.9 2218.6L273.9 2219.3L275.9 2220L278 2220.6L280 2221.2L282 2221.9L284.1 2222.5L286.1 2223.1L288.1 2223.7L290.2 2224.3L292.2 2224.9L294.2 2225.4L296.2 2226L298.3 2226.6L300.3 2227.1L302.3 2227.7L304.4 2228.2L306.4 2228.7L308.4 2229.3L310.5 2229.8L312.5 2230.3L314.5 2230.8L316.5 2231.3L318.6 2231.8L320.6 2232.3L322.6 2232.8L324.7 2233.3L326.7 2233.7L328.7 2234.2L330.8 2234.7L332.8 2235.1L334.8 2235.6L336.8 2236L338.9 2236.4L340.9 2236.9L342.9 2237.3L345 2237.7L347 2238.1L349 2238.6L351 2239L353.1 2239.4L355.1 2239.8L357.1 2240.2L359.2 2240.5L361.2 2240.9L363.2 2241.3L365.3 2241.7L367.3 2242.1L369.3 2242.4L371.3 2242.8L373.4 2243.1L375.4 2243.5L377.4 2243.8L379.5 2244.2L381.5 2244.5L383.5 2244.9L385.6 2245.2L387.6 2245.5L389.6 2245.9L391.6 2246.2L393.7 2246.5L395.7 2246.8L397.7 2247.1L399.8 2247.4L401.8 2247.7L403.8 2248L405.9 2248.3L407.9 2248.6L409.9 2248.9L411.9 2249.2L414 2249.5L416 2249.8L418 2250.1L420.1 2250.3L422.1 2250.6L424.1 2250.9L426.1 2251.2L428.2 2251.4L430.2 2251.7L432.2 2251.9L434.3 2252.2L436.3 2252.4L438.3 2252.7L440.4 2252.9L442.4 2253.2L444.4 2253.4L446.4 2253.7L448.5 2253.9L450.5 2254.2L452.5 2254.4L454.6 2254.6L456.6 2254.8L458.6 2255.1L460.7 2255.3L462.7 2255.5L464.7 2255.7L466.7 2256L468.8 2256.2L470.8 2256.4L472.8 2256.6L474.9 2256.8L476.9 2257L478.9 2257.2L481 2257.4L483 2257.6L485 2257.8L487 2258L489.1 2258.2L491.1 2258.4L493.1 2258.6L495.2 2258.8L497.2 2259L499.2 2259.1L501.3 2259.3L503.3 2259.5L505.3 2259.7L507.3 2259.9L509.4 2260L511.4 2260.2L513.4 2260.4L515.5 2260.6L517.5 2260.7L519.5 2260.9L521.5 2261.1L523.6 2261.2L525.6 2261.4L527.6 2261.6L529.7 2261.7L531.7 2261.9L533.7 2262L535.8 2262.2L537.8 2262.3L539.8 2262.5L541.8 2262.6L543.9 2262.8L545.9 2262.9L547.9 2263.1L550 2263.2L552 2263.4L554 2263.5L556.1 2263.7L558.1 2263.8L560.1 2263.9L562.1 2264.1L564.2 2264.2L566.2 2264.4L568.2 2264.5L570.3 2264.6L572.3 2264.8L574.3 2264.9L576.4 2265L578.4 2265.1L580.4 2265.3L582.4 2265.4L584.5 2265.5L586.5 2265.6L588.5 2265.8L590.6 2265.9L592.6 2266L594.6 2266.1L596.6 2266.2L598.7 2266.4L600.7 2266.5L602.7 2266.6L604.8 2266.7L606.8 2266.8L608.8 2266.9L610.9 2267.1L612.9 2267.2L614.9 2267.3L616.9 2267.4L619 2267.5L621 2267.6L623 2267.7L625.1 2267.8L627.1 2267.9L629.1 2268L631.2 2268.1L633.2 2268.2L635.2 2268.3L637.2 2268.4L639.3 2268.5L641.3 2268.6L643.3 2268.7L645.4 2268.8L647.4 2268.9L649.4 2269L651.5 2269.1L653.5 2269.2L655.5 2269.3L657.5 2269.4L659.6 2269.5L661.6 2269.6L663.6 2269.6L665.7 2269.7L667.7 2269.8L669.7 2269.9L671.8 2270L673.8 2270.1L675.8 2270.2L677.8 2270.2L679.9 2270.3L681.9 2270.4" stroke="#ffff00" stroke-width="2.3" stroke-linejoin="round"/>
<path d="M75.8 1812.3l3.4 3.4l-3.4 3.4l-3.4 -3.4zM88.4 1850.7l3.4 3.4l-3.4 3.4l-3.4 -3.4zM101.1 1885.2l3.4 3.4l-3.4 3.4l-3.4 -3.4zM113.7 1916.3l3.4 3.4l-3.4 3.4l-3.4 -3.4zM126.4 1944.4l3.4 3.4l-3.4 3.4l-3.4 -3.4zM139 1969.3l3.4 3.4l-3.4 3.4l-3.4 -3.4zM151.7 1992.5l3.4 3.4l-3.4 3.4l-3.4 -3.4zM164.3 2013.2l3.4 3.4l-3.4 3.4l-3.4 -3.4zM177 2032.4l3.4 3.4l-3.4 3.4l-3.4 -3.4zM189.6 2049.4l3.4 3.4l-3.4 3.4l-3.4 -3.4zM202.2 2065l3.4 3.4l-3.4 3.4l-3.4 -3.4zM214.9 2079.3l3.4 3.4l-3.4 3.4l-3.4 -3.4zM227.5 2092.4l3.4 3.4l-3.4 3.4l-3.4 -3.4zM240.2 2104.7l3.4 3.4l-3.4 3.4l-3.4 -3.4zM252.8 2115.8l3.4 3.4l-3.4 3.4l-3.4 -3.4zM265.5 2126.4l3.4 3.4l-3.4 3.4l-3.4 -3.4zM278.1 2135.3l3.4 3.4l-3.4 3.4l-3.4 -3.4zM290.7 2144.1l3.4 3.4l-3.4 3.4l-3.4 -3.4zM303.4 2152.4l3.4 3.4l-3.4 3.4l-3.4 -3.4zM316 2159.8l3.4 3.4l-3.4 3.4l-3.4 -3.4zM328.7 2166.6l3.4 3.4l-3.4 3.4l-3.4 -3.4zM341.3 2172.6l3.4 3.4l-3.4 3.4l-3.4 -3.4zM354 2178.5l3.4 3.4l-3.4 3.4l-3.4 -3.4zM366.6 2184.3l3.4 3.4l-3.4 3.4l-3.4 -3.4zM379.3 2189.3l3.4 3.4l-3.4 3.4l-3.4 -3.4zM391.9 2194.2l3.4 3.4l-3.4 3.4l-3.4 -3.4zM404.5 2198.4l3.4 3.4l-3.4 3.4l-3.4 -3.4zM417.2 2203.5l3.4 3.4l-3.4 3.4l-3.4 -3.4zM429.8 2206.8l3.4 3.4l-3.4 3.4l-3.4 -3.4zM442.5 2210.9l3.4 3.4l-3.4 3.4l-3.4 -3.4zM455.1 2214.3l3.4 3.4l-3.4 3.4l-3.4 -3.4zM467.8 2217.7l3.4 3.4l-3.4 3.4l-3.4 -3.4zM480.4 2220.9l3.4 3.4l-3.4 3.4l-3.4 -3.4zM493 2223.8l3.4 3.4l-3.4 3.4l-3.4 -3.4zM505.7 2226.4l3.4 3.4l-3.4 3.4l-3.4 -3.4zM518.3 2229.4l3.4 3.4l-3.4 3.4l-3.4 -3.4zM531 2231.5l3.4 3.4l-3.4 3.4l-3.4 -3.4zM543.6 2233.9l3.4 3.4l-3.4 3.4l-3.4 -3.4zM556.3 2235.9l3.4 3.4l-3.4 3.4l-3.4 -3.4zM568.9 2238l3.4 3.4l-3.4 3.4l-3.4 -3.4zM581.6 2240l3.4 3.4l-3.4 3.4l-3.4 -3.4zM594.2 2241.4l3.4 3.4l-3.4 3.4l-3.4 -3.4zM606.8 2243l3.4 3.4l-3.4 3.4l-3.4 -3.4zM619.5 2244.5l3.4 3.4l-3.4 3.4l-3.4 -3.4zM632.1 2246.4l3.4 3.4l-3.4 3.4l-3.4 -3.4zM644.8 2247.5l3.4 3.4l-3.4 3.4l-3.4 -3.4zM657.4 2249l3.4 3.4l-3.4 3.4l-3.4 -3.4zM670.1 2250l3.4 3.4l-3.4 3.4l-3.4 -3.4zM682.7 2251.5l3.4 3.4l-3.4 3.4l-3.4 -3.4z" stroke="#ff00ff" stroke-width="2.2"/>
<path d="M75.8 2194.9l0 -3.2M75.8 2194.9l-3.1 -1.3M75.8 2194.9l3.1 -1.3M75.8 2194.9l-1.8 3.1M75.8 2194.9l1.8 3.1M82.1 2199.7l0 -3.2M82.1 2199.7l-3.1 -1.3M82.1 2199.7l3.1 -1.3M82.1 2199.7l-1.8 3.1M82.1 2199.7l1.8 3.1M88.4 2204.3l0 -3.2M88.4 2204.3l-3.1 -1.3M88.4 2204.3l3.1 -1.3M88.4 2204.3l-1.8 3.1M88.4 2204.3l1.8 3.1M94.8 2208.6l0 -3.2M94.8 2208.6l-3.1 -1.3M94.8 2208.6l3.1 -1.3M94.8 2208.6l-1.8 3.1M94.8 2208.6l1.8 3.1M101.1 2212.6l0 -3.2M101.1 2212.6l-3.1 -1.3M101.1 2212.6l3.1 -1.3M101.1 2212.6l-1.8 3.1M101.1 2212.6l1.8 3.1M113.7 2220.3l0 -3.2M113.7 2220.3l-3.1 -1.3M113.7 2220.3l3.1 -1.3M113.7 2220.3l-1.8 3.1M113.7 2220.3l1.8 3.1M126.4 2226.9l0 -3.2M126.4 2226.9l-3.1 -1.3M126.4 2226.9l3.1 -1.3M126.4 2226.9l-1.8 3.1M126.4 2226.9l1.8 3.1M139 2232.5l0 -3.2M139 2232.5l-3.1 -1.3M139 2232.5l3.1 -1.3M139 2232.5l-1.8 3.1M139 2232.5l1.8 3.1M151.7 2237.3l0 -3.2M151.7 2237.3l-3.1 -1.3M151.7 2237.3l3.1 -1.3M151.7 2237.3l-1.8 3.1M151.7 2237.3l1.8 3.1M164.3 2241.6l0 -3.2M164.3 2241.6l-3.1 -1.3M164.3 2241.6l3.1 -1.3M164.3 2241.6l-1.8 3.1M164.3 2241.6l1.8 3.1M177 2245.3l0 -3.2M177 2245.3l-3.1 -1.3M177 2245.3l3.1 -1.3M177 2245.3l-1.8 3.1M177 2245.3l1.8 3.1M189.6 2248.5l0 -3.2M189.6 2248.5l-3.1 -1.3M189.6 2248.5l3.1 -1.3M189.6 2248.5l-1.8 3.1M189.6 2248.5l1.8 3.1M202.2 2250.8l0 -3.2M202.2 2250.8l-3.1 -1.3M202.2 2250.8l3.1 -1.3M202.2 2250.8l-1.8 3.1M202.2 2250.8l1.8 3.1M214.9 2253.3l0 -3.2M214.9 2253.3l-3.1 -1.3M214.9 2253.3l3.1 -1.3M214.9 2253.3l-1.8 3.1M214.9 2253.3l1.8 3.1M227.5 2255.8l0 -3.2M227.5 2255.8l-3.1 -1.3M227.5 2255.8l3.1 -1.3M227.5 2255.8l-1.8 3.1M227.5 2255.8l1.8 3.1M240.2 2257.9l0 -3.2M240.2 2257.9l-3.1 -1.3M240.2 2257.9l3.1 -1.3M240.2 2257.9l-1.8 3.1M240.2 2257.9l1.8 3.1M252.8 2259.9l0 -3.2M252.8 2259.9l-3.1 -1.3M252.8 2259.9l3.1 -1.3M252.8 2259.9l-1.8 3.1M252.8 2259.9l1.8 3.1M265.5 2261.8l0 -3.2M265.5 2261.8l-3.1 -1.3M265.5 2261.8l3.1 -1.3M265.5 2261.8l-1.8 3.1M265.5 2261.8l1.8 3.1M278.1 2263.6l0 -3.2M278.1 2263.6l-3.1 -1.3M278.1 2263.6l3.1 -1.3M278.1 2263.6l-1.8 3.1M278.1 2263.6l1.8 3.1M290.7 2265l0 -3.2M290.7 2265l-3.1 -1.3M290.7 2265l3.1 -1.3M290.7 2265l-1.8 3.1M290.7 2265l1.8 3.1M303.4 2266.3l0 -3.2M303.4 2266.3l-3.1 -1.3M303.4 2266.3l3.1 -1.3M303.4 2266.3l-1.8 3.1M303.4 2266.3l1.8 3.1M316 2267.6l0 -3.2M316 2267.6l-3.1 -1.3M316 2267.6l3.1 -1.3M316 2267.6l-1.8 3.1M316 2267.6l1.8 3.1M328.7 2268.7l0 -3.2M328.7 2268.7l-3.1 -1.3M328.7 2268.7l3.1 -1.3M328.7 2268.7l-1.8 3.1M328.7 2268.7l1.8 3.1M341.3 2269.5l0 -3.2M341.3 2269.5l-3.1 -1.3M341.3 2269.5l3.1 -1.3M341.3 2269.5l-1.8 3.1M341.3 2269.5l1.8 3.1M354 2270.3l0 -3.2M354 2270.3l-3.1 -1.3M354 2270.3l3.1 -1.3M354 2270.3l-1.8 3.1M354 2270.3l1.8 3.1M366.6 2271.1l0 -3.2M366.6 2271.1l-3.1 -1.3M366.6 2271.1l3.1 -1.3M366.6 2271.1l-1.8 3.1M366.6 2271.1l1.8 3.1M379.3 2271.8l0 -3.2M379.3 2271.8l-3.1 -1.3M379.3 2271.8l3.1 -1.3M379.3 2271.8l-1.8 3.1M379.3 2271.8l1.8 3.1M391.9 2272.3l0 -3.2M391.9 2272.3l-3.1 -1.3M391.9 2272.3l3.1 -1.3M391.9 2272.3l-1.8 3.1M391.9 2272.3l1.8 3.1M404.5 2272.8l0 -3.2M404.5 2272.8l-3.1 -1.3M404.5 2272.8l3.1 -1.3M404.5 2272.8l-1.8 3.1M404.5 2272.8l1.8 3.1M417.2 2273.3l0 -3.2M417.2 2273.3l-3.1 -1.3M417.2 2273.3l3.1 -1.3M417.2 2273.3l-1.8 3.1M417.2 2273.3l1.8 3.1M429.8 2273.7l0 -3.2M429.8 2273.7l-3.1 -1.3M429.8 2273.7l3.1 -1.3M429.8 2273.7l-1.8 3.1M429.8 2273.7l1.8 3.1M442.5 2274l0 -3.2M442.5 2274l-3.1 -1.3M442.5 2274l3.1 -1.3M442.5 2274l-1.8 3.1M442.5 2274l1.8 3.1M455.1 2274.3l0 -3.2M455.1 2274.3l-3.1 -1.3M455.1 2274.3l3.1 -1.3M455.1 2274.3l-1.8 3.1M455.1 2274.3l1.8 3.1M467.8 2274.5l0 -3.2M467.8 2274.5l-3.1 -1.3M467.8 2274.5l3.1 -1.3M467.8 2274.5l-1.8 3.1M467.8 2274.5l1.8 3.1M480.4 2274.7l0 -3.2M480.4 2274.7l-3.1 -1.3M480.4 2274.7l3.1 -1.3M480.4 2274.7l-1.8 3.1M480.4 2274.7l1.8 3.1M493 2275.3l0 -3.2M493 2275.3l-3.1 -1.3M493 2275.3l3.1 -1.3M493 2275.3l-1.8 3.1M493 2275.3l1.8 3.1M505.7 2275.8l0 -3.2M505.7 2275.8l-3.1 -1.3M505.7 2275.8l3.1 -1.3M505.7 2275.8l-1.8 3.1M505.7 2275.8l1.8 3.1M518.3 2276.1l0 -3.2M518.3 2276.1l-3.1 -1.3M518.3 2276.1l3.1 -1.3M518.3 2276.1l-1.8 3.1M518.3 2276.1l1.8 3.1M531 2276.4l0 -3.2M531 2276.4l-3.1 -1.3M531 2276.4l3.1 -1.3M531 2276.4l-1.8 3.1M531 2276.4l1.8 3.1M543.6 2276.6l0 -3.2M543.6 2276.6l-3.1 -1.3M543.6 2276.6l3.1 -1.3M543.6 2276.6l-1.8 3.1M543.6 2276.6l1.8 3.1M556.3 2276.8l0 -3.2M556.3 2276.8l-3.1 -1.3M556.3 2276.8l3.1 -1.3M556.3 2276.8l-1.8 3.1M556.3 2276.8l1.8 3.1M568.9 2277l0 -3.2M568.9 2277l-3.1 -1.3M568.9 2277l3.1 -1.3M568.9 2277l-1.8 3.1M568.9 2277l1.8 3.1M581.6 2277.2l0 -3.2M581.6 2277.2l-3.1 -1.3M581.6 2277.2l3.1 -1.3M581.6 2277.2l-1.8 3.1M581.6 2277.2l1.8 3.1M594.2 2277.4l0 -3.2M594.2 2277.4l-3.1 -1.3M594.2 2277.4l3.1 -1.3M594.2 2277.4l-1.8 3.1M594.2 2277.4l1.8 3.1M606.8 2277.5l0 -3.2M606.8 2277.5l-3.1 -1.3M606.8 2277.5l3.1 -1.3M606.8 2277.5l-1.8 3.1M606.8 2277.5l1.8 3.1M619.5 2277.7l0 -3.2M619.5 2277.7l-3.1 -1.3M619.5 2277.7l3.1 -1.3M619.5 2277.7l-1.8 3.1M619.5 2277.7l1.8 3.1M632.1 2277.8l0 -3.2M632.1 2277.8l-3.1 -1.3M632.1 2277.8l3.1 -1.3M632.1 2277.8l-1.8 3.1M632.1 2277.8l1.8 3.1M644.8 2277.9l0 -3.2M644.8 2277.9l-3.1 -1.3M644.8 2277.9l3.1 -1.3M644.8 2277.9l-1.8 3.1M644.8 2277.9l1.8 3.1M657.4 2278.1l0 -3.2M657.4 2278.1l-3.1 -1.3M657.4 2278.1l3.1 -1.3M657.4 2278.1l-1.8 3.1M657.4 2278.1l1.8 3.1M670.1 2278.2l0 -3.2M670.1 2278.2l-3.1 -1.3M670.1 2278.2l3.1 -1.3M670.1 2278.2l-1.8 3.1M670.1 2278.2l1.8 3.1M682.7 2278.2l0 -3.2M682.7 2278.2l-3.1 -1.3M682.7 2278.2l3.1 -1.3M682.7 2278.2l-1.8 3.1M682.7 2278.2l1.8 3.1" stroke="#000000" stroke-width="2.2" stroke-linecap="round"/>
<path d="M71.2 2069.1h9.2M75.8 2064.5v9.2M77.5 2078.9h9.2M82.1 2074.3v9.2M83.8 2088.1h9.2M88.4 2083.5v9.2M90.2 2096.8h9.2M94.8 2092.2v9.2M96.5 2104.9h9.2M101.1 2100.3v9.2M109.1 2119.9h9.2M113.7 2115.3v9.2M121.8 2133.2h9.2M126.4 2128.6v9.2M134.4 2145.2h9.2M139 2140.6v9.2M147.1 2155.9h9.2M151.7 2151.3v9.2M159.7 2165.5h9.2M164.3 2160.9v9.2M172.4 2174.2h9.2M177 2169.6v9.2M185 2182.1h9.2M189.6 2177.5v9.2M197.6 2189.2h9.2M202.2 2184.6v9.2M210.3 2195.7h9.2M214.9 2191.1v9.2M222.9 2201.7h9.2M227.5 2197.1v9.2M235.6 2207.1h9.2M240.2 2202.5v9.2M248.2 2212h9.2M252.8 2207.4v9.2M260.9 2216.5h9.2M265.5 2211.9v9.2M273.5 2220.7h9.2M278.1 2216.1v9.2M286.1 2224.5h9.2M290.7 2219.9v9.2M298.8 2228h9.2M303.4 2223.4v9.2M311.4 2231.3h9.2M316 2226.7v9.2M324.1 2234.3h9.2M328.7 2229.7v9.2M336.7 2237.1h9.2M341.3 2232.5v9.2M349.4 2239.7h9.2M354 2235.1v9.2M362 2242.1h9.2M366.6 2237.5v9.2M374.7 2244.3h9.2M379.3 2239.7v9.2M387.3 2246.4h9.2M391.9 2241.8v9.2M399.9 2248.3h9.2M404.5 2243.7v9.2M412.6 2250.1h9.2M417.2 2245.5v9.2M425.2 2251.8h9.2M429.8 2247.2v9.2M437.9 2253.4h9.2M442.5 2248.8v9.2M450.5 2254.9h9.2M455.1 2250.3v9.2M463.2 2256.3h9.2M467.8 2251.7v9.2M475.8 2257.6h9.2M480.4 2253v9.2M488.4 2258.8h9.2M493 2254.2v9.2M501.1 2260h9.2M505.7 2255.4v9.2M513.7 2261h9.2M518.3 2256.4v9.2M526.4 2262.1h9.2M531 2257.5v9.2M539 2263h9.2M543.6 2258.4v9.2M551.7 2263.9h9.2M556.3 2259.3v9.2M564.3 2264.8h9.2M568.9 2260.2v9.2M577 2265.6h9.2M581.6 2261v9.2M589.6 2266.4h9.2M594.2 2261.8v9.2M602.2 2267.1h9.2M606.8 2262.5v9.2M614.9 2267.8h9.2M619.5 2263.2v9.2M627.5 2268.4h9.2M632.1 2263.8v9.2M640.2 2269h9.2M644.8 2264.4v9.2M652.8 2269.6h9.2M657.4 2265v9.2M665.5 2270.2h9.2M670.1 2265.6v9.2M678.1 2270.7h9.2M682.7 2266.1v9.2" stroke="#ff0000" stroke-width="2.1"/>
<path d="M71.5 2321.1a3.45 3.45 0 1 0 6.9 0a3.45 3.45 0 1 0 -6.9 0M74.7 2321.1a3.45 3.45 0 1 0 6.9 0a3.45 3.45 0 1 0 -6.9 0M77.9 2321a3.45 3.45 0 1 0 6.9 0a3.45 3.45 0 1 0 -6.9 0M81 2320.9a3.45 3.45 0 1 0 6.9 0a3.45 3.45 0 1 0 -6.9 0M84.2 2320.9a3.45 3.45 0 1 0 6.9 0a3.45 3.45 0 1 0 -6.9 0M90.5 2320.6a3.45 3.45 0 1 0 6.9 0a3.45 3.45 0 1 0 -6.9 0M96.8 2320.3a3.45 3.45 0 1 0 6.9 0a3.45 3.45 0 1 0 -6.9 0M109.5 2319.6a3.45 3.45 0 1 0 6.9 0a3.45 3.45 0 1 0 -6.9 0M122.1 2318.6a3.45 3.45 0 1 0 6.9 0a3.45 3.45 0 1 0 -6.9 0M134.8 2317.4a3.45 3.45 0 1 0 6.9 0a3.45 3.45 0 1 0 -6.9 0M147.4 2316a3.45 3.45 0 1 0 6.9 0a3.45 3.45 0 1 0 -6.9 0M160.1 2314.4a3.45 3.45 0 1 0 6.9 0a3.45 3.45 0 1 0 -6.9 0M172.7 2312.9a3.45 3.45 0 1 0 6.9 0a3.45 3.45 0 1 0 -6.9 0M185.3 2311.5a3.45 3.45 0 1 0 6.9 0a3.45 3.45 0 1 0 -6.9 0M198 2310.3a3.45 3.45 0 1 0 6.9 0a3.45 3.45 0 1 0 -6.9 0M210.6 2308.9a3.45 3.45 0 1 0 6.9 0a3.45 3.45 0 1 0 -6.9 0M223.3 2307.3a3.45 3.45 0 1 0 6.9 0a3.45 3.45 0 1 0 -6.9 0M235.9 2305.9a3.45 3.45 0 1 0 6.9 0a3.45 3.45 0 1 0 -6.9 0M248.6 2304.6a3.45 3.45 0 1 0 6.9 0a3.45 3.45 0 1 0 -6.9 0M261.2 2303.5a3.45 3.45 0 1 0 6.9 0a3.45 3.45 0 1 0 -6.9 0M273.9 2302.2a3.45 3.45 0 1 0 6.9 0a3.45 3.45 0 1 0 -6.9 0M286.5 2301.1a3.45 3.45 0 1 0 6.9 0a3.45 3.45 0 1 0 -6.9 0M299.1 2299.9a3.45 3.45 0 1 0 6.9 0a3.45 3.45 0 1 0 -6.9 0M311.8 2299a3.45 3.45 0 1 0 6.9 0a3.45 3.45 0 1 0 -6.9 0M324.4 2298a3.45 3.45 0 1 0 6.9 0a3.45 3.45 0 1 0 -6.9 0M337.1 2297.2a3.45 3.45 0 1 0 6.9 0a3.45 3.45 0 1 0 -6.9 0M349.7 2296.4a3.45 3.45 0 1 0 6.9 0a3.45 3.45 0 1 0 -6.9 0M362.4 2295.5a3.45 3.45 0 1 0 6.9 0a3.45 3.45 0 1 0 -6.9 0M375 2294.7a3.45 3.45 0 1 0 6.9 0a3.45 3.45 0 1 0 -6.9 0M387.6 2293.9a3.45 3.45 0 1 0 6.9 0a3.45 3.45 0 1 0 -6.9 0M400.3 2293.3a3.45 3.45 0 1 0 6.9 0a3.45 3.45 0 1 0 -6.9 0M412.9 2292.6a3.45 3.45 0 1 0 6.9 0a3.45 3.45 0 1 0 -6.9 0M425.6 2292a3.45 3.45 0 1 0 6.9 0a3.45 3.45 0 1 0 -6.9 0M438.2 2291.6a3.45 3.45 0 1 0 6.9 0a3.45 3.45 0 1 0 -6.9 0M450.9 2291a3.45 3.45 0 1 0 6.9 0a3.45 3.45 0 1 0 -6.9 0M463.5 2290.6a3.45 3.45 0 1 0 6.9 0a3.45 3.45 0 1 0 -6.9 0M476.2 2290.2a3.45 3.45 0 1 0 6.9 0a3.45 3.45 0 1 0 -6.9 0M488.8 2289.6a3.45 3.45 0 1 0 6.9 0a3.45 3.45 0 1 0 -6.9 0M501.4 2288.9a3.45 3.45 0 1 0 6.9 0a3.45 3.45 0 1 0 -6.9 0M514.1 2288.4a3.45 3.45 0 1 0 6.9 0a3.45 3.45 0 1 0 -6.9 0M526.7 2288a3.45 3.45 0 1 0 6.9 0a3.45 3.45 0 1 0 -6.9 0M539.4 2287.6a3.45 3.45 0 1 0 6.9 0a3.45 3.45 0 1 0 -6.9 0M552 2287.2a3.45 3.45 0 1 0 6.9 0a3.45 3.45 0 1 0 -6.9 0M564.7 2286.9a3.45 3.45 0 1 0 6.9 0a3.45 3.45 0 1 0 -6.9 0M577.3 2286.5a3.45 3.45 0 1 0 6.9 0a3.45 3.45 0 1 0 -6.9 0M589.9 2286.2a3.45 3.45 0 1 0 6.9 0a3.45 3.45 0 1 0 -6.9 0M602.6 2286a3.45 3.45 0 1 0 6.9 0a3.45 3.45 0 1 0 -6.9 0M615.2 2285.7a3.45 3.45 0 1 0 6.9 0a3.45 3.45 0 1 0 -6.9 0M627.9 2285.4a3.45 3.45 0 1 0 6.9 0a3.45 3.45 0 1 0 -6.9 0M640.5 2285.2a3.45 3.45 0 1 0 6.9 0a3.45 3.45 0 1 0 -6.9 0M653.2 2285a3.45 3.45 0 1 0 6.9 0a3.45 3.45 0 1 0 -6.9 0M665.8 2284.7a3.45 3.45 0 1 0 6.9 0a3.45 3.45 0 1 0 -6.9 0M678.5 2284.5a3.45 3.45 0 1 0 6.9 0a3.45 3.45 0 1 0 -6.9 0" stroke="#0000ff" stroke-width="2.15"/>
<path d="M75 2193.9L77 2195.5L79.1 2197L81.1 2198.6L83.1 2200.1L85.1 2201.5L87.2 2203L89.2 2204.4L91.2 2205.8L93.3 2207.1L95.3 2208.5L97.3 2209.8L99.4 2211L101.4 2212.3L103.4 2213.6L105.4 2214.8L107.5 2216.1L109.5 2217.3L111.5 2218.5L113.6 2219.6L115.6 2220.7L117.6 2221.8L119.7 2222.9L121.7 2224L123.7 2225L125.7 2226L127.8 2226.9L129.8 2227.9L131.8 2228.8L133.9 2229.7L135.9 2230.6L137.9 2231.4L140 2232.2L142 2233L144 2233.8L146 2234.6L148.1 2235.3L150.1 2236.1L152.1 2236.8L154.2 2237.5L156.2 2238.2L158.2 2238.9L160.3 2239.5L162.3 2240.2L164.3 2240.8L166.3 2241.5L168.4 2242.1L170.4 2242.7L172.4 2243.3L174.5 2243.8L176.5 2244.4L178.5 2244.9L180.5 2245.5L182.6 2246L184.6 2246.5L186.6 2247L188.7 2247.4L190.7 2247.9L192.7 2248.2L194.8 2248.6L196.8 2249L198.8 2249.3L200.8 2249.7L202.9 2250L204.9 2250.4L206.9 2250.8L209 2251.3L211 2251.7L213 2252.1L215.1 2252.5L217.1 2252.9L219.1 2253.4L221.1 2253.8L223.2 2254.2L225.2 2254.5L227.2 2254.9L229.3 2255.3L231.3 2255.6L233.3 2256L235.4 2256.3L237.4 2256.6L239.4 2257L241.4 2257.3L243.5 2257.6L245.5 2257.9L247.5 2258.2L249.6 2258.5L251.6 2258.8L253.6 2259.1L255.6 2259.4L257.7 2259.8L259.7 2260.1L261.7 2260.4L263.8 2260.7L265.8 2261L267.8 2261.3L269.9 2261.6L271.9 2261.9L273.9 2262.1L275.9 2262.4L278 2262.7L280 2262.9L282 2263.2L284.1 2263.4L286.1 2263.6L288.1 2263.8L290.2 2264.1L292.2 2264.3L294.2 2264.5L296.2 2264.7L298.3 2264.9L300.3 2265.1L302.3 2265.3L304.4 2265.5L306.4 2265.7L308.4 2265.9L310.5 2266.1L312.5 2266.3L314.5 2266.5L316.5 2266.7L318.6 2266.9L320.6 2267.1L322.6 2267.3L324.7 2267.4L326.7 2267.6L328.7 2267.7L330.8 2267.9L332.8 2268L334.8 2268.2L336.8 2268.3L338.9 2268.4L340.9 2268.6L342.9 2268.7L345 2268.8L347 2268.9L349 2269.1L351 2269.2L353.1 2269.3L355.1 2269.4L357.1 2269.6L359.2 2269.7L361.2 2269.8L363.2 2269.9L365.3 2270.1L367.3 2270.2L369.3 2270.3L371.3 2270.4L373.4 2270.5L375.4 2270.6L377.4 2270.7L379.5 2270.8L381.5 2270.9L383.5 2271L385.6 2271.1L387.6 2271.2L389.6 2271.3L391.6 2271.4L393.7 2271.4L395.7 2271.5L397.7 2271.6L399.8 2271.7L401.8 2271.7L403.8 2271.8L405.9 2271.9L407.9 2272L409.9 2272L411.9 2272.1L414 2272.2L416 2272.2L418 2272.3L420.1 2272.4L422.1 2272.4L424.1 2272.5L426.1 2272.6L428.2 2272.6L430.2 2272.7L432.2 2272.7L434.3 2272.8L436.3 2272.9L438.3 2272.9L440.4 2273L442.4 2273L444.4 2273.1L446.4 2273.1L448.5 2273.1L450.5 2273.2L452.5 2273.2L454.6 2273.3L456.6 2273.3L458.6 2273.3L460.7 2273.4L462.7 2273.4L464.7 2273.4L466.7 2273.5L468.8 2273.5L470.8 2273.5L472.8 2273.6L474.9 2273.6L476.9 2273.6L478.9 2273.7L481 2273.7L483 2273.8L485 2273.9L487 2274L489.1 2274.1L491.1 2274.2L493.1 2274.3L495.2 2274.4L497.2 2274.5L499.2 2274.6L501.3 2274.7L503.3 2274.8L505.3 2274.8L507.3 2274.9L509.4 2274.9L511.4 2275L513.4 2275L515.5 2275.1L517.5 2275.1L519.5 2275.2L521.5 2275.2L523.6 2275.3L525.6 2275.3L527.6 2275.3L529.7 2275.4L531.7 2275.4L533.7 2275.4L535.8 2275.5L537.8 2275.5L539.8 2275.5L541.8 2275.6L543.9 2275.6L545.9 2275.6L547.9 2275.7L550 2275.7L552 2275.7L554 2275.8L556.1 2275.8L558.1 2275.8L560.1 2275.9L562.1 2275.9L564.2 2275.9L566.2 2276L568.2 2276L570.3 2276L572.3 2276.1L574.3 2276.1L576.4 2276.1L578.4 2276.2L580.4 2276.2L582.4 2276.2L584.5 2276.3L586.5 2276.3L588.5 2276.3L590.6 2276.3L592.6 2276.4L594.6 2276.4L596.6 2276.4L598.7 2276.5L600.7 2276.5L602.7 2276.5L604.8 2276.5L606.8 2276.5L608.8 2276.6L610.9 2276.6L612.9 2276.6L614.9 2276.6L616.9 2276.7L619 2276.7L621 2276.7L623 2276.7L625.1 2276.8L627.1 2276.8L629.1 2276.8L631.2 2276.8L633.2 2276.8L635.2 2276.9L637.2 2276.9L639.3 2276.9L641.3 2276.9L643.3 2276.9L645.4 2277L647.4 2277L649.4 2277L651.5 2277L653.5 2277L655.5 2277L657.5 2277.1L659.6 2277.1L661.6 2277.1L663.6 2277.1L665.7 2277.1L667.7 2277.1L669.7 2277.2L671.8 2277.2L673.8 2277.2L675.8 2277.2L677.8 2277.2L679.9 2277.2L681.9 2277.2" stroke="#00ff00" stroke-width="2.3" stroke-linejoin="round"/>
<rect x="69.9" y="1808.3" width="617.6" height="518" stroke="#000" stroke-width="2.1"/>
<path d="M75 2326.3v10M277.3 2326.3v10M479.6 2326.3v10M681.9 2326.3v10M176.2 2326.3v5.2M378.5 2326.3v5.2M580.8 2326.3v5.2M69.9 1853.4h-10M69.9 1939.6h-10M69.9 2025.7h-10M69.9 2111.9h-10M69.9 2198h-10M69.9 2284.2h-10M69.9 1896.5h-5.2M69.9 1982.7h-5.2M69.9 2068.8h-5.2M69.9 2155h-5.2M69.9 2241.1h-5.2" stroke="#000" stroke-width="1.8"/>
</g>
<g class="tk" transform="scale(1,1.04)">
<text x="75" y="2269.13" text-anchor="middle">2</text>
<text x="277.3" y="2269.13" text-anchor="middle">3</text>
<text x="479.6" y="2269.13" text-anchor="middle">4</text>
<text x="681.9" y="2269.13" text-anchor="middle">5</text>
<text x="58.1" y="1790.05" text-anchor="end">0.5</text>
<text x="58.1" y="1872.88" text-anchor="end">0.4</text>
<text x="58.1" y="1955.72" text-anchor="end">0.3</text>
<text x="58.1" y="2038.56" text-anchor="end">0.2</text>
<text x="58.1" y="2121.39" text-anchor="end">0.1</text>
<text x="58.1" y="2204.23" text-anchor="end">0</text>
</g>
<text class="ax" x="378.5" y="2383" text-anchor="middle">r</text>
<rect x="13" y="2385" width="669.3" height="88.9" fill="#fff" stroke="#000" stroke-width="1.7"/>
<g fill="none">
<path d="M19 2407.2H78.8" stroke="#ffff00" stroke-width="2.3"/>
<path d="M203.1 2404.5l3.4 3.4l-3.4 3.4l-3.4 -3.4z" stroke="#ff00ff" stroke-width="2.2"/>
<path d="M358.2 2408.4l0 -3.2M358.2 2408.4l-3.1 -1.3M358.2 2408.4l3.1 -1.3M358.2 2408.4l-1.8 3.1M358.2 2408.4l1.8 3.1" stroke="#000000" stroke-width="2.2" stroke-linecap="round"/>
<path d="M500.4 2408.1h9.2M505 2403.5v9.2" stroke="#ff0000" stroke-width="2.1"/>
<path d="M45.5 2448.7a3.45 3.45 0 1 0 6.9 0a3.45 3.45 0 1 0 -6.9 0" stroke="#0000ff" stroke-width="2.15"/>
<path d="M172.8 2448.7H232.3" stroke="#00ff00" stroke-width="2.3"/>
</g>
<text class="lg"><tspan class="rho" x="86.5" y="2420.5">ρ</tspan><tspan class="rho" x="240.5" y="2416.4">ρ</tspan><tspan class="pl" x="260.8" y="2417.8">+</tspan><tspan x="282.8" y="2415.8">p</tspan><tspan class="sub" x="295.3" y="2426.4">r</tspan><tspan class="rho" x="395.5" y="2416.4">ρ</tspan><tspan class="pl" x="415.9" y="2417.8">+</tspan><tspan class="it" x="437.9" y="2415.8">p</tspan><tspan class="sub" x="451.7" y="2426.4">t</tspan><tspan class="rho" x="542.4" y="2416.4">ρ</tspan><tspan class="pl" x="562.1" y="2417.8">+</tspan><tspan class="it" x="583.5" y="2415.8">p</tspan><tspan class="sub" x="597.1" y="2426.4">r</tspan><tspan class="pl" x="613" y="2417.8">+</tspan><tspan x="633.6" y="2415.8">2</tspan><tspan class="it" x="646.3" y="2415.8">p</tspan><tspan class="sub" x="661" y="2426.4">t</tspan><tspan x="86.9" y="2458.1">.</tspan><tspan class="rho" x="91.8" y="2458.7">ρ</tspan><tspan x="112.9" y="2458.1">-</tspan><tspan x="128.7" y="2458.1">|</tspan><tspan class="it" x="134.2" y="2458.1">p</tspan><tspan class="sub" x="147.9" y="2468.7">r</tspan><tspan x="157.5" y="2458.1">|</tspan><tspan class="rho" x="240.5" y="2458.7">ρ</tspan><tspan x="261.8" y="2458.1">-</tspan><tspan x="271.5" y="2458.1">|</tspan><tspan class="it" x="277.2" y="2458.1">p</tspan><tspan class="sub" x="290.6" y="2468.7">t</tspan><tspan x="296.3" y="2458.1">|</tspan></text>
<g fill="none">
<path d="M869.5 2137L870.7 2143.7L872 2150.1L873.2 2156.1L874.4 2161.8L875.6 2167.2L876.9 2172.5L878.1 2177.6L879.3 2182.5L880.5 2187.3L881.8 2191.9L883 2196.4L884.2 2200.9L885.5 2205.1L886.7 2209.3L887.9 2213.4L889.1 2217.4L890.4 2221.2L891.6 2224.8L892.8 2228.3L894 2231.7L895.3 2234.9L896.5 2238L897.7 2241L899 2243.8L900.2 2246.6L901.4 2249.2L902.6 2251.7L903.9 2254.1L905.1 2256.5L906.3 2258.8L907.6 2261L908.8 2263.1L910 2265.2L911.2 2267.1L912.5 2268.9L913.7 2270.7L914.9 2272.5L916.1 2274.2L917.4 2275.8L918.6 2277.3L919.8 2278.8L921.1 2280.2L922.3 2281.5L923.5 2282.8L924.7 2284L926 2285.2L927.2 2286.3L928.4 2287.4L929.6 2288.4L930.9 2289.4L932.1 2290.4L933.3 2291.4L934.6 2292.3L935.8 2293.2L937 2294.1L938.2 2295L939.5 2295.8L940.7 2296.6L941.9 2297.4L943.1 2298.1L944.4 2298.8L945.6 2299.5L946.8 2300.1L948.1 2300.7L949.3 2301.3L950.5 2301.9L951.7 2302.4L953 2303L954.2 2303.5L955.4 2304.1L956.6 2304.6L957.9 2305.1L959.1 2305.6L960.3 2306L961.6 2306.5L962.8 2306.9L964 2307.4L965.2 2307.8L966.5 2308.2L967.7 2308.6L968.9 2308.9L970.2 2309.3L971.4 2309.6L972.6 2310L973.8 2310.3L975.1 2310.6L976.3 2310.9L977.5 2311.1L978.7 2311.4L980 2311.7L981.2 2311.9L982.4 2312.2L983.7 2312.5L984.9 2312.7L986.1 2312.9L987.3 2313.2L988.6 2313.4L989.8 2313.6L991 2313.8L992.2 2314L993.5 2314.2L994.7 2314.4L995.9 2314.6L997.2 2314.8L998.4 2315L999.6 2315.2L1000.8 2315.3L1002.1 2315.5L1003.3 2315.7L1004.5 2315.8L1005.7 2316L1007 2316.2L1008.2 2316.3L1009.4 2316.5L1010.7 2316.6L1011.9 2316.7L1013.1 2316.9L1014.3 2317L1015.6 2317.1L1016.8 2317.2L1018 2317.3L1019.2 2317.4L1020.5 2317.5L1021.7 2317.6L1022.9 2317.7L1024.2 2317.8L1025.4 2317.9L1026.6 2317.9L1027.8 2318L1029.1 2318.1L1030.3 2318.2L1031.5 2318.2L1032.8 2318.3L1034 2318.4L1035.2 2318.4L1036.4 2318.5L1037.7 2318.6L1038.9 2318.6L1040.1 2318.7L1041.3 2318.8L1042.6 2318.8L1043.8 2318.9L1045 2318.9L1046.3 2319L1047.5 2319L1048.7 2319.1L1049.9 2319.1L1051.2 2319.1L1052.4 2319.2L1053.6 2319.2L1054.8 2319.3L1056.1 2319.3L1057.3 2319.3L1058.5 2319.3L1059.8 2319.4L1061 2319.4L1062.2 2319.4L1063.4 2319.4L1064.7 2319.5L1065.9 2319.5L1067.1 2319.5L1068.3 2319.5L1069.6 2319.6L1070.8 2319.6L1072 2319.6L1073.3 2319.6L1074.5 2319.6L1075.7 2319.7L1076.9 2319.7L1078.2 2319.7L1079.4 2319.7L1080.6 2319.7L1081.8 2319.8L1083.1 2319.8L1084.3 2319.8L1085.5 2319.8L1086.8 2319.8L1088 2319.8L1089.2 2319.8L1090.4 2319.9L1091.7 2319.9L1092.9 2319.9L1094.1 2319.9L1095.4 2319.9L1096.6 2319.9L1097.8 2319.9L1099 2319.9L1100.3 2319.9L1101.5 2319.9L1102.7 2319.9L1103.9 2319.9L1105.2 2319.9L1106.4 2320L1107.6 2320L1108.9 2320L1110.1 2320L1111.3 2320L1112.5 2320L1113.8 2320L1115 2320L1116.2 2320L1117.4 2320L1118.7 2320L1119.9 2320L1121.1 2320L1122.4 2320L1123.6 2320L1124.8 2320L1126 2320L1127.3 2320L1128.5 2320L1129.7 2320L1130.9 2320L1132.2 2320.1L1133.4 2320.1L1134.6 2320.1L1135.9 2320.1L1137.1 2320.1L1138.3 2320.1L1139.5 2320.1L1140.8 2320.1L1142 2320.1L1143.2 2320.1L1144.4 2320.1L1145.7 2320.1L1146.9 2320.1L1148.1 2320.1L1149.4 2320.1L1150.6 2320.1L1151.8 2320.1L1153 2320.1L1154.3 2320.1L1155.5 2320.1L1156.7 2320.1L1158 2320.1L1159.2 2320.1L1160.4 2320.1L1161.6 2320.2L1162.9 2320.2L1164.1 2320.2L1165.3 2320.2L1166.5 2320.2L1167.8 2320.2L1169 2320.2L1170.2 2320.2L1171.5 2320.2L1172.7 2320.2L1173.9 2320.2L1175.1 2320.2L1176.4 2320.2L1177.6 2320.2L1178.8 2320.2L1180 2320.2L1181.3 2320.2L1182.5 2320.2L1183.7 2320.2L1185 2320.2L1186.2 2320.2L1187.4 2320.2L1188.6 2320.2L1189.9 2320.2L1191.1 2320.2L1192.3 2320.2L1193.5 2320.2L1194.8 2320.2L1196 2320.2L1197.2 2320.3L1198.5 2320.3L1199.7 2320.3L1200.9 2320.3L1202.1 2320.3L1203.4 2320.3L1204.6 2320.3L1205.8 2320.3L1207.1 2320.3L1208.3 2320.3L1209.5 2320.3L1210.7 2320.3L1212 2320.3L1213.2 2320.3L1214.4 2320.3L1215.6 2320.3L1216.9 2320.3L1218.1 2320.3L1219.3 2320.3L1220.6 2320.3L1221.8 2320.3L1223 2320.3L1224.2 2320.3L1225.5 2320.3L1226.7 2320.3L1227.9 2320.3L1229.1 2320.3L1230.4 2320.3L1231.6 2320.3L1232.8 2320.3L1234.1 2320.3L1235.3 2320.3L1236.5 2320.3L1237.7 2320.3L1239 2320.3L1240.2 2320.3L1241.4 2320.3L1242.6 2320.3L1243.9 2320.3L1245.1 2320.3L1246.3 2320.3L1247.6 2320.3L1248.8 2320.3L1250 2320.3L1251.2 2320.3L1252.5 2320.3L1253.7 2320.3L1254.9 2320.3L1256.1 2320.3L1257.4 2320.3L1258.6 2320.3L1259.8 2320.3L1261.1 2320.3L1262.3 2320.3L1263.5 2320.3L1264.7 2320.3L1266 2320.3L1267.2 2320.3L1268.4 2320.3L1269.7 2320.4L1270.9 2320.4L1272.1 2320.4L1273.3 2320.4L1274.6 2320.4L1275.8 2320.4L1277 2320.4L1278.2 2320.4L1279.5 2320.4L1280.7 2320.4L1281.9 2320.4L1283.2 2320.4L1284.4 2320.4L1285.6 2320.4L1286.8 2320.4L1288.1 2320.4L1289.3 2320.4L1290.5 2320.4L1291.7 2320.4L1293 2320.4L1294.2 2320.4L1295.4 2320.4L1296.7 2320.4L1297.9 2320.4L1299.1 2320.4L1300.3 2320.4L1301.6 2320.4L1302.8 2320.4L1304 2320.4L1305.2 2320.4L1306.5 2320.4L1307.7 2320.4L1308.9 2320.4L1310.2 2320.4L1311.4 2320.4L1312.6 2320.4L1313.8 2320.4L1315.1 2320.4L1316.3 2320.4L1317.5 2320.4L1318.7 2320.4L1320 2320.4L1321.2 2320.4L1322.4 2320.4L1323.7 2320.4L1324.9 2320.4L1326.1 2320.4L1327.3 2320.4L1328.6 2320.4L1329.8 2320.4L1331 2320.4L1332.3 2320.4L1333.5 2320.4L1334.7 2320.4L1335.9 2320.4L1337.2 2320.4L1338.4 2320.4L1339.6 2320.4L1340.8 2320.4L1342.1 2320.4L1343.3 2320.4L1344.5 2320.4L1345.8 2320.4L1347 2320.4L1348.2 2320.4L1349.4 2320.4L1350.7 2320.4L1351.9 2320.4L1353.1 2320.4L1354.3 2320.4L1355.6 2320.4L1356.8 2320.4L1358 2320.4L1359.3 2320.4L1360.5 2320.4L1361.7 2320.4L1362.9 2320.4L1364.2 2320.4L1365.4 2320.4L1366.6 2320.4L1367.8 2320.4L1369.1 2320.4L1370.3 2320.4L1371.5 2320.4L1372.8 2320.4L1374 2320.4L1375.2 2320.4L1376.4 2320.4L1377.7 2320.4L1378.9 2320.4L1380.1 2320.4L1381.3 2320.4L1382.6 2320.4L1383.8 2320.4L1385 2320.4L1386.3 2320.4L1387.5 2320.4L1388.7 2320.4L1389.9 2320.4L1391.2 2320.4L1392.4 2320.4L1393.6 2320.4L1394.9 2320.4L1396.1 2320.4L1397.3 2320.4L1398.5 2320.4L1399.8 2320.4L1401 2320.4L1402.2 2320.4L1403.4 2320.4L1404.7 2320.4L1405.9 2320.4L1407.1 2320.4L1408.4 2320.4L1409.6 2320.4L1410.8 2320.4L1412 2320.4L1413.3 2320.4L1414.5 2320.4L1415.7 2320.4L1416.9 2320.4L1418.2 2320.4L1419.4 2320.4L1420.6 2320.4L1421.9 2320.4L1423.1 2320.4L1424.3 2320.4L1425.5 2320.4L1426.8 2320.4L1428 2320.4L1429.2 2320.4L1430.4 2320.4L1431.7 2320.4L1432.9 2320.4L1434.1 2320.4L1435.4 2320.4L1436.6 2320.4L1437.8 2320.4L1439 2320.4L1440.3 2320.4L1441.5 2320.4L1442.7 2320.4L1443.9 2320.4L1445.2 2320.4L1446.4 2320.4L1447.6 2320.4L1448.9 2320.4L1450.1 2320.4L1451.3 2320.4L1452.5 2320.4L1453.8 2320.4L1455 2320.4L1456.2 2320.4L1457.5 2320.4L1458.7 2320.4L1459.9 2320.4L1461.1 2320.4L1462.4 2320.4L1463.6 2320.4L1464.8 2320.4L1466 2320.4L1467.3 2320.4L1468.5 2320.4L1469.7 2320.4L1471 2320.4L1472.2 2320.4L1473.4 2320.4L1474.6 2320.4L1475.9 2320.4L1477.1 2320.4L1478.3 2320.4L1479.5 2320.4L1480.8 2320.4L1482 2320.4" stroke="#c41616" stroke-width="2.3" stroke-linejoin="round"/>
<path d="M869.6 1994.4l3.4 3.4l-3.4 3.4l-3.4 -3.4zM872.7 2014.6l3.4 3.4l-3.4 3.4l-3.4 -3.4zM875.8 2034.4l3.4 3.4l-3.4 3.4l-3.4 -3.4zM878.8 2052.4l3.4 3.4l-3.4 3.4l-3.4 -3.4zM881.9 2068.8l3.4 3.4l-3.4 3.4l-3.4 -3.4zM885.4 2082.2l3.4 3.4l-3.4 3.4l-3.4 -3.4zM888.5 2095l3.4 3.4l-3.4 3.4l-3.4 -3.4zM891.2 2107l3.4 3.4l-3.4 3.4l-3.4 -3.4zM895.7 2118.9l3.4 3.4l-3.4 3.4l-3.4 -3.4zM901.9 2141.4l3.4 3.4l-3.4 3.4l-3.4 -3.4zM908.3 2160.9l3.4 3.4l-3.4 3.4l-3.4 -3.4zM914.9 2178l3.4 3.4l-3.4 3.4l-3.4 -3.4zM921.5 2192.5l3.4 3.4l-3.4 3.4l-3.4 -3.4zM927.9 2205.4l3.4 3.4l-3.4 3.4l-3.4 -3.4zM934.5 2216.6l3.4 3.4l-3.4 3.4l-3.4 -3.4zM946.8 2233.7l3.4 3.4l-3.4 3.4l-3.4 -3.4zM959.2 2248.1l3.4 3.4l-3.4 3.4l-3.4 -3.4zM972.2 2259.4l3.4 3.4l-3.4 3.4l-3.4 -3.4zM985 2268.3l3.4 3.4l-3.4 3.4l-3.4 -3.4zM998.4 2275.9l3.4 3.4l-3.4 3.4l-3.4 -3.4zM1010.3 2281.5l3.4 3.4l-3.4 3.4l-3.4 -3.4zM1023.5 2286.6l3.4 3.4l-3.4 3.4l-3.4 -3.4zM1036.5 2290.3l3.4 3.4l-3.4 3.4l-3.4 -3.4zM1049.2 2293.8l3.4 3.4l-3.4 3.4l-3.4 -3.4zM1060.6 2296.1l3.4 3.4l-3.4 3.4l-3.4 -3.4zM1074.6 2299l3.4 3.4l-3.4 3.4l-3.4 -3.4zM1086.3 2301.1l3.4 3.4l-3.4 3.4l-3.4 -3.4zM1099.9 2303.1l3.4 3.4l-3.4 3.4l-3.4 -3.4zM1111.7 2304.8l3.4 3.4l-3.4 3.4l-3.4 -3.4zM1125.1 2306.2l3.4 3.4l-3.4 3.4l-3.4 -3.4zM1137.4 2307.2l3.4 3.4l-3.4 3.4l-3.4 -3.4zM1150 2308.3l3.4 3.4l-3.4 3.4l-3.4 -3.4zM1163 2309.7l3.4 3.4l-3.4 3.4l-3.4 -3.4zM1175.8 2311l3.4 3.4l-3.4 3.4l-3.4 -3.4zM1188.5 2311.9l3.4 3.4l-3.4 3.4l-3.4 -3.4zM1201.3 2312.8l3.4 3.4l-3.4 3.4l-3.4 -3.4zM1214 2313.4l3.4 3.4l-3.4 3.4l-3.4 -3.4zM1226.8 2314l3.4 3.4l-3.4 3.4l-3.4 -3.4zM1239.6 2314.4l3.4 3.4l-3.4 3.4l-3.4 -3.4zM1252.3 2314.8l3.4 3.4l-3.4 3.4l-3.4 -3.4zM1265.1 2315.1l3.4 3.4l-3.4 3.4l-3.4 -3.4zM1277.8 2315.4l3.4 3.4l-3.4 3.4l-3.4 -3.4zM1290.6 2315.6l3.4 3.4l-3.4 3.4l-3.4 -3.4zM1303.4 2315.8l3.4 3.4l-3.4 3.4l-3.4 -3.4zM1316.1 2315.9l3.4 3.4l-3.4 3.4l-3.4 -3.4zM1328.9 2316l3.4 3.4l-3.4 3.4l-3.4 -3.4zM1341.6 2316.1l3.4 3.4l-3.4 3.4l-3.4 -3.4zM1354.4 2316.2l3.4 3.4l-3.4 3.4l-3.4 -3.4zM1367.2 2316.3l3.4 3.4l-3.4 3.4l-3.4 -3.4zM1379.9 2316.3l3.4 3.4l-3.4 3.4l-3.4 -3.4zM1392.7 2316.4l3.4 3.4l-3.4 3.4l-3.4 -3.4zM1405.4 2316.4l3.4 3.4l-3.4 3.4l-3.4 -3.4zM1418.2 2316.5l3.4 3.4l-3.4 3.4l-3.4 -3.4zM1431 2316.5l3.4 3.4l-3.4 3.4l-3.4 -3.4zM1443.7 2316.5l3.4 3.4l-3.4 3.4l-3.4 -3.4zM1456.5 2316.5l3.4 3.4l-3.4 3.4l-3.4 -3.4zM1469.2 2316.5l3.4 3.4l-3.4 3.4l-3.4 -3.4zM1482 2316.5l3.4 3.4l-3.4 3.4l-3.4 -3.4z" stroke="#ff00ff" stroke-width="2.2"/>
<path d="M870.2 1815.5l0 -3.2M870.2 1815.5l-3.1 -1.3M870.2 1815.5l3.1 -1.3M870.2 1815.5l-1.8 3.1M870.2 1815.5l1.8 3.1M871.6 1850.5l0 -3.2M871.6 1850.5l-3.1 -1.3M871.6 1850.5l3.1 -1.3M871.6 1850.5l-1.8 3.1M871.6 1850.5l1.8 3.1M873.3 1883.4l0 -3.2M873.3 1883.4l-3.1 -1.3M873.3 1883.4l3.1 -1.3M873.3 1883.4l-1.8 3.1M873.3 1883.4l1.8 3.1M875.1 1912.9l0 -3.2M875.1 1912.9l-3.1 -1.3M875.1 1912.9l3.1 -1.3M875.1 1912.9l-1.8 3.1M875.1 1912.9l1.8 3.1M876.8 1940.5l0 -3.2M876.8 1940.5l-3.1 -1.3M876.8 1940.5l3.1 -1.3M876.8 1940.5l-1.8 3.1M876.8 1940.5l1.8 3.1M880.3 1988.1l0 -3.2M880.3 1988.1l-3.1 -1.3M880.3 1988.1l3.1 -1.3M880.3 1988.1l-1.8 3.1M880.3 1988.1l1.8 3.1M883 2030l0 -3.2M883 2030l-3.1 -1.3M883 2030l3.1 -1.3M883 2030l-1.8 3.1M883 2030l1.8 3.1M886.7 2059.3l0 -3.2M886.7 2059.3l-3.1 -1.3M886.7 2059.3l3.1 -1.3M886.7 2059.3l-1.8 3.1M886.7 2059.3l1.8 3.1M890.2 2085.6l0 -3.2M890.2 2085.6l-3.1 -1.3M890.2 2085.6l3.1 -1.3M890.2 2085.6l-1.8 3.1M890.2 2085.6l1.8 3.1M893.3 2109.3l0 -3.2M893.3 2109.3l-3.1 -1.3M893.3 2109.3l3.1 -1.3M893.3 2109.3l-1.8 3.1M893.3 2109.3l1.8 3.1M893.9 2131.6l0 -3.2M893.9 2131.6l-3.1 -1.3M893.9 2131.6l3.1 -1.3M893.9 2131.6l-1.8 3.1M893.9 2131.6l1.8 3.1M901.5 2167l0 -3.2M901.5 2167l-3.1 -1.3M901.5 2167l3.1 -1.3M901.5 2167l-1.8 3.1M901.5 2167l1.8 3.1M908.1 2195.9l0 -3.2M908.1 2195.9l-3.1 -1.3M908.1 2195.9l3.1 -1.3M908.1 2195.9l-1.8 3.1M908.1 2195.9l1.8 3.1M914.5 2218.5l0 -3.2M914.5 2218.5l-3.1 -1.3M914.5 2218.5l3.1 -1.3M914.5 2218.5l-1.8 3.1M914.5 2218.5l1.8 3.1M921.1 2237.1l0 -3.2M921.1 2237.1l-3.1 -1.3M921.1 2237.1l3.1 -1.3M921.1 2237.1l-1.8 3.1M921.1 2237.1l1.8 3.1M933.9 2262.8l0 -3.2M933.9 2262.8l-3.1 -1.3M933.9 2262.8l3.1 -1.3M933.9 2262.8l-1.8 3.1M933.9 2262.8l1.8 3.1M946.2 2278.3l0 -3.2M946.2 2278.3l-3.1 -1.3M946.2 2278.3l3.1 -1.3M946.2 2278.3l-1.8 3.1M946.2 2278.3l1.8 3.1M959.2 2289.6l0 -3.2M959.2 2289.6l-3.1 -1.3M959.2 2289.6l3.1 -1.3M959.2 2289.6l-1.8 3.1M959.2 2289.6l1.8 3.1M972.2 2297.9l0 -3.2M972.2 2297.9l-3.1 -1.3M972.2 2297.9l3.1 -1.3M972.2 2297.9l-1.8 3.1M972.2 2297.9l1.8 3.1M985 2303.6l0 -3.2M985 2303.6l-3.1 -1.3M985 2303.6l3.1 -1.3M985 2303.6l-1.8 3.1M985 2303.6l1.8 3.1M997.9 2308.2l0 -3.2M997.9 2308.2l-3.1 -1.3M997.9 2308.2l3.1 -1.3M997.9 2308.2l-1.8 3.1M997.9 2308.2l1.8 3.1M1010.3 2311.5l0 -3.2M1010.3 2311.5l-3.1 -1.3M1010.3 2311.5l3.1 -1.3M1010.3 2311.5l-1.8 3.1M1010.3 2311.5l1.8 3.1M1023.5 2313.9l0 -3.2M1023.5 2313.9l-3.1 -1.3M1023.5 2313.9l3.1 -1.3M1023.5 2313.9l-1.8 3.1M1023.5 2313.9l1.8 3.1M1036.5 2315.8l0 -3.2M1036.5 2315.8l-3.1 -1.3M1036.5 2315.8l3.1 -1.3M1036.5 2315.8l-1.8 3.1M1036.5 2315.8l1.8 3.1M1049.2 2317l0 -3.2M1049.2 2317l-3.1 -1.3M1049.2 2317l3.1 -1.3M1049.2 2317l-1.8 3.1M1049.2 2317l1.8 3.1M1060.6 2317.8l0 -3.2M1060.6 2317.8l-3.1 -1.3M1060.6 2317.8l3.1 -1.3M1060.6 2317.8l-1.8 3.1M1060.6 2317.8l1.8 3.1M1074.6 2318.7l0 -3.2M1074.6 2318.7l-3.1 -1.3M1074.6 2318.7l3.1 -1.3M1074.6 2318.7l-1.8 3.1M1074.6 2318.7l1.8 3.1M1086.3 2319.1l0 -3.2M1086.3 2319.1l-3.1 -1.3M1086.3 2319.1l3.1 -1.3M1086.3 2319.1l-1.8 3.1M1086.3 2319.1l1.8 3.1M1099.9 2319.5l0 -3.2M1099.9 2319.5l-3.1 -1.3M1099.9 2319.5l3.1 -1.3M1099.9 2319.5l-1.8 3.1M1099.9 2319.5l1.8 3.1M1111.7 2319.7l0 -3.2M1111.7 2319.7l-3.1 -1.3M1111.7 2319.7l3.1 -1.3M1111.7 2319.7l-1.8 3.1M1111.7 2319.7l1.8 3.1M1125.1 2319.9l0 -3.2M1125.1 2319.9l-3.1 -1.3M1125.1 2319.9l3.1 -1.3M1125.1 2319.9l-1.8 3.1M1125.1 2319.9l1.8 3.1M1137.4 2319.9l0 -3.2M1137.4 2319.9l-3.1 -1.3M1137.4 2319.9l3.1 -1.3M1137.4 2319.9l-1.8 3.1M1137.4 2319.9l1.8 3.1M1150.2 2319.9l0 -3.2M1150.2 2319.9l-3.1 -1.3M1150.2 2319.9l3.1 -1.3M1150.2 2319.9l-1.8 3.1M1150.2 2319.9l1.8 3.1M1163 2320l0 -3.2M1163 2320l-3.1 -1.3M1163 2320l3.1 -1.3M1163 2320l-1.8 3.1M1163 2320l1.8 3.1M1175.8 2320.1l0 -3.2M1175.8 2320.1l-3.1 -1.3M1175.8 2320.1l3.1 -1.3M1175.8 2320.1l-1.8 3.1M1175.8 2320.1l1.8 3.1M1188.5 2320.1l0 -3.2M1188.5 2320.1l-3.1 -1.3M1188.5 2320.1l3.1 -1.3M1188.5 2320.1l-1.8 3.1M1188.5 2320.1l1.8 3.1M1201.3 2320.2l0 -3.2M1201.3 2320.2l-3.1 -1.3M1201.3 2320.2l3.1 -1.3M1201.3 2320.2l-1.8 3.1M1201.3 2320.2l1.8 3.1M1214 2320.2l0 -3.2M1214 2320.2l-3.1 -1.3M1214 2320.2l3.1 -1.3M1214 2320.2l-1.8 3.1M1214 2320.2l1.8 3.1M1226.8 2320.2l0 -3.2M1226.8 2320.2l-3.1 -1.3M1226.8 2320.2l3.1 -1.3M1226.8 2320.2l-1.8 3.1M1226.8 2320.2l1.8 3.1M1239.6 2320.3l0 -3.2M1239.6 2320.3l-3.1 -1.3M1239.6 2320.3l3.1 -1.3M1239.6 2320.3l-1.8 3.1M1239.6 2320.3l1.8 3.1M1252.3 2320.3l0 -3.2M1252.3 2320.3l-3.1 -1.3M1252.3 2320.3l3.1 -1.3M1252.3 2320.3l-1.8 3.1M1252.3 2320.3l1.8 3.1M1265.1 2320.3l0 -3.2M1265.1 2320.3l-3.1 -1.3M1265.1 2320.3l3.1 -1.3M1265.1 2320.3l-1.8 3.1M1265.1 2320.3l1.8 3.1M1277.8 2320.3l0 -3.2M1277.8 2320.3l-3.1 -1.3M1277.8 2320.3l3.1 -1.3M1277.8 2320.3l-1.8 3.1M1277.8 2320.3l1.8 3.1M1290.6 2320.3l0 -3.2M1290.6 2320.3l-3.1 -1.3M1290.6 2320.3l3.1 -1.3M1290.6 2320.3l-1.8 3.1M1290.6 2320.3l1.8 3.1M1303.4 2320.4l0 -3.2M1303.4 2320.4l-3.1 -1.3M1303.4 2320.4l3.1 -1.3M1303.4 2320.4l-1.8 3.1M1303.4 2320.4l1.8 3.1M1316.1 2320.4l0 -3.2M1316.1 2320.4l-3.1 -1.3M1316.1 2320.4l3.1 -1.3M1316.1 2320.4l-1.8 3.1M1316.1 2320.4l1.8 3.1M1328.9 2320.4l0 -3.2M1328.9 2320.4l-3.1 -1.3M1328.9 2320.4l3.1 -1.3M1328.9 2320.4l-1.8 3.1M1328.9 2320.4l1.8 3.1M1341.6 2320.4l0 -3.2M1341.6 2320.4l-3.1 -1.3M1341.6 2320.4l3.1 -1.3M1341.6 2320.4l-1.8 3.1M1341.6 2320.4l1.8 3.1M1354.4 2320.4l0 -3.2M1354.4 2320.4l-3.1 -1.3M1354.4 2320.4l3.1 -1.3M1354.4 2320.4l-1.8 3.1M1354.4 2320.4l1.8 3.1M1367.2 2320.4l0 -3.2M1367.2 2320.4l-3.1 -1.3M1367.2 2320.4l3.1 -1.3M1367.2 2320.4l-1.8 3.1M1367.2 2320.4l1.8 3.1M1379.9 2320.4l0 -3.2M1379.9 2320.4l-3.1 -1.3M1379.9 2320.4l3.1 -1.3M1379.9 2320.4l-1.8 3.1M1379.9 2320.4l1.8 3.1M1392.7 2320.4l0 -3.2M1392.7 2320.4l-3.1 -1.3M1392.7 2320.4l3.1 -1.3M1392.7 2320.4l-1.8 3.1M1392.7 2320.4l1.8 3.1M1405.4 2320.4l0 -3.2M1405.4 2320.4l-3.1 -1.3M1405.4 2320.4l3.1 -1.3M1405.4 2320.4l-1.8 3.1M1405.4 2320.4l1.8 3.1M1418.2 2320.4l0 -3.2M1418.2 2320.4l-3.1 -1.3M1418.2 2320.4l3.1 -1.3M1418.2 2320.4l-1.8 3.1M1418.2 2320.4l1.8 3.1M1431 2320.4l0 -3.2M1431 2320.4l-3.1 -1.3M1431 2320.4l3.1 -1.3M1431 2320.4l-1.8 3.1M1431 2320.4l1.8 3.1M1443.7 2320.4l0 -3.2M1443.7 2320.4l-3.1 -1.3M1443.7 2320.4l3.1 -1.3M1443.7 2320.4l-1.8 3.1M1443.7 2320.4l1.8 3.1M1456.5 2320.4l0 -3.2M1456.5 2320.4l-3.1 -1.3M1456.5 2320.4l3.1 -1.3M1456.5 2320.4l-1.8 3.1M1456.5 2320.4l1.8 3.1M1469.2 2320.4l0 -3.2M1469.2 2320.4l-3.1 -1.3M1469.2 2320.4l3.1 -1.3M1469.2 2320.4l-1.8 3.1M1469.2 2320.4l1.8 3.1M1482 2320.4l0 -3.2M1482 2320.4l-3.1 -1.3M1482 2320.4l3.1 -1.3M1482 2320.4l-1.8 3.1M1482 2320.4l1.8 3.1" stroke="#000000" stroke-width="2.2" stroke-linecap="round"/>
<path d="M865.4 1875.8h9.2M870 1871.2v9.2M867 1902.6h9.2M871.6 1898v9.2M868.7 1928.2h9.2M873.3 1923.6v9.2M870.5 1951.4h9.2M875.1 1946.8v9.2M872.2 1972.3h9.2M876.8 1967.7v9.2M875.7 2010.6h9.2M880.3 2006v9.2M879.4 2044h9.2M884 2039.4v9.2M882.5 2068.1h9.2M887.1 2063.5v9.2M885.6 2089.8h9.2M890.2 2085.2v9.2M888.7 2109.3h9.2M893.3 2104.7v9.2M891.1 2126.8h9.2M895.7 2122.2v9.2M897.9 2160.2h9.2M902.5 2155.6v9.2M904.1 2186h9.2M908.7 2181.4v9.2M910.7 2206.8h9.2M915.3 2202.2v9.2M917.1 2223.7h9.2M921.7 2219.1v9.2M929.5 2248.4h9.2M934.1 2243.8v9.2M941.8 2264.5h9.2M946.4 2259.9v9.2M954.6 2276.2h9.2M959.2 2271.6v9.2M967.6 2285.9h9.2M972.2 2281.3v9.2M980.4 2292.7h9.2M985 2288.1v9.2M993.8 2297.9h9.2M998.4 2293.3v9.2M1005.7 2302h9.2M1010.3 2297.4v9.2M1018.9 2305.1h9.2M1023.5 2300.5v9.2M1031.9 2307.7h9.2M1036.5 2303.1v9.2M1044.6 2309.8h9.2M1049.2 2305.2v9.2M1056 2311.2h9.2M1060.6 2306.7v9.2M1070 2312.7h9.2M1074.6 2308.1v9.2M1081.7 2313.9h9.2M1086.3 2309.3v9.2M1095.3 2315h9.2M1099.9 2310.4v9.2M1107.1 2315.8h9.2M1111.7 2311.2v9.2M1120.5 2316.6h9.2M1125.1 2312v9.2M1132.8 2317.2h9.2M1137.4 2312.6v9.2M1145.6 2317.6h9.2M1150.2 2313v9.2M1158.4 2318h9.2M1163 2313.4v9.2M1171.2 2318.3h9.2M1175.8 2313.7v9.2M1183.9 2318.6h9.2M1188.5 2314v9.2M1196.7 2318.9h9.2M1201.3 2314.3v9.2M1209.4 2319.2h9.2M1214 2314.6v9.2M1222.2 2319.4h9.2M1226.8 2314.8v9.2M1235 2319.6h9.2M1239.6 2315v9.2M1247.7 2319.7h9.2M1252.3 2315.1v9.2M1260.5 2319.9h9.2M1265.1 2315.3v9.2M1273.2 2319.9h9.2M1277.8 2315.3v9.2M1286 2320h9.2M1290.6 2315.4v9.2M1298.8 2320.1h9.2M1303.4 2315.5v9.2M1311.5 2320.1h9.2M1316.1 2315.5v9.2M1324.3 2320.2h9.2M1328.9 2315.6v9.2M1337 2320.2h9.2M1341.6 2315.6v9.2M1349.8 2320.3h9.2M1354.4 2315.7v9.2M1362.6 2320.3h9.2M1367.2 2315.7v9.2M1375.3 2320.3h9.2M1379.9 2315.7v9.2M1388.1 2320.3h9.2M1392.7 2315.7v9.2M1400.8 2320.3h9.2M1405.4 2315.7v9.2M1413.6 2320.3h9.2M1418.2 2315.7v9.2M1426.4 2320.4h9.2M1431 2315.8v9.2M1439.1 2320.4h9.2M1443.7 2315.8v9.2M1451.9 2320.4h9.2M1456.5 2315.8v9.2M1464.6 2320.4h9.2M1469.2 2315.8v9.2M1477.4 2320.4h9.2M1482 2315.8v9.2" stroke="#ff0000" stroke-width="2.1"/>
<path d="M866.1 1997.8a3.45 3.45 0 1 0 6.9 0a3.45 3.45 0 1 0 -6.9 0M869.2 2018a3.45 3.45 0 1 0 6.9 0a3.45 3.45 0 1 0 -6.9 0M872.3 2037.8a3.45 3.45 0 1 0 6.9 0a3.45 3.45 0 1 0 -6.9 0M875.4 2055.8a3.45 3.45 0 1 0 6.9 0a3.45 3.45 0 1 0 -6.9 0M878.5 2072.2a3.45 3.45 0 1 0 6.9 0a3.45 3.45 0 1 0 -6.9 0M882 2085.6a3.45 3.45 0 1 0 6.9 0a3.45 3.45 0 1 0 -6.9 0M885.1 2098.4a3.45 3.45 0 1 0 6.9 0a3.45 3.45 0 1 0 -6.9 0M887.8 2110.4a3.45 3.45 0 1 0 6.9 0a3.45 3.45 0 1 0 -6.9 0M890.8 2131.4a3.45 3.45 0 1 0 6.9 0a3.45 3.45 0 1 0 -6.9 0M894.4 2155.1a3.45 3.45 0 1 0 6.9 0a3.45 3.45 0 1 0 -6.9 0M897 2174.8a3.45 3.45 0 1 0 6.9 0a3.45 3.45 0 1 0 -6.9 0M900.1 2192.4a3.45 3.45 0 1 0 6.9 0a3.45 3.45 0 1 0 -6.9 0M903.6 2207.2a3.45 3.45 0 1 0 6.9 0a3.45 3.45 0 1 0 -6.9 0M910.4 2231.9a3.45 3.45 0 1 0 6.9 0a3.45 3.45 0 1 0 -6.9 0M917 2250.5a3.45 3.45 0 1 0 6.9 0a3.45 3.45 0 1 0 -6.9 0M923.6 2264.9a3.45 3.45 0 1 0 6.9 0a3.45 3.45 0 1 0 -6.9 0M930 2276.2a3.45 3.45 0 1 0 6.9 0a3.45 3.45 0 1 0 -6.9 0M941.9 2291.3a3.45 3.45 0 1 0 6.9 0a3.45 3.45 0 1 0 -6.9 0M954.7 2300.9a3.45 3.45 0 1 0 6.9 0a3.45 3.45 0 1 0 -6.9 0M967.7 2308.2a3.45 3.45 0 1 0 6.9 0a3.45 3.45 0 1 0 -6.9 0M980.7 2312.5a3.45 3.45 0 1 0 6.9 0a3.45 3.45 0 1 0 -6.9 0M993.9 2315.6a3.45 3.45 0 1 0 6.9 0a3.45 3.45 0 1 0 -6.9 0M1005.6 2317.2a3.45 3.45 0 1 0 6.9 0a3.45 3.45 0 1 0 -6.9 0M1018.8 2318.5a3.45 3.45 0 1 0 6.9 0a3.45 3.45 0 1 0 -6.9 0M1032 2319.7a3.45 3.45 0 1 0 6.9 0a3.45 3.45 0 1 0 -6.9 0M1044.8 2320.3a3.45 3.45 0 1 0 6.9 0a3.45 3.45 0 1 0 -6.9 0M1056.3 2320.7a3.45 3.45 0 1 0 6.9 0a3.45 3.45 0 1 0 -6.9 0M1070.1 2320.9a3.45 3.45 0 1 0 6.9 0a3.45 3.45 0 1 0 -6.9 0M1081.9 2321.1a3.45 3.45 0 1 0 6.9 0a3.45 3.45 0 1 0 -6.9 0M1095.5 2321.1a3.45 3.45 0 1 0 6.9 0a3.45 3.45 0 1 0 -6.9 0M1107.2 2321.3a3.45 3.45 0 1 0 6.9 0a3.45 3.45 0 1 0 -6.9 0M1120.6 2321.3a3.45 3.45 0 1 0 6.9 0a3.45 3.45 0 1 0 -6.9 0M1133 2321.3a3.45 3.45 0 1 0 6.9 0a3.45 3.45 0 1 0 -6.9 0M1145.3 2321.3a3.45 3.45 0 1 0 6.9 0a3.45 3.45 0 1 0 -6.9 0M1159.5 2321.3a3.45 3.45 0 1 0 6.9 0a3.45 3.45 0 1 0 -6.9 0M1172.3 2321.1a3.45 3.45 0 1 0 6.9 0a3.45 3.45 0 1 0 -6.9 0M1185.1 2321.1a3.45 3.45 0 1 0 6.9 0a3.45 3.45 0 1 0 -6.9 0M1197.8 2321a3.45 3.45 0 1 0 6.9 0a3.45 3.45 0 1 0 -6.9 0M1210.6 2320.9a3.45 3.45 0 1 0 6.9 0a3.45 3.45 0 1 0 -6.9 0M1223.3 2320.9a3.45 3.45 0 1 0 6.9 0a3.45 3.45 0 1 0 -6.9 0M1236.1 2320.8a3.45 3.45 0 1 0 6.9 0a3.45 3.45 0 1 0 -6.9 0M1248.9 2320.8a3.45 3.45 0 1 0 6.9 0a3.45 3.45 0 1 0 -6.9 0M1261.6 2320.7a3.45 3.45 0 1 0 6.9 0a3.45 3.45 0 1 0 -6.9 0M1274.4 2320.7a3.45 3.45 0 1 0 6.9 0a3.45 3.45 0 1 0 -6.9 0M1287.1 2320.7a3.45 3.45 0 1 0 6.9 0a3.45 3.45 0 1 0 -6.9 0M1299.9 2320.7a3.45 3.45 0 1 0 6.9 0a3.45 3.45 0 1 0 -6.9 0M1312.7 2320.7a3.45 3.45 0 1 0 6.9 0a3.45 3.45 0 1 0 -6.9 0M1325.4 2320.7a3.45 3.45 0 1 0 6.9 0a3.45 3.45 0 1 0 -6.9 0M1338.2 2320.6a3.45 3.45 0 1 0 6.9 0a3.45 3.45 0 1 0 -6.9 0M1350.9 2320.6a3.45 3.45 0 1 0 6.9 0a3.45 3.45 0 1 0 -6.9 0M1363.7 2320.6a3.45 3.45 0 1 0 6.9 0a3.45 3.45 0 1 0 -6.9 0M1376.5 2320.6a3.45 3.45 0 1 0 6.9 0a3.45 3.45 0 1 0 -6.9 0M1389.2 2320.6a3.45 3.45 0 1 0 6.9 0a3.45 3.45 0 1 0 -6.9 0M1402 2320.6a3.45 3.45 0 1 0 6.9 0a3.45 3.45 0 1 0 -6.9 0M1414.7 2320.6a3.45 3.45 0 1 0 6.9 0a3.45 3.45 0 1 0 -6.9 0M1427.5 2320.6a3.45 3.45 0 1 0 6.9 0a3.45 3.45 0 1 0 -6.9 0M1440.3 2320.6a3.45 3.45 0 1 0 6.9 0a3.45 3.45 0 1 0 -6.9 0M1453 2320.6a3.45 3.45 0 1 0 6.9 0a3.45 3.45 0 1 0 -6.9 0M1465.8 2320.6a3.45 3.45 0 1 0 6.9 0a3.45 3.45 0 1 0 -6.9 0M1478.5 2320.6a3.45 3.45 0 1 0 6.9 0a3.45 3.45 0 1 0 -6.9 0" stroke="#0000ff" stroke-width="2.15"/>
<path d="M869.1 1936.1L870.3 1948L871.5 1961L872.8 1975.9L874 1990L875.2 2002.5L876.4 2014L877.7 2024.8L878.9 2034.9L880.1 2044.3L881.3 2052.9L882.6 2060L883.8 2066L885 2072.2L886.3 2078.7L887.5 2085.5L888.7 2093.1L889.9 2102.5L891.2 2112.1L892.4 2120L893.6 2126.9L894.9 2133.9L896.1 2141.7L897.3 2149.5L898.5 2156.5L899.8 2163.2L901 2169.3L902.2 2174.4L903.5 2178.2L904.7 2182.3L905.9 2186.7L907.1 2191.1L908.4 2195.6L909.6 2200L910.8 2204.2L912.1 2208.5L913.3 2212.6L914.5 2216.4L915.7 2220.1L917 2223.7L918.2 2227.1L919.4 2230.4L920.7 2233.6L921.9 2236.7L923.1 2239.7L924.3 2242.5L925.6 2245.3L926.8 2248L928 2250.6L929.3 2253L930.5 2255.3L931.7 2257.5L932.9 2259.5L934.2 2261.5L935.4 2263.3L936.6 2265.1L937.9 2266.8L939.1 2268.5L940.3 2270.2L941.5 2271.9L942.8 2273.6L944 2275.3L945.2 2276.8L946.5 2278.3L947.7 2279.7L948.9 2281L950.1 2282.2L951.4 2283.3L952.6 2284.4L953.8 2285.4L955 2286.4L956.3 2287.4L957.5 2288.4L958.7 2289.4L960 2290.4L961.2 2291.3L962.4 2292.2L963.6 2293L964.9 2293.8L966.1 2294.5L967.3 2295.2L968.6 2295.9L969.8 2296.6L971 2297.2L972.2 2297.8L973.5 2298.3L974.7 2298.9L975.9 2299.4L977.2 2300L978.4 2300.5L979.6 2301L980.8 2301.4L982.1 2301.9L983.3 2302.3L984.5 2302.7L985.8 2303.1L987 2303.5L988.2 2303.9L989.4 2304.2L990.7 2304.6L991.9 2304.9L993.1 2305.3L994.4 2305.6L995.6 2305.9L996.8 2306.3L998 2306.6L999.3 2307L1000.5 2307.3L1001.7 2307.7L1003 2308.1L1004.2 2308.6L1005.4 2309L1006.6 2309.4L1007.9 2309.8L1009.1 2310.1L1010.3 2310.4L1011.6 2310.7L1012.8 2311L1014 2311.2L1015.2 2311.5L1016.5 2311.7L1017.7 2311.9L1018.9 2312.1L1020.1 2312.4L1021.4 2312.6L1022.6 2312.8L1023.8 2313L1025.1 2313.2L1026.3 2313.3L1027.5 2313.5L1028.7 2313.7L1030 2313.9L1031.2 2314.1L1032.4 2314.2L1033.7 2314.4L1034.9 2314.6L1036.1 2314.7L1037.3 2314.9L1038.6 2315L1039.8 2315.1L1041 2315.2L1042.3 2315.4L1043.5 2315.5L1044.7 2315.6L1045.9 2315.7L1047.2 2315.8L1048.4 2315.9L1049.6 2316L1050.9 2316.1L1052.1 2316.2L1053.3 2316.3L1054.5 2316.4L1055.8 2316.5L1057 2316.6L1058.2 2316.7L1059.5 2316.7L1060.7 2316.8L1061.9 2316.9L1063.1 2317L1064.4 2317.1L1065.6 2317.1L1066.8 2317.2L1068.1 2317.3L1069.3 2317.3L1070.5 2317.4L1071.7 2317.5L1073 2317.5L1074.2 2317.6L1075.4 2317.7L1076.7 2317.8L1077.9 2317.8L1079.1 2317.9L1080.3 2318L1081.6 2318L1082.8 2318.1L1084 2318.2L1085.3 2318.2L1086.5 2318.3L1087.7 2318.3L1088.9 2318.3L1090.2 2318.4L1091.4 2318.4L1092.6 2318.5L1093.8 2318.5L1095.1 2318.5L1096.3 2318.6L1097.5 2318.6L1098.8 2318.6L1100 2318.7L1101.2 2318.7L1102.4 2318.8L1103.7 2318.8L1104.9 2318.9L1106.1 2318.9L1107.4 2318.9L1108.6 2319L1109.8 2319L1111 2319.1L1112.3 2319.1L1113.5 2319.1L1114.7 2319.1L1116 2319.2L1117.2 2319.2L1118.4 2319.2L1119.6 2319.2L1120.9 2319.2L1122.1 2319.2L1123.3 2319.3L1124.6 2319.3L1125.8 2319.3L1127 2319.3L1128.2 2319.3L1129.5 2319.4L1130.7 2319.4L1131.9 2319.4L1133.2 2319.4L1134.4 2319.4L1135.6 2319.5L1136.8 2319.5L1138.1 2319.5L1139.3 2319.5L1140.5 2319.5L1141.8 2319.5L1143 2319.6L1144.2 2319.6L1145.4 2319.6L1146.7 2319.6L1147.9 2319.6L1149.1 2319.6L1150.4 2319.6L1151.6 2319.7L1152.8 2319.7L1154 2319.7L1155.3 2319.7L1156.5 2319.7L1157.7 2319.7L1159 2319.7L1160.2 2319.7L1161.4 2319.7L1162.6 2319.8L1163.9 2319.8L1165.1 2319.8L1166.3 2319.8L1167.5 2319.8L1168.8 2319.8L1170 2319.8L1171.2 2319.8L1172.5 2319.8L1173.7 2319.8L1174.9 2319.9L1176.1 2319.9L1177.4 2319.9L1178.6 2319.9L1179.8 2319.9L1181.1 2319.9L1182.3 2319.9L1183.5 2319.9L1184.7 2319.9L1186 2319.9L1187.2 2319.9L1188.4 2319.9L1189.7 2320L1190.9 2320L1192.1 2320L1193.3 2320L1194.6 2320L1195.8 2320L1197 2320L1198.3 2320L1199.5 2320L1200.7 2320L1201.9 2320L1203.2 2320L1204.4 2320L1205.6 2320.1L1206.9 2320.1L1208.1 2320.1L1209.3 2320.1L1210.5 2320.1L1211.8 2320.1L1213 2320.1L1214.2 2320.1L1215.5 2320.1L1216.7 2320.1L1217.9 2320.1L1219.1 2320.1L1220.4 2320.1L1221.6 2320.1L1222.8 2320.1L1224.1 2320.1L1225.3 2320.1L1226.5 2320.1L1227.7 2320.2L1229 2320.2L1230.2 2320.2L1231.4 2320.2L1232.7 2320.2L1233.9 2320.2L1235.1 2320.2L1236.3 2320.2L1237.6 2320.2L1238.8 2320.2L1240 2320.2L1241.2 2320.2L1242.5 2320.2L1243.7 2320.2L1244.9 2320.2L1246.2 2320.2L1247.4 2320.2L1248.6 2320.2L1249.8 2320.2L1251.1 2320.2L1252.3 2320.2L1253.5 2320.2L1254.8 2320.2L1256 2320.2L1257.2 2320.2L1258.4 2320.2L1259.7 2320.2L1260.9 2320.2L1262.1 2320.3L1263.4 2320.3L1264.6 2320.3L1265.8 2320.3L1267 2320.3L1268.3 2320.3L1269.5 2320.3L1270.7 2320.3L1272 2320.3L1273.2 2320.3L1274.4 2320.3L1275.6 2320.3L1276.9 2320.3L1278.1 2320.3L1279.3 2320.3L1280.6 2320.3L1281.8 2320.3L1283 2320.3L1284.2 2320.3L1285.5 2320.3L1286.7 2320.3L1287.9 2320.3L1289.2 2320.3L1290.4 2320.3L1291.6 2320.3L1292.8 2320.3L1294.1 2320.3L1295.3 2320.3L1296.5 2320.3L1297.8 2320.3L1299 2320.3L1300.2 2320.3L1301.4 2320.3L1302.7 2320.3L1303.9 2320.3L1305.1 2320.3L1306.3 2320.3L1307.6 2320.3L1308.8 2320.3L1310 2320.3L1311.3 2320.3L1312.5 2320.3L1313.7 2320.3L1314.9 2320.3L1316.2 2320.3L1317.4 2320.3L1318.6 2320.3L1319.9 2320.3L1321.1 2320.3L1322.3 2320.3L1323.5 2320.3L1324.8 2320.3L1326 2320.3L1327.2 2320.3L1328.5 2320.3L1329.7 2320.3L1330.9 2320.3L1332.1 2320.3L1333.4 2320.3L1334.6 2320.4L1335.8 2320.4L1337.1 2320.4L1338.3 2320.4L1339.5 2320.4L1340.7 2320.4L1342 2320.4L1343.2 2320.4L1344.4 2320.4L1345.7 2320.4L1346.9 2320.4L1348.1 2320.4L1349.3 2320.4L1350.6 2320.4L1351.8 2320.4L1353 2320.4L1354.3 2320.4L1355.5 2320.4L1356.7 2320.4L1357.9 2320.4L1359.2 2320.4L1360.4 2320.4L1361.6 2320.4L1362.9 2320.4L1364.1 2320.4L1365.3 2320.4L1366.5 2320.4L1367.8 2320.4L1369 2320.4L1370.2 2320.4L1371.5 2320.4L1372.7 2320.4L1373.9 2320.4L1375.1 2320.4L1376.4 2320.4L1377.6 2320.4L1378.8 2320.4L1380 2320.4L1381.3 2320.4L1382.5 2320.4L1383.7 2320.4L1385 2320.4L1386.2 2320.4L1387.4 2320.4L1388.6 2320.4L1389.9 2320.4L1391.1 2320.4L1392.3 2320.4L1393.6 2320.4L1394.8 2320.4L1396 2320.4L1397.2 2320.4L1398.5 2320.4L1399.7 2320.4L1400.9 2320.4L1402.2 2320.4L1403.4 2320.4L1404.6 2320.4L1405.8 2320.4L1407.1 2320.4L1408.3 2320.4L1409.5 2320.4L1410.8 2320.4L1412 2320.4L1413.2 2320.4L1414.4 2320.4L1415.7 2320.4L1416.9 2320.4L1418.1 2320.4L1419.4 2320.4L1420.6 2320.4L1421.8 2320.4L1423 2320.4L1424.3 2320.4L1425.5 2320.4L1426.7 2320.4L1428 2320.4L1429.2 2320.4L1430.4 2320.4L1431.6 2320.4L1432.9 2320.4L1434.1 2320.4L1435.3 2320.4L1436.6 2320.4L1437.8 2320.4L1439 2320.4L1440.2 2320.4L1441.5 2320.4L1442.7 2320.4L1443.9 2320.4L1445.2 2320.4L1446.4 2320.4L1447.6 2320.4L1448.8 2320.4L1450.1 2320.4L1451.3 2320.4L1452.5 2320.4L1453.7 2320.4L1455 2320.4L1456.2 2320.4L1457.4 2320.4L1458.7 2320.4L1459.9 2320.4L1461.1 2320.4L1462.3 2320.4L1463.6 2320.4L1464.8 2320.4L1466 2320.4L1467.3 2320.4L1468.5 2320.4L1469.7 2320.4L1470.9 2320.4L1472.2 2320.4L1473.4 2320.4L1474.6 2320.4L1475.9 2320.4L1477.1 2320.4L1478.3 2320.4L1479.5 2320.4L1480.8 2320.4L1482 2320.4" stroke="#00ff00" stroke-width="2.3" stroke-linejoin="round"/>
<rect x="864.2" y="1808.2" width="622.7" height="518.2" stroke="#000" stroke-width="2.1"/>
<path d="M957 2326.4v10M1132 2326.4v10M1307 2326.4v10M1482 2326.4v10M869.5 2326.4v5.2M1044.5 2326.4v5.2M1219.5 2326.4v5.2M1394.5 2326.4v5.2M864.2 1905h-10M864.2 2008.9h-10M864.2 2112.8h-10M864.2 2216.7h-10M864.2 2320.6h-10M864.2 2299.8h-5.2M864.2 2279h-5.2M864.2 2258.3h-5.2M864.2 2237.5h-5.2M864.2 2195.9h-5.2M864.2 2175.1h-5.2M864.2 2154.4h-5.2M864.2 2133.6h-5.2M864.2 2092h-5.2M864.2 2071.2h-5.2M864.2 2050.5h-5.2M864.2 2029.7h-5.2M864.2 1988.1h-5.2M864.2 1967.3h-5.2M864.2 1946.6h-5.2M864.2 1925.8h-5.2M864.2 1884.2h-5.2M864.2 1863.4h-5.2M864.2 1842.7h-5.2M864.2 1821.9h-5.2" stroke="#000" stroke-width="1.8"/>
</g>
<g class="tk" transform="scale(1,1.04)">
<text x="957" y="2269.23" text-anchor="middle">1</text>
<text x="1132" y="2269.23" text-anchor="middle">2</text>
<text x="1307" y="2269.23" text-anchor="middle">3</text>
<text x="1482" y="2269.23" text-anchor="middle">4</text>
<text x="852.4" y="1839.62" text-anchor="end">20</text>
<text x="852.4" y="1939.52" text-anchor="end">15</text>
<text x="852.4" y="2039.42" text-anchor="end">10</text>
<text x="852.4" y="2139.33" text-anchor="end">5</text>
<text x="852.4" y="2239.23" text-anchor="end">0</text>
</g>
<text class="ax" x="1175.7" y="2383" text-anchor="middle">r</text>
<rect x="811.7" y="2385" width="671.4" height="88.9" fill="#fff" stroke="#000" stroke-width="1.7"/>
<g fill="none">
<path d="M818.3 2407.2H877.8" stroke="#c41616" stroke-width="2.3"/>
<path d="M1009.7 2404.5l3.4 3.4l-3.4 3.4l-3.4 -3.4z" stroke="#ff00ff" stroke-width="2.2"/>
<path d="M1166.4 2408.4l0 -3.2M1166.4 2408.4l-3.1 -1.3M1166.4 2408.4l3.1 -1.3M1166.4 2408.4l-1.8 3.1M1166.4 2408.4l1.8 3.1" stroke="#000000" stroke-width="2.2" stroke-linecap="round"/>
<path d="M1308.7 2408.1h9.2M1313.3 2403.5v9.2" stroke="#ff0000" stroke-width="2.1"/>
<path d="M845 2448.7a3.45 3.45 0 1 0 6.9 0a3.45 3.45 0 1 0 -6.9 0" stroke="#0000ff" stroke-width="2.15"/>
<path d="M978.8 2448.7H1038.3" stroke="#00ff00" stroke-width="2.3"/>
</g>
<text class="lg"><tspan class="rho" x="885.8" y="2420.5">ρ</tspan><tspan class="rho" x="1046.2" y="2416.4">ρ</tspan><tspan class="pl" x="1066.7" y="2417.8">+</tspan><tspan class="it" x="1088.7" y="2415.8">p</tspan><tspan class="sub" x="1103.2" y="2426.4">r</tspan><tspan class="rho" x="1203.2" y="2416.4">ρ</tspan><tspan class="pl" x="1223.7" y="2417.8">+</tspan><tspan class="it" x="1245.7" y="2415.8">p</tspan><tspan class="sub" x="1259.5" y="2426.4">t</tspan><tspan class="rho" x="1350.1" y="2416.4">ρ</tspan><tspan class="pl" x="1369.9" y="2417.8">+</tspan><tspan class="it" x="1391.3" y="2415.8">p</tspan><tspan class="sub" x="1405" y="2426.4">r</tspan><tspan class="pl" x="1414.3" y="2417.8">+</tspan><tspan x="1435.5" y="2415.8">2</tspan><tspan class="it" x="1448.2" y="2415.8">p</tspan><tspan class="sub" x="1462.5" y="2426.4">t</tspan><tspan x="886.9" y="2458.1">.</tspan><tspan class="rho" x="891.8" y="2458.7">ρ</tspan><tspan x="912.9" y="2458.1">-</tspan><tspan x="928.7" y="2458.1">|</tspan><tspan class="it" x="934.2" y="2458.1">p</tspan><tspan class="sub" x="947.9" y="2468.7">r</tspan><tspan x="957.5" y="2458.1">|</tspan><tspan class="rho" x="1046.2" y="2458.7">ρ</tspan><tspan x="1067.2" y="2458.1">-</tspan><tspan x="1082.7" y="2458.1">|</tspan><tspan class="it" x="1088.3" y="2458.1">p</tspan><tspan class="sub" x="1102.3" y="2468.7">t</tspan><tspan x="1107.9" y="2458.1">|</tspan></text>
<g class="cap">
<text class="b" x="1.3" y="738.3" textLength="46.5" lengthAdjust="spacingAndGlyphs">(a)</text>
<text x="67.3" y="738.3" textLength="57.5" lengthAdjust="spacingAndGlyphs">This</text>
<text x="134.4" y="738.3" textLength="75.7" lengthAdjust="spacingAndGlyphs">figure</text>
<text x="220.5" y="738.3" textLength="94.5" lengthAdjust="spacingAndGlyphs">depicts</text>
<text x="326.2" y="738.3" textLength="40.5" lengthAdjust="spacingAndGlyphs">the</text>
<text x="379.7" y="738.3" textLength="113" lengthAdjust="spacingAndGlyphs">behavior</text>
<text x="504.4" y="738.3" textLength="24" lengthAdjust="spacingAndGlyphs">of</text>
<text x="539.7" y="738.3" textLength="30" lengthAdjust="spacingAndGlyphs">all</text>
<text x="581.4" y="738.3" textLength="41.8" lengthAdjust="spacingAndGlyphs">EC</text>
<text x="634.9" y="738.3" textLength="75.2" lengthAdjust="spacingAndGlyphs">terms</text>
<text x="1.3" y="775.4" textLength="33.9" lengthAdjust="spacingAndGlyphs">for</text>
<text x="50.1" y="775.4" textLength="106" lengthAdjust="spacingAndGlyphs">Model-I</text>
<text x="169.1" y="775.4" textLength="24.6" lengthAdjust="spacingAndGlyphs">in</text>
<text x="207.5" y="775.4" textLength="107" lengthAdjust="spacingAndGlyphs">Subcase</text>
<text x="329.4" y="775.4" textLength="11.2" lengthAdjust="spacingAndGlyphs">1</text>
<text x="357" y="775.4" textLength="8.5" lengthAdjust="spacingAndGlyphs">(</text><text class="it" x="367.3" y="775.4" textLength="12.5" lengthAdjust="spacingAndGlyphs">ξ</text><text class="cs" x="380.9" y="780.2" textLength="10.5" lengthAdjust="spacingAndGlyphs">1</text>
<text class="rel" x="404.3" y="779.1" textLength="26.2" lengthAdjust="spacingAndGlyphs">=</text>
<text x="442.3" y="775.4" textLength="21.7" lengthAdjust="spacingAndGlyphs">0,</text>
<text class="it" x="478.3" y="775.4" textLength="18.5" lengthAdjust="spacingAndGlyphs">α</text><text class="cs" x="498.3" y="780.2" textLength="10.5" lengthAdjust="spacingAndGlyphs">1</text>
<text class="rel" x="522.5" y="779.1" textLength="26" lengthAdjust="spacingAndGlyphs">&gt;</text>
<text x="560" y="775.4" textLength="21.4" lengthAdjust="spacingAndGlyphs">0,</text>
<text class="it" x="595.8" y="775.4" textLength="16.9" lengthAdjust="spacingAndGlyphs">β</text><text class="cs" x="613.2" y="780.2" textLength="10.5" lengthAdjust="spacingAndGlyphs">1</text>
<text class="rel" x="637.9" y="779.1" textLength="25.4" lengthAdjust="spacingAndGlyphs">&gt;</text>
<text x="674.9" y="775.4" textLength="21.4" lengthAdjust="spacingAndGlyphs">0,</text>
<text class="it" x="0.8" y="812.7" textLength="17.5" lengthAdjust="spacingAndGlyphs">α</text>
<text class="rel" x="35.6" y="816.4" textLength="24.4" lengthAdjust="spacingAndGlyphs">&gt;</text>
<text x="78.3" y="812.7" textLength="33.4" lengthAdjust="spacingAndGlyphs">0).</text>
<text x="143" y="812.7" textLength="74.1" lengthAdjust="spacingAndGlyphs">NEC,</text>
<text x="236.2" y="812.7" textLength="71.8" lengthAdjust="spacingAndGlyphs">WEC</text>
<text x="325.7" y="812.7" textLength="47.5" lengthAdjust="spacingAndGlyphs">and</text>
<text x="390.9" y="812.7" textLength="65.2" lengthAdjust="spacingAndGlyphs">DEC</text>
<text x="474.4" y="812.7" textLength="39.9" lengthAdjust="spacingAndGlyphs">are</text>
<text x="530.5" y="812.7" textLength="75.7" lengthAdjust="spacingAndGlyphs">found</text>
<text x="623.2" y="812.7" textLength="26.9" lengthAdjust="spacingAndGlyphs">to</text>
<text x="667.5" y="812.7" textLength="30.1" lengthAdjust="spacingAndGlyphs">be</text>
<text x="0.8" y="849.8" textLength="106.7" lengthAdjust="spacingAndGlyphs">satisfied</text>
<text x="121.4" y="849.8" textLength="35.2" lengthAdjust="spacingAndGlyphs">for</text>
<text x="169.1" y="849.8" textLength="67.1" lengthAdjust="spacingAndGlyphs">every</text>
<text class="it" x="249.2" y="849.8" textLength="11.3" lengthAdjust="spacingAndGlyphs">r</text>
<text class="rel" x="271.7" y="853.5" textLength="25.5" lengthAdjust="spacingAndGlyphs">&gt;</text>
<text x="308.7" y="849.8" textLength="21.5" lengthAdjust="spacingAndGlyphs">0.</text>
<text class="b" x="800.4" y="738.3" textLength="49.6" lengthAdjust="spacingAndGlyphs">(b)</text>
<text x="867" y="738.3" textLength="58.7" lengthAdjust="spacingAndGlyphs">This</text>
<text x="936.2" y="738.3" textLength="75.7" lengthAdjust="spacingAndGlyphs">figure</text>
<text x="1022.3" y="738.3" textLength="94" lengthAdjust="spacingAndGlyphs">depicts</text>
<text x="1131" y="738.3" textLength="37.3" lengthAdjust="spacingAndGlyphs">the</text>
<text x="1180.6" y="738.3" textLength="112.7" lengthAdjust="spacingAndGlyphs">behavior</text>
<text x="1305.1" y="738.3" textLength="24.8" lengthAdjust="spacingAndGlyphs">of</text>
<text x="1339.8" y="738.3" textLength="30.8" lengthAdjust="spacingAndGlyphs">all</text>
<text x="1381.5" y="738.3" textLength="41.8" lengthAdjust="spacingAndGlyphs">EC</text>
<text x="1435.1" y="738.3" textLength="75.2" lengthAdjust="spacingAndGlyphs">terms</text>
<text x="800.4" y="775.4" textLength="34.5" lengthAdjust="spacingAndGlyphs">for</text>
<text x="849.5" y="775.4" textLength="106.2" lengthAdjust="spacingAndGlyphs">Model-I</text>
<text x="968.8" y="775.4" textLength="24.3" lengthAdjust="spacingAndGlyphs">in</text>
<text x="1006.6" y="775.4" textLength="107.8" lengthAdjust="spacingAndGlyphs">Subcase</text>
<text x="1127.5" y="775.4" textLength="13.6" lengthAdjust="spacingAndGlyphs">2</text>
<text x="1155.8" y="775.4" textLength="8.7" lengthAdjust="spacingAndGlyphs">(</text><text class="it" x="1166.3" y="775.4" textLength="12.8" lengthAdjust="spacingAndGlyphs">ξ</text><text class="cs" x="1180.3" y="780.2" textLength="10.7" lengthAdjust="spacingAndGlyphs">1</text>
<text class="rel" x="1204.4" y="779.1" textLength="25.3" lengthAdjust="spacingAndGlyphs">=</text>
<text x="1241.4" y="775.4" textLength="21.9" lengthAdjust="spacingAndGlyphs">0,</text>
<text class="it" x="1278.5" y="775.4" textLength="18.2" lengthAdjust="spacingAndGlyphs">α</text><text class="cs" x="1298.1" y="780.2" textLength="10.3" lengthAdjust="spacingAndGlyphs">1</text>
<text class="rel" x="1321.9" y="779.1" textLength="24.7" lengthAdjust="spacingAndGlyphs">&gt;</text>
<text x="1358.8" y="775.4" textLength="21.4" lengthAdjust="spacingAndGlyphs">0,</text>
<text class="it" x="1395.4" y="775.4" textLength="16.9" lengthAdjust="spacingAndGlyphs">β</text><text class="cs" x="1412.8" y="780.2" textLength="10.5" lengthAdjust="spacingAndGlyphs">1</text>
<text class="rel" x="1437.6" y="779.1" textLength="24.4" lengthAdjust="spacingAndGlyphs">&gt;</text>
<text x="1474.2" y="775.4" textLength="20.9" lengthAdjust="spacingAndGlyphs">0,</text>
<text class="it" x="800.4" y="812.7" textLength="17.5" lengthAdjust="spacingAndGlyphs">α</text>
<text class="rel" x="835.3" y="816.4" textLength="25.3" lengthAdjust="spacingAndGlyphs">&lt;</text>
<text x="877.4" y="812.7" textLength="33.9" lengthAdjust="spacingAndGlyphs">0).</text>
<text x="942.7" y="812.7" textLength="73.9" lengthAdjust="spacingAndGlyphs">NEC,</text>
<text x="1035.9" y="812.7" textLength="72" lengthAdjust="spacingAndGlyphs">WEC</text>
<text x="1125" y="812.7" textLength="47.8" lengthAdjust="spacingAndGlyphs">and</text>
<text x="1190.5" y="812.7" textLength="65.8" lengthAdjust="spacingAndGlyphs">DEC</text>
<text x="1274" y="812.7" textLength="39.7" lengthAdjust="spacingAndGlyphs">are</text>
<text x="1329.9" y="812.7" textLength="75.2" lengthAdjust="spacingAndGlyphs">found</text>
<text x="1423.3" y="812.7" textLength="26.1" lengthAdjust="spacingAndGlyphs">to</text>
<text x="1467.2" y="812.7" textLength="29.2" lengthAdjust="spacingAndGlyphs">be</text>
<text x="800.4" y="849.8" textLength="107" lengthAdjust="spacingAndGlyphs">satisfied</text>
<text x="921.3" y="849.8" textLength="34.5" lengthAdjust="spacingAndGlyphs">for</text>
<text x="968.8" y="849.8" textLength="67.1" lengthAdjust="spacingAndGlyphs">every</text>
<text class="it" x="1048.4" y="849.8" textLength="11.7" lengthAdjust="spacingAndGlyphs">r</text>
<text class="rel" x="1072.3" y="853.5" textLength="24.7" lengthAdjust="spacingAndGlyphs">&gt;</text>
<text x="1108.4" y="849.8" textLength="21.4" lengthAdjust="spacingAndGlyphs">0.</text>
<text class="b" x="1.3" y="1637.8" textLength="44.4" lengthAdjust="spacingAndGlyphs">(c)</text>
<text x="60" y="1637.8" textLength="56.9" lengthAdjust="spacingAndGlyphs">This</text>
<text x="127.1" y="1637.8" textLength="75.2" lengthAdjust="spacingAndGlyphs">figure</text>
<text x="212.7" y="1637.8" textLength="78.3" lengthAdjust="spacingAndGlyphs">shows</text>
<text x="302.2" y="1637.8" textLength="42.8" lengthAdjust="spacingAndGlyphs">the</text>
<text x="354.4" y="1637.8" textLength="88.7" lengthAdjust="spacingAndGlyphs">nature</text>
<text x="452.2" y="1637.8" textLength="24.8" lengthAdjust="spacingAndGlyphs">of</text>
<text x="486.9" y="1637.8" textLength="30.5" lengthAdjust="spacingAndGlyphs">all</text>
<text x="528.4" y="1637.8" textLength="42.5" lengthAdjust="spacingAndGlyphs">EC</text>
<text x="582.7" y="1637.8" textLength="74.9" lengthAdjust="spacingAndGlyphs">terms</text>
<text x="667.5" y="1637.8" textLength="35.8" lengthAdjust="spacingAndGlyphs">for</text>
<text x="1.3" y="1674.8" textLength="105.7" lengthAdjust="spacingAndGlyphs">Model-I</text>
<text x="118.8" y="1674.8" textLength="24.8" lengthAdjust="spacingAndGlyphs">in</text>
<text x="156.1" y="1674.8" textLength="107.5" lengthAdjust="spacingAndGlyphs">Subcase</text>
<text x="276.1" y="1674.8" textLength="13.6" lengthAdjust="spacingAndGlyphs">4</text>
<text x="304.1" y="1674.8" textLength="8.5" lengthAdjust="spacingAndGlyphs">(</text><text class="it" x="314.3" y="1674.8" textLength="12.5" lengthAdjust="spacingAndGlyphs">ξ</text><text class="cs" x="328" y="1679.6" textLength="10.5" lengthAdjust="spacingAndGlyphs">1</text>
<text class="rel" x="349.4" y="1678.5" textLength="26.9" lengthAdjust="spacingAndGlyphs">=</text>
<text x="384.9" y="1674.8" textLength="23" lengthAdjust="spacingAndGlyphs">0,</text>
<text class="it" x="420.9" y="1674.8" textLength="18.8" lengthAdjust="spacingAndGlyphs">α</text><text class="cs" x="441.3" y="1679.6" textLength="10.7" lengthAdjust="spacingAndGlyphs">1</text>
<text class="rel" x="463.6" y="1678.5" textLength="24.7" lengthAdjust="spacingAndGlyphs">&lt;</text>
<text x="499.2" y="1674.8" textLength="21.4" lengthAdjust="spacingAndGlyphs">0,</text>
<text class="it" x="533.7" y="1674.8" textLength="17.4" lengthAdjust="spacingAndGlyphs">β</text><text class="cs" x="551.6" y="1679.6" textLength="10.8" lengthAdjust="spacingAndGlyphs">1</text>
<text class="rel" x="574" y="1678.5" textLength="25.3" lengthAdjust="spacingAndGlyphs">&lt;</text>
<text x="610.1" y="1674.8" textLength="21.7" lengthAdjust="spacingAndGlyphs">0,</text>
<text class="it" x="644.8" y="1674.8" textLength="17.5" lengthAdjust="spacingAndGlyphs">α</text>
<text class="rel" x="673.2" y="1678.5" textLength="24.4" lengthAdjust="spacingAndGlyphs">&lt;</text>
<text x="1.3" y="1712.1" textLength="32.6" lengthAdjust="spacingAndGlyphs">0).</text>
<text x="56.6" y="1712.1" textLength="93.4" lengthAdjust="spacingAndGlyphs">Except</text>
<text x="163.1" y="1712.1" textLength="67.9" lengthAdjust="spacingAndGlyphs">SEC,</text>
<text x="246.6" y="1712.1" textLength="30" lengthAdjust="spacingAndGlyphs">all</text>
<text x="291.8" y="1712.1" textLength="55.3" lengthAdjust="spacingAndGlyphs">ECs</text>
<text x="360.9" y="1712.1" textLength="40.5" lengthAdjust="spacingAndGlyphs">are</text>
<text x="414.4" y="1712.1" textLength="75.7" lengthAdjust="spacingAndGlyphs">found</text>
<text x="504.4" y="1712.1" textLength="26.1" lengthAdjust="spacingAndGlyphs">to</text>
<text x="545.4" y="1712.1" textLength="30" lengthAdjust="spacingAndGlyphs">be</text>
<text x="587.9" y="1712.1" textLength="108.3" lengthAdjust="spacingAndGlyphs">satisfied</text>
<text x="1.3" y="1749.2" textLength="33.9" lengthAdjust="spacingAndGlyphs">for</text>
<text x="48.3" y="1749.2" textLength="66.6" lengthAdjust="spacingAndGlyphs">every</text>
<text class="it" x="131.3" y="1749.2" textLength="10.4" lengthAdjust="spacingAndGlyphs">r</text>
<text class="rel" x="154" y="1752.9" textLength="23.4" lengthAdjust="spacingAndGlyphs">&gt;</text>
<text x="188.4" y="1749.2" textLength="20.4" lengthAdjust="spacingAndGlyphs">0.</text>
<text class="b" x="800.4" y="1637.8" textLength="49.1" lengthAdjust="spacingAndGlyphs">(d)</text>
<text x="864.4" y="1637.8" textLength="56.1" lengthAdjust="spacingAndGlyphs">This</text>
<text x="930.9" y="1637.8" textLength="75.2" lengthAdjust="spacingAndGlyphs">figure</text>
<text x="1016.5" y="1637.8" textLength="94.5" lengthAdjust="spacingAndGlyphs">depicts</text>
<text x="1121.5" y="1637.8" textLength="42.3" lengthAdjust="spacingAndGlyphs">the</text>
<text x="1175.9" y="1637.8" textLength="113" lengthAdjust="spacingAndGlyphs">behavior</text>
<text x="1300.1" y="1637.8" textLength="24.5" lengthAdjust="spacingAndGlyphs">of</text>
<text x="1335.1" y="1637.8" textLength="30.3" lengthAdjust="spacingAndGlyphs">all</text>
<text x="1376.3" y="1637.8" textLength="41.8" lengthAdjust="spacingAndGlyphs">EC</text>
<text x="1429.8" y="1637.8" textLength="74.9" lengthAdjust="spacingAndGlyphs">terms</text>
<text x="800.4" y="1674.8" textLength="34.5" lengthAdjust="spacingAndGlyphs">for</text>
<text x="850.5" y="1674.8" textLength="106.5" lengthAdjust="spacingAndGlyphs">Model-I</text>
<text x="972.7" y="1674.8" textLength="24.8" lengthAdjust="spacingAndGlyphs">in</text>
<text x="1012.4" y="1674.8" textLength="107.8" lengthAdjust="spacingAndGlyphs">Subcase</text>
<text x="1138.4" y="1674.8" textLength="13" lengthAdjust="spacingAndGlyphs">7</text>
<text x="1167.5" y="1674.8" textLength="8.5" lengthAdjust="spacingAndGlyphs">(</text><text class="it" x="1177.8" y="1674.8" textLength="12.5" lengthAdjust="spacingAndGlyphs">ξ</text><text class="cs" x="1191.5" y="1679.6" textLength="10.5" lengthAdjust="spacingAndGlyphs">1</text>
<text class="rel" x="1217.9" y="1678.5" textLength="26.3" lengthAdjust="spacingAndGlyphs">=</text>
<text x="1260.7" y="1674.8" textLength="21.7" lengthAdjust="spacingAndGlyphs">0,</text>
<text class="it" x="1300.1" y="1674.8" textLength="18.3" lengthAdjust="spacingAndGlyphs">α</text><text class="cs" x="1320" y="1679.6" textLength="10.4" lengthAdjust="spacingAndGlyphs">1</text>
<text class="rel" x="1346.8" y="1678.5" textLength="24.4" lengthAdjust="spacingAndGlyphs">&lt;</text>
<text x="1388.1" y="1674.8" textLength="21.7" lengthAdjust="spacingAndGlyphs">0,</text>
<text class="it" x="1426.7" y="1674.8" textLength="17.3" lengthAdjust="spacingAndGlyphs">β</text><text class="cs" x="1444.5" y="1679.6" textLength="10.7" lengthAdjust="spacingAndGlyphs">1</text>
<text class="rel" x="1472.8" y="1678.5" textLength="24.4" lengthAdjust="spacingAndGlyphs">&gt;</text>
<text x="800.4" y="1712.1" textLength="21.4" lengthAdjust="spacingAndGlyphs">0,</text>
<text class="it" x="838.3" y="1712.1" textLength="17" lengthAdjust="spacingAndGlyphs">α</text>
<text class="rel" x="869.5" y="1715.8" textLength="25" lengthAdjust="spacingAndGlyphs">&gt;</text>
<text x="908.2" y="1712.1" textLength="33.1" lengthAdjust="spacingAndGlyphs">0).</text>
<text x="966.7" y="1712.1" textLength="93.4" lengthAdjust="spacingAndGlyphs">Except</text>
<text x="1074.5" y="1712.1" textLength="75.2" lengthAdjust="spacingAndGlyphs">DEC,</text>
<text x="1164.9" y="1712.1" textLength="30.5" lengthAdjust="spacingAndGlyphs">all</text>
<text x="1210.6" y="1712.1" textLength="54.8" lengthAdjust="spacingAndGlyphs">ECs</text>
<text x="1280.3" y="1712.1" textLength="39.9" lengthAdjust="spacingAndGlyphs">are</text>
<text x="1334.6" y="1712.1" textLength="75.2" lengthAdjust="spacingAndGlyphs">found</text>
<text x="1425.9" y="1712.1" textLength="25.6" lengthAdjust="spacingAndGlyphs">to</text>
<text x="1467.7" y="1712.1" textLength="29.2" lengthAdjust="spacingAndGlyphs">be</text>
<text x="800.4" y="1749.2" textLength="107" lengthAdjust="spacingAndGlyphs">satisfied</text>
<text x="921.3" y="1749.2" textLength="34.5" lengthAdjust="spacingAndGlyphs">for</text>
<text x="968.8" y="1749.2" textLength="67.1" lengthAdjust="spacingAndGlyphs">every</text>
<text class="it" x="1048.4" y="1749.2" textLength="11.7" lengthAdjust="spacingAndGlyphs">r</text>
<text class="rel" x="1072.3" y="1752.9" textLength="24.7" lengthAdjust="spacingAndGlyphs">&gt;</text>
<text x="1108.4" y="1749.2" textLength="21.4" lengthAdjust="spacingAndGlyphs">0.</text>
<text class="b" x="1.3" y="2541.5" textLength="44.4" lengthAdjust="spacingAndGlyphs">(e)</text>
<text x="60" y="2541.5" textLength="56.9" lengthAdjust="spacingAndGlyphs">This</text>
<text x="127.1" y="2541.5" textLength="75.9" lengthAdjust="spacingAndGlyphs">figure</text>
<text x="213.5" y="2541.5" textLength="94" lengthAdjust="spacingAndGlyphs">depicts</text>
<text x="318.4" y="2541.5" textLength="41.8" lengthAdjust="spacingAndGlyphs">the</text>
<text x="373.1" y="2541.5" textLength="113.8" lengthAdjust="spacingAndGlyphs">behavior</text>
<text x="497.9" y="2541.5" textLength="24.8" lengthAdjust="spacingAndGlyphs">of</text>
<text x="533.1" y="2541.5" textLength="30.5" lengthAdjust="spacingAndGlyphs">all</text>
<text x="574.9" y="2541.5" textLength="42.3" lengthAdjust="spacingAndGlyphs">EC</text>
<text x="628.4" y="2541.5" textLength="74.9" lengthAdjust="spacingAndGlyphs">terms</text>
<text x="1.3" y="2578.6" textLength="33.9" lengthAdjust="spacingAndGlyphs">for</text>
<text x="52.2" y="2578.6" textLength="106.2" lengthAdjust="spacingAndGlyphs">Model-I</text>
<text x="173.6" y="2578.6" textLength="24.8" lengthAdjust="spacingAndGlyphs">in</text>
<text x="213.5" y="2578.6" textLength="107.5" lengthAdjust="spacingAndGlyphs">Subcase</text>
<text x="336.7" y="2578.6" textLength="14.4" lengthAdjust="spacingAndGlyphs">8</text>
<text x="367.4" y="2578.6" textLength="8.8" lengthAdjust="spacingAndGlyphs">(</text><text class="it" x="378.1" y="2578.6" textLength="13" lengthAdjust="spacingAndGlyphs">ξ</text><text class="cs" x="392.3" y="2583.4" textLength="10.9" lengthAdjust="spacingAndGlyphs">1</text>
<text class="rel" x="418.6" y="2582.3" textLength="26.3" lengthAdjust="spacingAndGlyphs">=</text>
<text x="460.8" y="2578.6" textLength="21.9" lengthAdjust="spacingAndGlyphs">0,</text>
<text class="it" x="500.5" y="2578.6" textLength="18.5" lengthAdjust="spacingAndGlyphs">α</text><text class="cs" x="520.5" y="2583.4" textLength="10.5" lengthAdjust="spacingAndGlyphs">1</text>
<text class="rel" x="547.9" y="2582.3" textLength="24.7" lengthAdjust="spacingAndGlyphs">&lt;</text>
<text x="588.5" y="2578.6" textLength="21.7" lengthAdjust="spacingAndGlyphs">0,</text>
<text class="it" x="627.1" y="2578.6" textLength="17.4" lengthAdjust="spacingAndGlyphs">β</text><text class="cs" x="645" y="2583.4" textLength="10.8" lengthAdjust="spacingAndGlyphs">1</text>
<text class="rel" x="673.2" y="2582.3" textLength="24.4" lengthAdjust="spacingAndGlyphs">&gt;</text>
<text x="1.3" y="2616" textLength="21.4" lengthAdjust="spacingAndGlyphs">0,</text>
<text class="it" x="39.1" y="2616" textLength="17" lengthAdjust="spacingAndGlyphs">α</text>
<text class="rel" x="70.9" y="2619.7" textLength="24.4" lengthAdjust="spacingAndGlyphs">&lt;</text>
<text x="109.6" y="2616" textLength="33.4" lengthAdjust="spacingAndGlyphs">0).</text>
<text x="167" y="2616" textLength="94" lengthAdjust="spacingAndGlyphs">Except</text>
<text x="275.3" y="2616" textLength="74.4" lengthAdjust="spacingAndGlyphs">DEC,</text>
<text x="365.3" y="2616" textLength="30.8" lengthAdjust="spacingAndGlyphs">all</text>
<text x="411" y="2616" textLength="55.6" lengthAdjust="spacingAndGlyphs">ECs</text>
<text x="480.9" y="2616" textLength="39.9" lengthAdjust="spacingAndGlyphs">are</text>
<text x="535.2" y="2616" textLength="74.9" lengthAdjust="spacingAndGlyphs">found</text>
<text x="626.3" y="2616" textLength="25.6" lengthAdjust="spacingAndGlyphs">to</text>
<text x="668.1" y="2616" textLength="29.5" lengthAdjust="spacingAndGlyphs">be</text>
<text x="0.8" y="2653.3" textLength="106.7" lengthAdjust="spacingAndGlyphs">satisfied</text>
<text x="121.4" y="2653.3" textLength="35.2" lengthAdjust="spacingAndGlyphs">for</text>
<text x="169.1" y="2653.3" textLength="67.1" lengthAdjust="spacingAndGlyphs">every</text>
<text class="it" x="249.2" y="2653.3" textLength="11.3" lengthAdjust="spacingAndGlyphs">r</text>
<text class="rel" x="271.7" y="2657" textLength="25.5" lengthAdjust="spacingAndGlyphs">&gt;</text>
<text x="308.7" y="2653.3" textLength="21.5" lengthAdjust="spacingAndGlyphs">0.</text>
<text class="b" x="800.4" y="2541.5" textLength="39.1" lengthAdjust="spacingAndGlyphs">(f)</text>
<text x="853.4" y="2541.5" textLength="57.4" lengthAdjust="spacingAndGlyphs">This</text>
<text x="921.3" y="2541.5" textLength="76.2" lengthAdjust="spacingAndGlyphs">figure</text>
<text x="1007.9" y="2541.5" textLength="94.7" lengthAdjust="spacingAndGlyphs">depicts</text>
<text x="1113.6" y="2541.5" textLength="42.3" lengthAdjust="spacingAndGlyphs">the</text>
<text x="1168.8" y="2541.5" textLength="113.5" lengthAdjust="spacingAndGlyphs">behavior</text>
<text x="1293.3" y="2541.5" textLength="24.8" lengthAdjust="spacingAndGlyphs">of</text>
<text x="1328.6" y="2541.5" textLength="30.8" lengthAdjust="spacingAndGlyphs">all</text>
<text x="1370.6" y="2541.5" textLength="42.3" lengthAdjust="spacingAndGlyphs">EC</text>
<text x="1424.6" y="2541.5" textLength="74.9" lengthAdjust="spacingAndGlyphs">terms</text>
<text x="800.4" y="2578.6" textLength="34.5" lengthAdjust="spacingAndGlyphs">for</text>
<text x="849.5" y="2578.6" textLength="106.2" lengthAdjust="spacingAndGlyphs">Model-I</text>
<text x="968.8" y="2578.6" textLength="24.3" lengthAdjust="spacingAndGlyphs">in</text>
<text x="1006.6" y="2578.6" textLength="107.8" lengthAdjust="spacingAndGlyphs">Subcase</text>
<text x="1127.5" y="2578.6" textLength="13.6" lengthAdjust="spacingAndGlyphs">9</text>
<text x="1155.8" y="2578.6" textLength="8.7" lengthAdjust="spacingAndGlyphs">(</text><text class="it" x="1166.3" y="2578.6" textLength="12.8" lengthAdjust="spacingAndGlyphs">ξ</text><text class="cs" x="1180.3" y="2583.4" textLength="10.7" lengthAdjust="spacingAndGlyphs">1</text>
<text class="rel" x="1204.4" y="2582.3" textLength="25.3" lengthAdjust="spacingAndGlyphs">&gt;</text>
<text x="1241.4" y="2578.6" textLength="21.9" lengthAdjust="spacingAndGlyphs">0,</text>
<text class="it" x="1278.5" y="2578.6" textLength="18.2" lengthAdjust="spacingAndGlyphs">α</text><text class="cs" x="1298.1" y="2583.4" textLength="10.3" lengthAdjust="spacingAndGlyphs">1</text>
<text class="rel" x="1321.9" y="2582.3" textLength="24.7" lengthAdjust="spacingAndGlyphs">&gt;</text>
<text x="1358.8" y="2578.6" textLength="21.4" lengthAdjust="spacingAndGlyphs">0,</text>
<text class="it" x="1395.4" y="2578.6" textLength="16.9" lengthAdjust="spacingAndGlyphs">β</text><text class="cs" x="1412.8" y="2583.4" textLength="10.5" lengthAdjust="spacingAndGlyphs">1</text>
<text class="rel" x="1437.6" y="2582.3" textLength="24.4" lengthAdjust="spacingAndGlyphs">&gt;</text>
<text x="1474.2" y="2578.6" textLength="20.9" lengthAdjust="spacingAndGlyphs">0,</text>
<text class="it" x="800.4" y="2616" textLength="17.5" lengthAdjust="spacingAndGlyphs">α</text>
<text class="rel" x="835.3" y="2619.7" textLength="25.3" lengthAdjust="spacingAndGlyphs">&gt;</text>
<text x="877.4" y="2616" textLength="33.9" lengthAdjust="spacingAndGlyphs">0).</text>
<text x="943.5" y="2616" textLength="38.4" lengthAdjust="spacingAndGlyphs">All</text>
<text x="998.8" y="2616" textLength="54.8" lengthAdjust="spacingAndGlyphs">ECs</text>
<text x="1070.6" y="2616" textLength="40.5" lengthAdjust="spacingAndGlyphs">are</text>
<text x="1126.8" y="2616" textLength="83.8" lengthAdjust="spacingAndGlyphs">shown</text>
<text x="1228.1" y="2616" textLength="25.6" lengthAdjust="spacingAndGlyphs">to</text>
<text x="1270.6" y="2616" textLength="85.3" lengthAdjust="spacingAndGlyphs">satisfy</text>
<text x="1372.9" y="2616" textLength="35.5" lengthAdjust="spacingAndGlyphs">for</text>
<text x="1425.4" y="2616" textLength="71" lengthAdjust="spacingAndGlyphs">every</text>
<text class="it" x="800.4" y="2653.3" textLength="12.5" lengthAdjust="spacingAndGlyphs">r</text>
<text class="rel" x="823" y="2657" textLength="24.7" lengthAdjust="spacingAndGlyphs">&gt;</text>
<text x="858.6" y="2653.3" textLength="20.1" lengthAdjust="spacingAndGlyphs">0.</text>
</g>
</svg>
</body></html>
